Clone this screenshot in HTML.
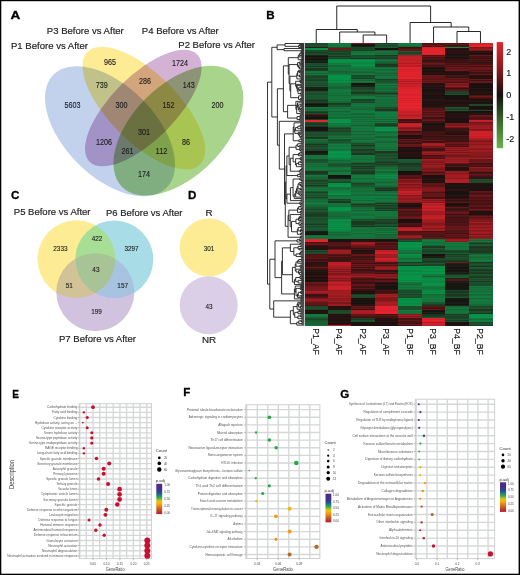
<!DOCTYPE html><html><head><meta charset="utf-8"><style>html,body{margin:0;padding:0;background:#fff;}svg{display:block;} text{font-family:"Liberation Sans",sans-serif;}</style></head><body>
<svg width="520" height="575" viewBox="0 0 520 575">
<rect width="520" height="575" fill="#fff"/>
<text x="10.4" y="18.8" font-size="11.6" fill="#000" font-weight="bold" stroke="#000" stroke-width="0.3" textLength="9.8" lengthAdjust="spacingAndGlyphs">A</text>
<g>
<ellipse cx="0" cy="0" rx="80" ry="45.4" transform="translate(110 131.3) rotate(45)" fill="#c2d2ec" style="mix-blend-mode:multiply"/>
<ellipse cx="0" cy="0" rx="79.6" ry="34.4" transform="translate(143.85 108.1) rotate(45)" fill="#feec95" style="mix-blend-mode:multiply"/>
<ellipse cx="0" cy="0" rx="76" ry="32" transform="translate(143.3 108) rotate(-45)" fill="#d4b2d6" style="mix-blend-mode:multiply"/>
<ellipse cx="0" cy="0" rx="79.6" ry="45.8" transform="translate(178.4 130.6) rotate(-45)" fill="#a9d48b" style="mix-blend-mode:multiply"/>
</g>
<text x="46.8" y="34.4" font-size="9.8" fill="#1e1e1e" stroke="#1e1e1e" stroke-width="0.18" textLength="77" lengthAdjust="spacingAndGlyphs">P3 Before vs After</text>
<text x="141.8" y="34.4" font-size="9.8" fill="#1e1e1e" stroke="#1e1e1e" stroke-width="0.18" textLength="77" lengthAdjust="spacingAndGlyphs">P4 Before vs After</text>
<text x="11" y="49.1" font-size="9.8" fill="#1e1e1e" stroke="#1e1e1e" stroke-width="0.18" textLength="77" lengthAdjust="spacingAndGlyphs">P1 Before vs After</text>
<text x="178.3" y="47.6" font-size="9.8" fill="#1e1e1e" stroke="#1e1e1e" stroke-width="0.18" textLength="76.7" lengthAdjust="spacingAndGlyphs">P2 Before vs After</text>
<text x="104" y="65.4" font-size="8.3" fill="#1a1a1a" stroke="#1a1a1a" stroke-width="0.12" textLength="12" lengthAdjust="spacingAndGlyphs">965</text>
<text x="172" y="65.9" font-size="8.3" fill="#1a1a1a" stroke="#1a1a1a" stroke-width="0.12" textLength="16" lengthAdjust="spacingAndGlyphs">1724</text>
<text x="95.75" y="88.4" font-size="8.3" fill="#1a1a1a" stroke="#1a1a1a" stroke-width="0.12" textLength="12" lengthAdjust="spacingAndGlyphs">739</text>
<text x="139" y="84.15" font-size="8.3" fill="#1a1a1a" stroke="#1a1a1a" stroke-width="0.12" textLength="12" lengthAdjust="spacingAndGlyphs">286</text>
<text x="182.75" y="88.4" font-size="8.3" fill="#1a1a1a" stroke="#1a1a1a" stroke-width="0.12" textLength="12" lengthAdjust="spacingAndGlyphs">143</text>
<text x="64.5" y="108.4" font-size="8.3" fill="#1a1a1a" stroke="#1a1a1a" stroke-width="0.12" textLength="16" lengthAdjust="spacingAndGlyphs">5603</text>
<text x="115.5" y="108.4" font-size="8.3" fill="#1a1a1a" stroke="#1a1a1a" stroke-width="0.12" textLength="12" lengthAdjust="spacingAndGlyphs">300</text>
<text x="162.5" y="108.4" font-size="8.3" fill="#1a1a1a" stroke="#1a1a1a" stroke-width="0.12" textLength="12" lengthAdjust="spacingAndGlyphs">152</text>
<text x="211.5" y="108.4" font-size="8.3" fill="#1a1a1a" stroke="#1a1a1a" stroke-width="0.12" textLength="12" lengthAdjust="spacingAndGlyphs">200</text>
<text x="138" y="134.9" font-size="8.3" fill="#1a1a1a" stroke="#1a1a1a" stroke-width="0.12" textLength="12" lengthAdjust="spacingAndGlyphs">301</text>
<text x="96" y="144.9" font-size="8.3" fill="#1a1a1a" stroke="#1a1a1a" stroke-width="0.12" textLength="16" lengthAdjust="spacingAndGlyphs">1206</text>
<text x="182" y="144.9" font-size="8.3" fill="#1a1a1a" stroke="#1a1a1a" stroke-width="0.12" textLength="8" lengthAdjust="spacingAndGlyphs">86</text>
<text x="121.5" y="154.4" font-size="8.3" fill="#1a1a1a" stroke="#1a1a1a" stroke-width="0.12" textLength="12" lengthAdjust="spacingAndGlyphs">261</text>
<text x="155.5" y="154.4" font-size="8.3" fill="#1a1a1a" stroke="#1a1a1a" stroke-width="0.12" textLength="12" lengthAdjust="spacingAndGlyphs">112</text>
<text x="138" y="177.4" font-size="8.3" fill="#1a1a1a" stroke="#1a1a1a" stroke-width="0.12" textLength="12" lengthAdjust="spacingAndGlyphs">174</text>
<text x="11" y="199" font-size="11.6" fill="#000" font-weight="bold" stroke="#000" stroke-width="0.3">C</text>
<g>
<circle cx="76.5" cy="259.2" r="39" fill="#feec95" style="mix-blend-mode:darken"/>
<circle cx="114.3" cy="259.5" r="39" fill="#a8dde8" style="mix-blend-mode:darken"/>
<circle cx="95.3" cy="292.2" r="39" fill="#d1c3e0" style="mix-blend-mode:darken"/>
</g>
<text x="13.8" y="214.6" font-size="9.8" fill="#1e1e1e" stroke="#1e1e1e" stroke-width="0.18" textLength="76.7" lengthAdjust="spacingAndGlyphs">P5 Before vs After</text>
<text x="106" y="215.6" font-size="9.8" fill="#1e1e1e" stroke="#1e1e1e" stroke-width="0.18" textLength="76.5" lengthAdjust="spacingAndGlyphs">P6 Before vs After</text>
<text x="59" y="342.2" font-size="9.8" fill="#1e1e1e" stroke="#1e1e1e" stroke-width="0.18" textLength="77" lengthAdjust="spacingAndGlyphs">P7 Before vs After</text>
<text x="60.4" y="251.3" font-size="6.4" fill="#1a1a1a" stroke="#1a1a1a" stroke-width="0.1" text-anchor="middle">2333</text>
<text x="97" y="241" font-size="6.4" fill="#1a1a1a" stroke="#1a1a1a" stroke-width="0.1" text-anchor="middle">422</text>
<text x="131.5" y="251" font-size="6.4" fill="#1a1a1a" stroke="#1a1a1a" stroke-width="0.1" text-anchor="middle">3297</text>
<text x="95.9" y="272" font-size="6.4" fill="#1a1a1a" stroke="#1a1a1a" stroke-width="0.1" text-anchor="middle">43</text>
<text x="69.2" y="287.7" font-size="6.4" fill="#1a1a1a" stroke="#1a1a1a" stroke-width="0.1" text-anchor="middle">51</text>
<text x="122.7" y="287.7" font-size="6.4" fill="#1a1a1a" stroke="#1a1a1a" stroke-width="0.1" text-anchor="middle">157</text>
<text x="96.6" y="313.8" font-size="6.4" fill="#1a1a1a" stroke="#1a1a1a" stroke-width="0.1" text-anchor="middle">199</text>
<text x="187.95" y="198.6" font-size="11.6" fill="#000" font-weight="bold" stroke="#000" stroke-width="0.3">D</text>
<circle cx="208.7" cy="247.4" r="29" fill="#feec95"/>
<circle cx="208.7" cy="305.2" r="29" fill="#dbcee7"/>
<text x="209" y="215.7" font-size="9.8" fill="#1e1e1e" stroke="#1e1e1e" stroke-width="0.18" text-anchor="middle">R</text>
<text x="209" y="343.2" font-size="9.8" fill="#1e1e1e" stroke="#1e1e1e" stroke-width="0.18" text-anchor="middle">NR</text>
<text x="209" y="250.8" font-size="6.4" fill="#1a1a1a" stroke="#1a1a1a" stroke-width="0.1" text-anchor="middle">301</text>
<text x="209" y="309.3" font-size="6.4" fill="#1a1a1a" stroke="#1a1a1a" stroke-width="0.1" text-anchor="middle">43</text>
<text x="266.3" y="18.8" font-size="11.6" fill="#000" font-weight="bold" stroke="#000" stroke-width="0.3">B</text>
<g shape-rendering="crispEdges">
<rect x="304.5" y="43" width="23.76" height="1.3" fill="rgb(28,79,44)"/>
<rect x="327.96" y="43" width="23.76" height="1.3" fill="rgb(17,123,62)"/>
<rect x="351.43" y="43" width="23.76" height="1.3" fill="rgb(120,24,27)"/>
<rect x="374.89" y="43" width="23.76" height="1.3" fill="rgb(29,65,38)"/>
<rect x="398.35" y="43" width="23.76" height="1.3" fill="rgb(16,125,63)"/>
<rect x="421.81" y="43" width="23.76" height="1.3" fill="rgb(84,20,22)"/>
<rect x="445.27" y="43" width="23.76" height="1.3" fill="rgb(73,19,20)"/>
<rect x="468.74" y="43" width="23.76" height="1.3" fill="rgb(214,34,42)"/>
<rect x="304.5" y="44" width="23.76" height="1.3" fill="rgb(30,72,41)"/>
<rect x="327.96" y="44" width="23.76" height="1.3" fill="rgb(15,126,64)"/>
<rect x="351.43" y="44" width="23.76" height="1.3" fill="rgb(23,27,20)"/>
<rect x="374.89" y="44" width="23.76" height="1.3" fill="rgb(27,88,48)"/>
<rect x="398.35" y="44" width="23.76" height="1.3" fill="rgb(16,125,63)"/>
<rect x="421.81" y="44" width="23.76" height="1.3" fill="rgb(76,19,21)"/>
<rect x="445.27" y="44" width="23.76" height="1.3" fill="rgb(103,22,24)"/>
<rect x="468.74" y="44" width="23.76" height="1.3" fill="rgb(216,34,43)"/>
<rect x="304.5" y="44.99" width="23.76" height="1.3" fill="rgb(28,83,45)"/>
<rect x="327.96" y="44.99" width="23.76" height="1.3" fill="rgb(23,109,57)"/>
<rect x="351.43" y="44.99" width="23.76" height="1.3" fill="rgb(27,17,16)"/>
<rect x="374.89" y="44.99" width="23.76" height="1.3" fill="rgb(30,69,40)"/>
<rect x="398.35" y="44.99" width="23.76" height="1.3" fill="rgb(20,116,60)"/>
<rect x="421.81" y="44.99" width="23.76" height="1.3" fill="rgb(112,23,26)"/>
<rect x="445.27" y="44.99" width="23.76" height="1.3" fill="rgb(55,18,18)"/>
<rect x="468.74" y="44.99" width="23.76" height="1.3" fill="rgb(230,36,45)"/>
<rect x="304.5" y="45.99" width="23.76" height="1.3" fill="rgb(28,80,44)"/>
<rect x="327.96" y="45.99" width="23.76" height="1.3" fill="rgb(17,123,62)"/>
<rect x="351.43" y="45.99" width="23.76" height="1.3" fill="rgb(25,35,24)"/>
<rect x="374.89" y="45.99" width="23.76" height="1.3" fill="rgb(28,79,44)"/>
<rect x="398.35" y="45.99" width="23.76" height="1.3" fill="rgb(24,102,54)"/>
<rect x="421.81" y="45.99" width="23.76" height="1.3" fill="rgb(60,19,19)"/>
<rect x="445.27" y="45.99" width="23.76" height="1.3" fill="rgb(87,20,22)"/>
<rect x="468.74" y="45.99" width="23.76" height="1.3" fill="rgb(230,36,45)"/>
<rect x="304.5" y="46.99" width="23.76" height="1.3" fill="rgb(62,19,19)"/>
<rect x="327.96" y="46.99" width="23.76" height="1.3" fill="rgb(29,77,43)"/>
<rect x="351.43" y="46.99" width="23.76" height="1.3" fill="rgb(30,70,40)"/>
<rect x="374.89" y="46.99" width="23.76" height="1.3" fill="rgb(26,91,49)"/>
<rect x="398.35" y="46.99" width="23.76" height="1.3" fill="rgb(55,18,18)"/>
<rect x="421.81" y="46.99" width="23.76" height="1.3" fill="rgb(214,34,42)"/>
<rect x="445.27" y="46.99" width="23.76" height="1.3" fill="rgb(11,136,68)"/>
<rect x="468.74" y="46.99" width="23.76" height="1.3" fill="rgb(127,24,28)"/>
<rect x="304.5" y="47.99" width="23.76" height="1.3" fill="rgb(8,142,70)"/>
<rect x="327.96" y="47.99" width="23.76" height="1.3" fill="rgb(107,22,25)"/>
<rect x="351.43" y="47.99" width="23.76" height="1.3" fill="rgb(29,64,37)"/>
<rect x="374.89" y="47.99" width="23.76" height="1.3" fill="rgb(22,17,15)"/>
<rect x="398.35" y="47.99" width="23.76" height="1.3" fill="rgb(77,19,21)"/>
<rect x="421.81" y="47.99" width="23.76" height="1.3" fill="rgb(221,35,44)"/>
<rect x="445.27" y="47.99" width="23.76" height="1.3" fill="rgb(35,18,16)"/>
<rect x="468.74" y="47.99" width="23.76" height="1.3" fill="rgb(143,26,31)"/>
<rect x="304.5" y="48.98" width="23.76" height="1.3" fill="rgb(8,142,70)"/>
<rect x="327.96" y="48.98" width="23.76" height="1.3" fill="rgb(107,22,25)"/>
<rect x="351.43" y="48.98" width="23.76" height="1.3" fill="rgb(28,80,44)"/>
<rect x="374.89" y="48.98" width="23.76" height="1.3" fill="rgb(22,17,15)"/>
<rect x="398.35" y="48.98" width="23.76" height="1.3" fill="rgb(100,21,24)"/>
<rect x="421.81" y="48.98" width="23.76" height="1.3" fill="rgb(230,36,45)"/>
<rect x="445.27" y="48.98" width="23.76" height="1.3" fill="rgb(23,17,15)"/>
<rect x="468.74" y="48.98" width="23.76" height="1.3" fill="rgb(150,27,32)"/>
<rect x="304.5" y="49.98" width="23.76" height="1.3" fill="rgb(30,70,40)"/>
<rect x="327.96" y="49.98" width="23.76" height="1.3" fill="rgb(30,71,40)"/>
<rect x="351.43" y="49.98" width="23.76" height="1.3" fill="rgb(28,55,33)"/>
<rect x="374.89" y="49.98" width="23.76" height="1.3" fill="rgb(27,87,47)"/>
<rect x="398.35" y="49.98" width="23.76" height="1.3" fill="rgb(96,21,23)"/>
<rect x="421.81" y="49.98" width="23.76" height="1.3" fill="rgb(221,35,43)"/>
<rect x="445.27" y="49.98" width="23.76" height="1.3" fill="rgb(48,18,18)"/>
<rect x="468.74" y="49.98" width="23.76" height="1.3" fill="rgb(121,24,27)"/>
<rect x="304.5" y="50.98" width="23.76" height="1.3" fill="rgb(29,75,42)"/>
<rect x="327.96" y="50.98" width="23.76" height="1.3" fill="rgb(29,60,35)"/>
<rect x="351.43" y="50.98" width="23.76" height="1.3" fill="rgb(17,123,62)"/>
<rect x="374.89" y="50.98" width="23.76" height="1.3" fill="rgb(21,114,59)"/>
<rect x="398.35" y="50.98" width="23.76" height="1.3" fill="rgb(26,90,48)"/>
<rect x="421.81" y="50.98" width="23.76" height="1.3" fill="rgb(230,36,45)"/>
<rect x="445.27" y="50.98" width="23.76" height="1.3" fill="rgb(41,18,17)"/>
<rect x="468.74" y="50.98" width="23.76" height="1.3" fill="rgb(34,18,16)"/>
<rect x="304.5" y="51.98" width="23.76" height="1.3" fill="rgb(28,55,33)"/>
<rect x="327.96" y="51.98" width="23.76" height="1.3" fill="rgb(28,79,44)"/>
<rect x="351.43" y="51.98" width="23.76" height="1.3" fill="rgb(23,107,56)"/>
<rect x="374.89" y="51.98" width="23.76" height="1.3" fill="rgb(22,111,57)"/>
<rect x="398.35" y="51.98" width="23.76" height="1.3" fill="rgb(30,69,39)"/>
<rect x="421.81" y="51.98" width="23.76" height="1.3" fill="rgb(226,35,44)"/>
<rect x="445.27" y="51.98" width="23.76" height="1.3" fill="rgb(43,18,17)"/>
<rect x="468.74" y="51.98" width="23.76" height="1.3" fill="rgb(47,18,18)"/>
<rect x="304.5" y="52.97" width="23.76" height="1.3" fill="rgb(29,73,41)"/>
<rect x="327.96" y="52.97" width="23.76" height="1.3" fill="rgb(29,65,38)"/>
<rect x="351.43" y="52.97" width="23.76" height="1.3" fill="rgb(16,125,63)"/>
<rect x="374.89" y="52.97" width="23.76" height="1.3" fill="rgb(23,106,56)"/>
<rect x="398.35" y="52.97" width="23.76" height="1.3" fill="rgb(29,66,38)"/>
<rect x="421.81" y="52.97" width="23.76" height="1.3" fill="rgb(230,36,45)"/>
<rect x="445.27" y="52.97" width="23.76" height="1.3" fill="rgb(43,18,17)"/>
<rect x="468.74" y="52.97" width="23.76" height="1.3" fill="rgb(25,17,15)"/>
<rect x="304.5" y="53.97" width="23.76" height="1.3" fill="rgb(29,76,43)"/>
<rect x="327.96" y="53.97" width="23.76" height="1.3" fill="rgb(29,65,37)"/>
<rect x="351.43" y="53.97" width="23.76" height="1.3" fill="rgb(15,126,64)"/>
<rect x="374.89" y="53.97" width="23.76" height="1.3" fill="rgb(21,115,59)"/>
<rect x="398.35" y="53.97" width="23.76" height="1.3" fill="rgb(27,85,46)"/>
<rect x="421.81" y="53.97" width="23.76" height="1.3" fill="rgb(216,34,43)"/>
<rect x="445.27" y="53.97" width="23.76" height="1.3" fill="rgb(23,21,17)"/>
<rect x="468.74" y="53.97" width="23.76" height="1.3" fill="rgb(41,18,17)"/>
<rect x="304.5" y="54.97" width="23.76" height="1.3" fill="rgb(25,35,23)"/>
<rect x="327.96" y="54.97" width="23.76" height="1.3" fill="rgb(28,82,45)"/>
<rect x="351.43" y="54.97" width="23.76" height="1.3" fill="rgb(29,76,43)"/>
<rect x="374.89" y="54.97" width="23.76" height="1.3" fill="rgb(28,55,33)"/>
<rect x="398.35" y="54.97" width="23.76" height="1.3" fill="rgb(175,29,36)"/>
<rect x="421.81" y="54.97" width="23.76" height="1.3" fill="rgb(78,20,21)"/>
<rect x="445.27" y="54.97" width="23.76" height="1.3" fill="rgb(34,18,16)"/>
<rect x="468.74" y="54.97" width="23.76" height="1.3" fill="rgb(106,22,25)"/>
<rect x="304.5" y="55.97" width="23.76" height="1.3" fill="rgb(23,17,15)"/>
<rect x="327.96" y="55.97" width="23.76" height="1.3" fill="rgb(28,55,33)"/>
<rect x="351.43" y="55.97" width="23.76" height="1.3" fill="rgb(28,80,44)"/>
<rect x="374.89" y="55.97" width="23.76" height="1.3" fill="rgb(29,75,42)"/>
<rect x="398.35" y="55.97" width="23.76" height="1.3" fill="rgb(188,31,38)"/>
<rect x="421.81" y="55.97" width="23.76" height="1.3" fill="rgb(106,22,25)"/>
<rect x="445.27" y="55.97" width="23.76" height="1.3" fill="rgb(47,18,18)"/>
<rect x="468.74" y="55.97" width="23.76" height="1.3" fill="rgb(58,19,19)"/>
<rect x="304.5" y="56.96" width="23.76" height="1.3" fill="rgb(24,34,23)"/>
<rect x="327.96" y="56.96" width="23.76" height="1.3" fill="rgb(28,82,45)"/>
<rect x="351.43" y="56.96" width="23.76" height="1.3" fill="rgb(28,82,45)"/>
<rect x="374.89" y="56.96" width="23.76" height="1.3" fill="rgb(29,73,41)"/>
<rect x="398.35" y="56.96" width="23.76" height="1.3" fill="rgb(199,32,40)"/>
<rect x="421.81" y="56.96" width="23.76" height="1.3" fill="rgb(66,19,20)"/>
<rect x="445.27" y="56.96" width="23.76" height="1.3" fill="rgb(23,22,17)"/>
<rect x="468.74" y="56.96" width="23.76" height="1.3" fill="rgb(76,19,21)"/>
<rect x="304.5" y="57.96" width="23.76" height="1.3" fill="rgb(24,28,20)"/>
<rect x="327.96" y="57.96" width="23.76" height="1.3" fill="rgb(30,69,40)"/>
<rect x="351.43" y="57.96" width="23.76" height="1.3" fill="rgb(28,54,33)"/>
<rect x="374.89" y="57.96" width="23.76" height="1.3" fill="rgb(29,64,37)"/>
<rect x="398.35" y="57.96" width="23.76" height="1.3" fill="rgb(196,32,39)"/>
<rect x="421.81" y="57.96" width="23.76" height="1.3" fill="rgb(89,20,22)"/>
<rect x="445.27" y="57.96" width="23.76" height="1.3" fill="rgb(38,18,17)"/>
<rect x="468.74" y="57.96" width="23.76" height="1.3" fill="rgb(55,18,18)"/>
<rect x="304.5" y="58.96" width="23.76" height="1.3" fill="rgb(25,17,15)"/>
<rect x="327.96" y="58.96" width="23.76" height="1.3" fill="rgb(11,136,68)"/>
<rect x="351.43" y="58.96" width="23.76" height="1.3" fill="rgb(12,133,67)"/>
<rect x="374.89" y="58.96" width="23.76" height="1.3" fill="rgb(24,103,54)"/>
<rect x="398.35" y="58.96" width="23.76" height="1.3" fill="rgb(190,31,38)"/>
<rect x="421.81" y="58.96" width="23.76" height="1.3" fill="rgb(75,19,21)"/>
<rect x="445.27" y="58.96" width="23.76" height="1.3" fill="rgb(55,19,19)"/>
<rect x="468.74" y="58.96" width="23.76" height="1.3" fill="rgb(90,20,22)"/>
<rect x="304.5" y="59.96" width="23.76" height="1.3" fill="rgb(25,37,24)"/>
<rect x="327.96" y="59.96" width="23.76" height="1.3" fill="rgb(7,149,73)"/>
<rect x="351.43" y="59.96" width="23.76" height="1.3" fill="rgb(7,147,72)"/>
<rect x="374.89" y="59.96" width="23.76" height="1.3" fill="rgb(17,123,62)"/>
<rect x="398.35" y="59.96" width="23.76" height="1.3" fill="rgb(188,31,38)"/>
<rect x="421.81" y="59.96" width="23.76" height="1.3" fill="rgb(55,18,18)"/>
<rect x="445.27" y="59.96" width="23.76" height="1.3" fill="rgb(55,18,18)"/>
<rect x="468.74" y="59.96" width="23.76" height="1.3" fill="rgb(58,19,19)"/>
<rect x="304.5" y="60.95" width="23.76" height="1.3" fill="rgb(25,36,24)"/>
<rect x="327.96" y="60.95" width="23.76" height="1.3" fill="rgb(7,145,71)"/>
<rect x="351.43" y="60.95" width="23.76" height="1.3" fill="rgb(7,150,73)"/>
<rect x="374.89" y="60.95" width="23.76" height="1.3" fill="rgb(24,100,53)"/>
<rect x="398.35" y="60.95" width="23.76" height="1.3" fill="rgb(200,32,40)"/>
<rect x="421.81" y="60.95" width="23.76" height="1.3" fill="rgb(58,19,19)"/>
<rect x="445.27" y="60.95" width="23.76" height="1.3" fill="rgb(65,19,20)"/>
<rect x="468.74" y="60.95" width="23.76" height="1.3" fill="rgb(71,19,20)"/>
<rect x="304.5" y="61.95" width="23.76" height="1.3" fill="rgb(24,29,20)"/>
<rect x="327.96" y="61.95" width="23.76" height="1.3" fill="rgb(7,148,72)"/>
<rect x="351.43" y="61.95" width="23.76" height="1.3" fill="rgb(12,134,67)"/>
<rect x="374.89" y="61.95" width="23.76" height="1.3" fill="rgb(25,95,51)"/>
<rect x="398.35" y="61.95" width="23.76" height="1.3" fill="rgb(194,31,39)"/>
<rect x="421.81" y="61.95" width="23.76" height="1.3" fill="rgb(80,20,21)"/>
<rect x="445.27" y="61.95" width="23.76" height="1.3" fill="rgb(55,18,18)"/>
<rect x="468.74" y="61.95" width="23.76" height="1.3" fill="rgb(55,19,19)"/>
<rect x="304.5" y="62.95" width="23.76" height="1.3" fill="rgb(28,78,43)"/>
<rect x="327.96" y="62.95" width="23.76" height="1.3" fill="rgb(18,120,61)"/>
<rect x="351.43" y="62.95" width="23.76" height="1.3" fill="rgb(11,135,67)"/>
<rect x="374.89" y="62.95" width="23.76" height="1.3" fill="rgb(27,85,46)"/>
<rect x="398.35" y="62.95" width="23.76" height="1.3" fill="rgb(172,29,35)"/>
<rect x="421.81" y="62.95" width="23.76" height="1.3" fill="rgb(110,22,26)"/>
<rect x="445.27" y="62.95" width="23.76" height="1.3" fill="rgb(83,20,21)"/>
<rect x="468.74" y="62.95" width="23.76" height="1.3" fill="rgb(58,19,19)"/>
<rect x="304.5" y="63.95" width="23.76" height="1.3" fill="rgb(30,70,40)"/>
<rect x="327.96" y="63.95" width="23.76" height="1.3" fill="rgb(15,126,64)"/>
<rect x="351.43" y="63.95" width="23.76" height="1.3" fill="rgb(8,142,70)"/>
<rect x="374.89" y="63.95" width="23.76" height="1.3" fill="rgb(28,54,33)"/>
<rect x="398.35" y="63.95" width="23.76" height="1.3" fill="rgb(208,33,41)"/>
<rect x="421.81" y="63.95" width="23.76" height="1.3" fill="rgb(94,21,23)"/>
<rect x="445.27" y="63.95" width="23.76" height="1.3" fill="rgb(66,19,20)"/>
<rect x="468.74" y="63.95" width="23.76" height="1.3" fill="rgb(73,19,20)"/>
<rect x="304.5" y="64.94" width="23.76" height="1.3" fill="rgb(27,85,46)"/>
<rect x="327.96" y="64.94" width="23.76" height="1.3" fill="rgb(24,104,54)"/>
<rect x="351.43" y="64.94" width="23.76" height="1.3" fill="rgb(8,142,70)"/>
<rect x="374.89" y="64.94" width="23.76" height="1.3" fill="rgb(28,59,35)"/>
<rect x="398.35" y="64.94" width="23.76" height="1.3" fill="rgb(187,31,38)"/>
<rect x="421.81" y="64.94" width="23.76" height="1.3" fill="rgb(63,19,19)"/>
<rect x="445.27" y="64.94" width="23.76" height="1.3" fill="rgb(102,21,24)"/>
<rect x="468.74" y="64.94" width="23.76" height="1.3" fill="rgb(113,23,26)"/>
<rect x="304.5" y="65.94" width="23.76" height="1.3" fill="rgb(28,56,33)"/>
<rect x="327.96" y="65.94" width="23.76" height="1.3" fill="rgb(24,103,54)"/>
<rect x="351.43" y="65.94" width="23.76" height="1.3" fill="rgb(11,135,67)"/>
<rect x="374.89" y="65.94" width="23.76" height="1.3" fill="rgb(29,61,36)"/>
<rect x="398.35" y="65.94" width="23.76" height="1.3" fill="rgb(182,30,37)"/>
<rect x="421.81" y="65.94" width="23.76" height="1.3" fill="rgb(83,20,21)"/>
<rect x="445.27" y="65.94" width="23.76" height="1.3" fill="rgb(72,19,20)"/>
<rect x="468.74" y="65.94" width="23.76" height="1.3" fill="rgb(55,18,18)"/>
<rect x="304.5" y="66.94" width="23.76" height="1.3" fill="rgb(26,90,49)"/>
<rect x="327.96" y="66.94" width="23.76" height="1.3" fill="rgb(19,119,61)"/>
<rect x="351.43" y="66.94" width="23.76" height="1.3" fill="rgb(18,120,61)"/>
<rect x="374.89" y="66.94" width="23.76" height="1.3" fill="rgb(23,107,56)"/>
<rect x="398.35" y="66.94" width="23.76" height="1.3" fill="rgb(230,36,45)"/>
<rect x="421.81" y="66.94" width="23.76" height="1.3" fill="rgb(30,17,16)"/>
<rect x="445.27" y="66.94" width="23.76" height="1.3" fill="rgb(110,22,25)"/>
<rect x="468.74" y="66.94" width="23.76" height="1.3" fill="rgb(113,23,26)"/>
<rect x="304.5" y="67.94" width="23.76" height="1.3" fill="rgb(28,54,33)"/>
<rect x="327.96" y="67.94" width="23.76" height="1.3" fill="rgb(20,117,60)"/>
<rect x="351.43" y="67.94" width="23.76" height="1.3" fill="rgb(18,121,62)"/>
<rect x="374.89" y="67.94" width="23.76" height="1.3" fill="rgb(18,121,62)"/>
<rect x="398.35" y="67.94" width="23.76" height="1.3" fill="rgb(218,34,43)"/>
<rect x="421.81" y="67.94" width="23.76" height="1.3" fill="rgb(22,17,15)"/>
<rect x="445.27" y="67.94" width="23.76" height="1.3" fill="rgb(90,20,22)"/>
<rect x="468.74" y="67.94" width="23.76" height="1.3" fill="rgb(107,22,25)"/>
<rect x="304.5" y="68.93" width="23.76" height="1.3" fill="rgb(28,56,34)"/>
<rect x="327.96" y="68.93" width="23.76" height="1.3" fill="rgb(21,114,59)"/>
<rect x="351.43" y="68.93" width="23.76" height="1.3" fill="rgb(23,108,56)"/>
<rect x="374.89" y="68.93" width="23.76" height="1.3" fill="rgb(24,103,54)"/>
<rect x="398.35" y="68.93" width="23.76" height="1.3" fill="rgb(215,34,42)"/>
<rect x="421.81" y="68.93" width="23.76" height="1.3" fill="rgb(37,18,17)"/>
<rect x="445.27" y="68.93" width="23.76" height="1.3" fill="rgb(108,22,25)"/>
<rect x="468.74" y="68.93" width="23.76" height="1.3" fill="rgb(100,21,24)"/>
<rect x="304.5" y="69.93" width="23.76" height="1.3" fill="rgb(29,61,36)"/>
<rect x="327.96" y="69.93" width="23.76" height="1.3" fill="rgb(21,114,59)"/>
<rect x="351.43" y="69.93" width="23.76" height="1.3" fill="rgb(17,122,62)"/>
<rect x="374.89" y="69.93" width="23.76" height="1.3" fill="rgb(24,103,54)"/>
<rect x="398.35" y="69.93" width="23.76" height="1.3" fill="rgb(222,35,44)"/>
<rect x="421.81" y="69.93" width="23.76" height="1.3" fill="rgb(42,18,17)"/>
<rect x="445.27" y="69.93" width="23.76" height="1.3" fill="rgb(112,23,26)"/>
<rect x="468.74" y="69.93" width="23.76" height="1.3" fill="rgb(75,19,21)"/>
<rect x="304.5" y="70.93" width="23.76" height="1.3" fill="rgb(20,116,60)"/>
<rect x="327.96" y="70.93" width="23.76" height="1.3" fill="rgb(25,97,52)"/>
<rect x="351.43" y="70.93" width="23.76" height="1.3" fill="rgb(23,106,55)"/>
<rect x="374.89" y="70.93" width="23.76" height="1.3" fill="rgb(17,122,62)"/>
<rect x="398.35" y="70.93" width="23.76" height="1.3" fill="rgb(216,34,43)"/>
<rect x="421.81" y="70.93" width="23.76" height="1.3" fill="rgb(22,18,16)"/>
<rect x="445.27" y="70.93" width="23.76" height="1.3" fill="rgb(45,18,17)"/>
<rect x="468.74" y="70.93" width="23.76" height="1.3" fill="rgb(101,21,24)"/>
<rect x="304.5" y="71.93" width="23.76" height="1.3" fill="rgb(17,123,62)"/>
<rect x="327.96" y="71.93" width="23.76" height="1.3" fill="rgb(24,102,54)"/>
<rect x="351.43" y="71.93" width="23.76" height="1.3" fill="rgb(25,96,51)"/>
<rect x="374.89" y="71.93" width="23.76" height="1.3" fill="rgb(23,108,56)"/>
<rect x="398.35" y="71.93" width="23.76" height="1.3" fill="rgb(223,35,44)"/>
<rect x="421.81" y="71.93" width="23.76" height="1.3" fill="rgb(34,18,16)"/>
<rect x="445.27" y="71.93" width="23.76" height="1.3" fill="rgb(22,19,16)"/>
<rect x="468.74" y="71.93" width="23.76" height="1.3" fill="rgb(55,18,18)"/>
<rect x="304.5" y="72.92" width="23.76" height="1.3" fill="rgb(25,96,51)"/>
<rect x="327.96" y="72.92" width="23.76" height="1.3" fill="rgb(23,108,56)"/>
<rect x="351.43" y="72.92" width="23.76" height="1.3" fill="rgb(22,113,58)"/>
<rect x="374.89" y="72.92" width="23.76" height="1.3" fill="rgb(25,98,52)"/>
<rect x="398.35" y="72.92" width="23.76" height="1.3" fill="rgb(225,35,44)"/>
<rect x="421.81" y="72.92" width="23.76" height="1.3" fill="rgb(44,18,17)"/>
<rect x="445.27" y="72.92" width="23.76" height="1.3" fill="rgb(43,18,17)"/>
<rect x="468.74" y="72.92" width="23.76" height="1.3" fill="rgb(62,19,19)"/>
<rect x="304.5" y="73.92" width="23.76" height="1.3" fill="rgb(18,120,61)"/>
<rect x="327.96" y="73.92" width="23.76" height="1.3" fill="rgb(19,119,61)"/>
<rect x="351.43" y="73.92" width="23.76" height="1.3" fill="rgb(18,121,61)"/>
<rect x="374.89" y="73.92" width="23.76" height="1.3" fill="rgb(22,111,57)"/>
<rect x="398.35" y="73.92" width="23.76" height="1.3" fill="rgb(220,35,43)"/>
<rect x="421.81" y="73.92" width="23.76" height="1.3" fill="rgb(29,17,16)"/>
<rect x="445.27" y="73.92" width="23.76" height="1.3" fill="rgb(22,19,16)"/>
<rect x="468.74" y="73.92" width="23.76" height="1.3" fill="rgb(108,22,25)"/>
<rect x="304.5" y="74.92" width="23.76" height="1.3" fill="rgb(29,78,43)"/>
<rect x="327.96" y="74.92" width="23.76" height="1.3" fill="rgb(8,143,71)"/>
<rect x="351.43" y="74.92" width="23.76" height="1.3" fill="rgb(30,69,39)"/>
<rect x="374.89" y="74.92" width="23.76" height="1.3" fill="rgb(25,99,52)"/>
<rect x="398.35" y="74.92" width="23.76" height="1.3" fill="rgb(225,35,44)"/>
<rect x="421.81" y="74.92" width="23.76" height="1.3" fill="rgb(108,22,25)"/>
<rect x="445.27" y="74.92" width="23.76" height="1.3" fill="rgb(82,20,21)"/>
<rect x="468.74" y="74.92" width="23.76" height="1.3" fill="rgb(33,17,16)"/>
<rect x="304.5" y="75.92" width="23.76" height="1.3" fill="rgb(30,71,41)"/>
<rect x="327.96" y="75.92" width="23.76" height="1.3" fill="rgb(7,150,73)"/>
<rect x="351.43" y="75.92" width="23.76" height="1.3" fill="rgb(29,74,42)"/>
<rect x="374.89" y="75.92" width="23.76" height="1.3" fill="rgb(17,122,62)"/>
<rect x="398.35" y="75.92" width="23.76" height="1.3" fill="rgb(212,34,42)"/>
<rect x="421.81" y="75.92" width="23.76" height="1.3" fill="rgb(101,21,24)"/>
<rect x="445.27" y="75.92" width="23.76" height="1.3" fill="rgb(60,19,19)"/>
<rect x="468.74" y="75.92" width="23.76" height="1.3" fill="rgb(31,17,16)"/>
<rect x="304.5" y="76.91" width="23.76" height="1.3" fill="rgb(29,62,36)"/>
<rect x="327.96" y="76.91" width="23.76" height="1.3" fill="rgb(8,142,70)"/>
<rect x="351.43" y="76.91" width="23.76" height="1.3" fill="rgb(28,79,44)"/>
<rect x="374.89" y="76.91" width="23.76" height="1.3" fill="rgb(22,113,58)"/>
<rect x="398.35" y="76.91" width="23.76" height="1.3" fill="rgb(229,36,45)"/>
<rect x="421.81" y="76.91" width="23.76" height="1.3" fill="rgb(100,21,24)"/>
<rect x="445.27" y="76.91" width="23.76" height="1.3" fill="rgb(55,19,19)"/>
<rect x="468.74" y="76.91" width="23.76" height="1.3" fill="rgb(34,18,16)"/>
<rect x="304.5" y="77.91" width="23.76" height="1.3" fill="rgb(28,82,45)"/>
<rect x="327.96" y="77.91" width="23.76" height="1.3" fill="rgb(7,146,72)"/>
<rect x="351.43" y="77.91" width="23.76" height="1.3" fill="rgb(28,60,35)"/>
<rect x="374.89" y="77.91" width="23.76" height="1.3" fill="rgb(21,113,59)"/>
<rect x="398.35" y="77.91" width="23.76" height="1.3" fill="rgb(229,36,45)"/>
<rect x="421.81" y="77.91" width="23.76" height="1.3" fill="rgb(98,21,24)"/>
<rect x="445.27" y="77.91" width="23.76" height="1.3" fill="rgb(108,22,25)"/>
<rect x="468.74" y="77.91" width="23.76" height="1.3" fill="rgb(30,17,16)"/>
<rect x="304.5" y="78.91" width="23.76" height="1.3" fill="rgb(30,67,39)"/>
<rect x="327.96" y="78.91" width="23.76" height="1.3" fill="rgb(8,143,70)"/>
<rect x="351.43" y="78.91" width="23.76" height="1.3" fill="rgb(21,113,58)"/>
<rect x="374.89" y="78.91" width="23.76" height="1.3" fill="rgb(29,63,37)"/>
<rect x="398.35" y="78.91" width="23.76" height="1.3" fill="rgb(193,31,39)"/>
<rect x="421.81" y="78.91" width="23.76" height="1.3" fill="rgb(84,20,22)"/>
<rect x="445.27" y="78.91" width="23.76" height="1.3" fill="rgb(80,20,21)"/>
<rect x="468.74" y="78.91" width="23.76" height="1.3" fill="rgb(110,22,25)"/>
<rect x="304.5" y="79.91" width="23.76" height="1.3" fill="rgb(29,63,37)"/>
<rect x="327.96" y="79.91" width="23.76" height="1.3" fill="rgb(12,133,67)"/>
<rect x="351.43" y="79.91" width="23.76" height="1.3" fill="rgb(25,97,52)"/>
<rect x="374.89" y="79.91" width="23.76" height="1.3" fill="rgb(28,81,45)"/>
<rect x="398.35" y="79.91" width="23.76" height="1.3" fill="rgb(198,32,40)"/>
<rect x="421.81" y="79.91" width="23.76" height="1.3" fill="rgb(110,22,25)"/>
<rect x="445.27" y="79.91" width="23.76" height="1.3" fill="rgb(103,22,24)"/>
<rect x="468.74" y="79.91" width="23.76" height="1.3" fill="rgb(57,19,19)"/>
<rect x="304.5" y="80.9" width="23.76" height="1.3" fill="rgb(27,86,47)"/>
<rect x="327.96" y="80.9" width="23.76" height="1.3" fill="rgb(8,144,71)"/>
<rect x="351.43" y="80.9" width="23.76" height="1.3" fill="rgb(16,125,63)"/>
<rect x="374.89" y="80.9" width="23.76" height="1.3" fill="rgb(28,82,45)"/>
<rect x="398.35" y="80.9" width="23.76" height="1.3" fill="rgb(175,29,36)"/>
<rect x="421.81" y="80.9" width="23.76" height="1.3" fill="rgb(92,20,23)"/>
<rect x="445.27" y="80.9" width="23.76" height="1.3" fill="rgb(100,21,24)"/>
<rect x="468.74" y="80.9" width="23.76" height="1.3" fill="rgb(107,22,25)"/>
<rect x="304.5" y="81.9" width="23.76" height="1.3" fill="rgb(27,85,46)"/>
<rect x="327.96" y="81.9" width="23.76" height="1.3" fill="rgb(10,138,68)"/>
<rect x="351.43" y="81.9" width="23.76" height="1.3" fill="rgb(23,108,56)"/>
<rect x="374.89" y="81.9" width="23.76" height="1.3" fill="rgb(27,86,47)"/>
<rect x="398.35" y="81.9" width="23.76" height="1.3" fill="rgb(208,33,41)"/>
<rect x="421.81" y="81.9" width="23.76" height="1.3" fill="rgb(112,23,26)"/>
<rect x="445.27" y="81.9" width="23.76" height="1.3" fill="rgb(63,19,19)"/>
<rect x="468.74" y="81.9" width="23.76" height="1.3" fill="rgb(111,22,26)"/>
<rect x="304.5" y="82.9" width="23.76" height="1.3" fill="rgb(29,76,43)"/>
<rect x="327.96" y="82.9" width="23.76" height="1.3" fill="rgb(21,114,59)"/>
<rect x="351.43" y="82.9" width="23.76" height="1.3" fill="rgb(28,17,16)"/>
<rect x="374.89" y="82.9" width="23.76" height="1.3" fill="rgb(24,102,54)"/>
<rect x="398.35" y="82.9" width="23.76" height="1.3" fill="rgb(179,30,36)"/>
<rect x="421.81" y="82.9" width="23.76" height="1.3" fill="rgb(30,17,16)"/>
<rect x="445.27" y="82.9" width="23.76" height="1.3" fill="rgb(147,26,31)"/>
<rect x="468.74" y="82.9" width="23.76" height="1.3" fill="rgb(27,17,15)"/>
<rect x="304.5" y="83.9" width="23.76" height="1.3" fill="rgb(27,84,46)"/>
<rect x="327.96" y="83.9" width="23.76" height="1.3" fill="rgb(19,118,61)"/>
<rect x="351.43" y="83.9" width="23.76" height="1.3" fill="rgb(22,19,16)"/>
<rect x="374.89" y="83.9" width="23.76" height="1.3" fill="rgb(15,126,64)"/>
<rect x="398.35" y="83.9" width="23.76" height="1.3" fill="rgb(198,32,40)"/>
<rect x="421.81" y="83.9" width="23.76" height="1.3" fill="rgb(30,17,16)"/>
<rect x="445.27" y="83.9" width="23.76" height="1.3" fill="rgb(115,23,26)"/>
<rect x="468.74" y="83.9" width="23.76" height="1.3" fill="rgb(26,17,15)"/>
<rect x="304.5" y="84.89" width="23.76" height="1.3" fill="rgb(30,67,38)"/>
<rect x="327.96" y="84.89" width="23.76" height="1.3" fill="rgb(21,113,58)"/>
<rect x="351.43" y="84.89" width="23.76" height="1.3" fill="rgb(25,36,24)"/>
<rect x="374.89" y="84.89" width="23.76" height="1.3" fill="rgb(25,96,51)"/>
<rect x="398.35" y="84.89" width="23.76" height="1.3" fill="rgb(206,33,41)"/>
<rect x="421.81" y="84.89" width="23.76" height="1.3" fill="rgb(47,18,18)"/>
<rect x="445.27" y="84.89" width="23.76" height="1.3" fill="rgb(120,24,27)"/>
<rect x="468.74" y="84.89" width="23.76" height="1.3" fill="rgb(24,17,15)"/>
<rect x="304.5" y="85.89" width="23.76" height="1.3" fill="rgb(26,90,48)"/>
<rect x="327.96" y="85.89" width="23.76" height="1.3" fill="rgb(24,104,54)"/>
<rect x="351.43" y="85.89" width="23.76" height="1.3" fill="rgb(24,31,22)"/>
<rect x="374.89" y="85.89" width="23.76" height="1.3" fill="rgb(17,124,63)"/>
<rect x="398.35" y="85.89" width="23.76" height="1.3" fill="rgb(191,31,39)"/>
<rect x="421.81" y="85.89" width="23.76" height="1.3" fill="rgb(45,18,17)"/>
<rect x="445.27" y="85.89" width="23.76" height="1.3" fill="rgb(163,28,34)"/>
<rect x="468.74" y="85.89" width="23.76" height="1.3" fill="rgb(24,17,15)"/>
<rect x="304.5" y="86.89" width="23.76" height="1.3" fill="rgb(25,34,23)"/>
<rect x="327.96" y="86.89" width="23.76" height="1.3" fill="rgb(25,98,52)"/>
<rect x="351.43" y="86.89" width="23.76" height="1.3" fill="rgb(30,69,40)"/>
<rect x="374.89" y="86.89" width="23.76" height="1.3" fill="rgb(23,107,56)"/>
<rect x="398.35" y="86.89" width="23.76" height="1.3" fill="rgb(215,34,42)"/>
<rect x="421.81" y="86.89" width="23.76" height="1.3" fill="rgb(23,21,17)"/>
<rect x="445.27" y="86.89" width="23.76" height="1.3" fill="rgb(94,21,23)"/>
<rect x="468.74" y="86.89" width="23.76" height="1.3" fill="rgb(29,17,16)"/>
<rect x="304.5" y="87.89" width="23.76" height="1.3" fill="rgb(25,36,24)"/>
<rect x="327.96" y="87.89" width="23.76" height="1.3" fill="rgb(25,98,52)"/>
<rect x="351.43" y="87.89" width="23.76" height="1.3" fill="rgb(29,66,38)"/>
<rect x="374.89" y="87.89" width="23.76" height="1.3" fill="rgb(24,103,54)"/>
<rect x="398.35" y="87.89" width="23.76" height="1.3" fill="rgb(215,34,42)"/>
<rect x="421.81" y="87.89" width="23.76" height="1.3" fill="rgb(44,18,17)"/>
<rect x="445.27" y="87.89" width="23.76" height="1.3" fill="rgb(55,18,18)"/>
<rect x="468.74" y="87.89" width="23.76" height="1.3" fill="rgb(44,18,17)"/>
<rect x="304.5" y="88.88" width="23.76" height="1.3" fill="rgb(23,26,19)"/>
<rect x="327.96" y="88.88" width="23.76" height="1.3" fill="rgb(19,118,60)"/>
<rect x="351.43" y="88.88" width="23.76" height="1.3" fill="rgb(30,70,40)"/>
<rect x="374.89" y="88.88" width="23.76" height="1.3" fill="rgb(25,98,52)"/>
<rect x="398.35" y="88.88" width="23.76" height="1.3" fill="rgb(220,35,43)"/>
<rect x="421.81" y="88.88" width="23.76" height="1.3" fill="rgb(22,19,16)"/>
<rect x="445.27" y="88.88" width="23.76" height="1.3" fill="rgb(83,20,21)"/>
<rect x="468.74" y="88.88" width="23.76" height="1.3" fill="rgb(23,17,15)"/>
<rect x="304.5" y="89.88" width="23.76" height="1.3" fill="rgb(25,35,24)"/>
<rect x="327.96" y="89.88" width="23.76" height="1.3" fill="rgb(17,123,62)"/>
<rect x="351.43" y="89.88" width="23.76" height="1.3" fill="rgb(26,89,48)"/>
<rect x="374.89" y="89.88" width="23.76" height="1.3" fill="rgb(18,122,62)"/>
<rect x="398.35" y="89.88" width="23.76" height="1.3" fill="rgb(221,35,44)"/>
<rect x="421.81" y="89.88" width="23.76" height="1.3" fill="rgb(25,17,15)"/>
<rect x="445.27" y="89.88" width="23.76" height="1.3" fill="rgb(98,21,24)"/>
<rect x="468.74" y="89.88" width="23.76" height="1.3" fill="rgb(25,17,15)"/>
<rect x="304.5" y="90.88" width="23.76" height="1.3" fill="rgb(30,72,41)"/>
<rect x="327.96" y="90.88" width="23.76" height="1.3" fill="rgb(17,122,62)"/>
<rect x="351.43" y="90.88" width="23.76" height="1.3" fill="rgb(28,78,43)"/>
<rect x="374.89" y="90.88" width="23.76" height="1.3" fill="rgb(26,90,49)"/>
<rect x="398.35" y="90.88" width="23.76" height="1.3" fill="rgb(220,35,43)"/>
<rect x="421.81" y="90.88" width="23.76" height="1.3" fill="rgb(23,22,17)"/>
<rect x="445.27" y="90.88" width="23.76" height="1.3" fill="rgb(29,62,36)"/>
<rect x="468.74" y="90.88" width="23.76" height="1.3" fill="rgb(34,18,16)"/>
<rect x="304.5" y="91.88" width="23.76" height="1.3" fill="rgb(27,84,46)"/>
<rect x="327.96" y="91.88" width="23.76" height="1.3" fill="rgb(21,114,59)"/>
<rect x="351.43" y="91.88" width="23.76" height="1.3" fill="rgb(28,54,33)"/>
<rect x="374.89" y="91.88" width="23.76" height="1.3" fill="rgb(27,87,47)"/>
<rect x="398.35" y="91.88" width="23.76" height="1.3" fill="rgb(230,36,45)"/>
<rect x="421.81" y="91.88" width="23.76" height="1.3" fill="rgb(30,17,16)"/>
<rect x="445.27" y="91.88" width="23.76" height="1.3" fill="rgb(30,72,41)"/>
<rect x="468.74" y="91.88" width="23.76" height="1.3" fill="rgb(43,18,17)"/>
<rect x="304.5" y="92.87" width="23.76" height="1.3" fill="rgb(29,76,43)"/>
<rect x="327.96" y="92.87" width="23.76" height="1.3" fill="rgb(21,113,59)"/>
<rect x="351.43" y="92.87" width="23.76" height="1.3" fill="rgb(29,64,37)"/>
<rect x="374.89" y="92.87" width="23.76" height="1.3" fill="rgb(28,54,33)"/>
<rect x="398.35" y="92.87" width="23.76" height="1.3" fill="rgb(222,35,44)"/>
<rect x="421.81" y="92.87" width="23.76" height="1.3" fill="rgb(43,18,17)"/>
<rect x="445.27" y="92.87" width="23.76" height="1.3" fill="rgb(29,63,37)"/>
<rect x="468.74" y="92.87" width="23.76" height="1.3" fill="rgb(36,18,17)"/>
<rect x="304.5" y="93.87" width="23.76" height="1.3" fill="rgb(29,76,42)"/>
<rect x="327.96" y="93.87" width="23.76" height="1.3" fill="rgb(19,118,60)"/>
<rect x="351.43" y="93.87" width="23.76" height="1.3" fill="rgb(26,89,48)"/>
<rect x="374.89" y="93.87" width="23.76" height="1.3" fill="rgb(27,86,47)"/>
<rect x="398.35" y="93.87" width="23.76" height="1.3" fill="rgb(214,34,42)"/>
<rect x="421.81" y="93.87" width="23.76" height="1.3" fill="rgb(40,18,17)"/>
<rect x="445.27" y="93.87" width="23.76" height="1.3" fill="rgb(28,81,45)"/>
<rect x="468.74" y="93.87" width="23.76" height="1.3" fill="rgb(22,18,15)"/>
<rect x="304.5" y="94.87" width="23.76" height="1.3" fill="rgb(27,88,48)"/>
<rect x="327.96" y="94.87" width="23.76" height="1.3" fill="rgb(24,101,53)"/>
<rect x="351.43" y="94.87" width="23.76" height="1.3" fill="rgb(24,100,53)"/>
<rect x="374.89" y="94.87" width="23.76" height="1.3" fill="rgb(23,108,56)"/>
<rect x="398.35" y="94.87" width="23.76" height="1.3" fill="rgb(220,35,43)"/>
<rect x="421.81" y="94.87" width="23.76" height="1.3" fill="rgb(23,17,15)"/>
<rect x="445.27" y="94.87" width="23.76" height="1.3" fill="rgb(25,17,15)"/>
<rect x="468.74" y="94.87" width="23.76" height="1.3" fill="rgb(79,20,21)"/>
<rect x="304.5" y="95.86" width="23.76" height="1.3" fill="rgb(27,85,46)"/>
<rect x="327.96" y="95.86" width="23.76" height="1.3" fill="rgb(21,115,59)"/>
<rect x="351.43" y="95.86" width="23.76" height="1.3" fill="rgb(18,120,61)"/>
<rect x="374.89" y="95.86" width="23.76" height="1.3" fill="rgb(25,97,51)"/>
<rect x="398.35" y="95.86" width="23.76" height="1.3" fill="rgb(230,36,45)"/>
<rect x="421.81" y="95.86" width="23.76" height="1.3" fill="rgb(33,18,16)"/>
<rect x="445.27" y="95.86" width="23.76" height="1.3" fill="rgb(23,17,15)"/>
<rect x="468.74" y="95.86" width="23.76" height="1.3" fill="rgb(111,23,26)"/>
<rect x="304.5" y="96.86" width="23.76" height="1.3" fill="rgb(28,79,44)"/>
<rect x="327.96" y="96.86" width="23.76" height="1.3" fill="rgb(19,117,60)"/>
<rect x="351.43" y="96.86" width="23.76" height="1.3" fill="rgb(15,127,64)"/>
<rect x="374.89" y="96.86" width="23.76" height="1.3" fill="rgb(20,117,60)"/>
<rect x="398.35" y="96.86" width="23.76" height="1.3" fill="rgb(226,35,44)"/>
<rect x="421.81" y="96.86" width="23.76" height="1.3" fill="rgb(32,17,16)"/>
<rect x="445.27" y="96.86" width="23.76" height="1.3" fill="rgb(22,17,15)"/>
<rect x="468.74" y="96.86" width="23.76" height="1.3" fill="rgb(82,20,21)"/>
<rect x="304.5" y="97.86" width="23.76" height="1.3" fill="rgb(26,91,49)"/>
<rect x="327.96" y="97.86" width="23.76" height="1.3" fill="rgb(18,120,61)"/>
<rect x="351.43" y="97.86" width="23.76" height="1.3" fill="rgb(16,125,63)"/>
<rect x="374.89" y="97.86" width="23.76" height="1.3" fill="rgb(20,116,60)"/>
<rect x="398.35" y="97.86" width="23.76" height="1.3" fill="rgb(213,34,42)"/>
<rect x="421.81" y="97.86" width="23.76" height="1.3" fill="rgb(23,22,17)"/>
<rect x="445.27" y="97.86" width="23.76" height="1.3" fill="rgb(25,17,15)"/>
<rect x="468.74" y="97.86" width="23.76" height="1.3" fill="rgb(64,19,19)"/>
<rect x="304.5" y="98.86" width="23.76" height="1.3" fill="rgb(30,69,39)"/>
<rect x="327.96" y="98.86" width="23.76" height="1.3" fill="rgb(22,113,58)"/>
<rect x="351.43" y="98.86" width="23.76" height="1.3" fill="rgb(29,61,36)"/>
<rect x="374.89" y="98.86" width="23.76" height="1.3" fill="rgb(23,108,56)"/>
<rect x="398.35" y="98.86" width="23.76" height="1.3" fill="rgb(230,36,45)"/>
<rect x="421.81" y="98.86" width="23.76" height="1.3" fill="rgb(44,18,17)"/>
<rect x="445.27" y="98.86" width="23.76" height="1.3" fill="rgb(28,17,16)"/>
<rect x="468.74" y="98.86" width="23.76" height="1.3" fill="rgb(26,17,15)"/>
<rect x="304.5" y="99.85" width="23.76" height="1.3" fill="rgb(28,54,33)"/>
<rect x="327.96" y="99.85" width="23.76" height="1.3" fill="rgb(17,123,62)"/>
<rect x="351.43" y="99.85" width="23.76" height="1.3" fill="rgb(29,62,36)"/>
<rect x="374.89" y="99.85" width="23.76" height="1.3" fill="rgb(23,109,57)"/>
<rect x="398.35" y="99.85" width="23.76" height="1.3" fill="rgb(213,34,42)"/>
<rect x="421.81" y="99.85" width="23.76" height="1.3" fill="rgb(43,18,17)"/>
<rect x="445.27" y="99.85" width="23.76" height="1.3" fill="rgb(45,18,17)"/>
<rect x="468.74" y="99.85" width="23.76" height="1.3" fill="rgb(36,18,16)"/>
<rect x="304.5" y="100.85" width="23.76" height="1.3" fill="rgb(29,61,36)"/>
<rect x="327.96" y="100.85" width="23.76" height="1.3" fill="rgb(24,102,54)"/>
<rect x="351.43" y="100.85" width="23.76" height="1.3" fill="rgb(27,86,47)"/>
<rect x="374.89" y="100.85" width="23.76" height="1.3" fill="rgb(22,113,58)"/>
<rect x="398.35" y="100.85" width="23.76" height="1.3" fill="rgb(227,36,45)"/>
<rect x="421.81" y="100.85" width="23.76" height="1.3" fill="rgb(43,18,17)"/>
<rect x="445.27" y="100.85" width="23.76" height="1.3" fill="rgb(42,18,17)"/>
<rect x="468.74" y="100.85" width="23.76" height="1.3" fill="rgb(43,18,17)"/>
<rect x="304.5" y="101.85" width="23.76" height="1.3" fill="rgb(30,69,39)"/>
<rect x="327.96" y="101.85" width="23.76" height="1.3" fill="rgb(24,99,53)"/>
<rect x="351.43" y="101.85" width="23.76" height="1.3" fill="rgb(29,64,37)"/>
<rect x="374.89" y="101.85" width="23.76" height="1.3" fill="rgb(23,107,56)"/>
<rect x="398.35" y="101.85" width="23.76" height="1.3" fill="rgb(219,35,43)"/>
<rect x="421.81" y="101.85" width="23.76" height="1.3" fill="rgb(23,21,17)"/>
<rect x="445.27" y="101.85" width="23.76" height="1.3" fill="rgb(22,19,16)"/>
<rect x="468.74" y="101.85" width="23.76" height="1.3" fill="rgb(27,17,16)"/>
<rect x="304.5" y="102.85" width="23.76" height="1.3" fill="rgb(25,35,24)"/>
<rect x="327.96" y="102.85" width="23.76" height="1.3" fill="rgb(28,57,34)"/>
<rect x="351.43" y="102.85" width="23.76" height="1.3" fill="rgb(22,112,58)"/>
<rect x="374.89" y="102.85" width="23.76" height="1.3" fill="rgb(23,109,57)"/>
<rect x="398.35" y="102.85" width="23.76" height="1.3" fill="rgb(230,36,45)"/>
<rect x="421.81" y="102.85" width="23.76" height="1.3" fill="rgb(38,18,17)"/>
<rect x="445.27" y="102.85" width="23.76" height="1.3" fill="rgb(32,17,16)"/>
<rect x="468.74" y="102.85" width="23.76" height="1.3" fill="rgb(23,22,17)"/>
<rect x="304.5" y="103.84" width="23.76" height="1.3" fill="rgb(22,17,15)"/>
<rect x="327.96" y="103.84" width="23.76" height="1.3" fill="rgb(29,61,36)"/>
<rect x="351.43" y="103.84" width="23.76" height="1.3" fill="rgb(21,113,59)"/>
<rect x="374.89" y="103.84" width="23.76" height="1.3" fill="rgb(22,113,58)"/>
<rect x="398.35" y="103.84" width="23.76" height="1.3" fill="rgb(230,36,45)"/>
<rect x="421.81" y="103.84" width="23.76" height="1.3" fill="rgb(23,21,17)"/>
<rect x="445.27" y="103.84" width="23.76" height="1.3" fill="rgb(40,18,17)"/>
<rect x="468.74" y="103.84" width="23.76" height="1.3" fill="rgb(30,70,40)"/>
<rect x="304.5" y="104.84" width="23.76" height="1.3" fill="rgb(24,32,22)"/>
<rect x="327.96" y="104.84" width="23.76" height="1.3" fill="rgb(27,88,48)"/>
<rect x="351.43" y="104.84" width="23.76" height="1.3" fill="rgb(18,120,61)"/>
<rect x="374.89" y="104.84" width="23.76" height="1.3" fill="rgb(23,105,55)"/>
<rect x="398.35" y="104.84" width="23.76" height="1.3" fill="rgb(218,34,43)"/>
<rect x="421.81" y="104.84" width="23.76" height="1.3" fill="rgb(40,18,17)"/>
<rect x="445.27" y="104.84" width="23.76" height="1.3" fill="rgb(48,18,18)"/>
<rect x="468.74" y="104.84" width="23.76" height="1.3" fill="rgb(30,70,40)"/>
<rect x="304.5" y="105.84" width="23.76" height="1.3" fill="rgb(23,25,19)"/>
<rect x="327.96" y="105.84" width="23.76" height="1.3" fill="rgb(29,77,43)"/>
<rect x="351.43" y="105.84" width="23.76" height="1.3" fill="rgb(21,114,59)"/>
<rect x="374.89" y="105.84" width="23.76" height="1.3" fill="rgb(23,107,56)"/>
<rect x="398.35" y="105.84" width="23.76" height="1.3" fill="rgb(230,36,45)"/>
<rect x="421.81" y="105.84" width="23.76" height="1.3" fill="rgb(36,18,16)"/>
<rect x="445.27" y="105.84" width="23.76" height="1.3" fill="rgb(37,18,17)"/>
<rect x="468.74" y="105.84" width="23.76" height="1.3" fill="rgb(22,20,17)"/>
<rect x="304.5" y="106.84" width="23.76" height="1.3" fill="rgb(17,123,62)"/>
<rect x="327.96" y="106.84" width="23.76" height="1.3" fill="rgb(18,120,61)"/>
<rect x="351.43" y="106.84" width="23.76" height="1.3" fill="rgb(23,105,55)"/>
<rect x="374.89" y="106.84" width="23.76" height="1.3" fill="rgb(28,79,44)"/>
<rect x="398.35" y="106.84" width="23.76" height="1.3" fill="rgb(229,36,45)"/>
<rect x="421.81" y="106.84" width="23.76" height="1.3" fill="rgb(55,18,18)"/>
<rect x="445.27" y="106.84" width="23.76" height="1.3" fill="rgb(26,89,48)"/>
<rect x="468.74" y="106.84" width="23.76" height="1.3" fill="rgb(24,17,15)"/>
<rect x="304.5" y="107.83" width="23.76" height="1.3" fill="rgb(23,108,56)"/>
<rect x="327.96" y="107.83" width="23.76" height="1.3" fill="rgb(23,107,56)"/>
<rect x="351.43" y="107.83" width="23.76" height="1.3" fill="rgb(23,107,56)"/>
<rect x="374.89" y="107.83" width="23.76" height="1.3" fill="rgb(28,80,44)"/>
<rect x="398.35" y="107.83" width="23.76" height="1.3" fill="rgb(227,36,45)"/>
<rect x="421.81" y="107.83" width="23.76" height="1.3" fill="rgb(79,20,21)"/>
<rect x="445.27" y="107.83" width="23.76" height="1.3" fill="rgb(29,73,41)"/>
<rect x="468.74" y="107.83" width="23.76" height="1.3" fill="rgb(22,19,16)"/>
<rect x="304.5" y="108.83" width="23.76" height="1.3" fill="rgb(24,99,53)"/>
<rect x="327.96" y="108.83" width="23.76" height="1.3" fill="rgb(18,122,62)"/>
<rect x="351.43" y="108.83" width="23.76" height="1.3" fill="rgb(25,96,51)"/>
<rect x="374.89" y="108.83" width="23.76" height="1.3" fill="rgb(28,54,33)"/>
<rect x="398.35" y="108.83" width="23.76" height="1.3" fill="rgb(213,34,42)"/>
<rect x="421.81" y="108.83" width="23.76" height="1.3" fill="rgb(79,20,21)"/>
<rect x="445.27" y="108.83" width="23.76" height="1.3" fill="rgb(28,57,34)"/>
<rect x="468.74" y="108.83" width="23.76" height="1.3" fill="rgb(47,18,18)"/>
<rect x="304.5" y="109.83" width="23.76" height="1.3" fill="rgb(21,115,59)"/>
<rect x="327.96" y="109.83" width="23.76" height="1.3" fill="rgb(18,120,61)"/>
<rect x="351.43" y="109.83" width="23.76" height="1.3" fill="rgb(18,121,62)"/>
<rect x="374.89" y="109.83" width="23.76" height="1.3" fill="rgb(28,54,33)"/>
<rect x="398.35" y="109.83" width="23.76" height="1.3" fill="rgb(218,34,43)"/>
<rect x="421.81" y="109.83" width="23.76" height="1.3" fill="rgb(87,20,22)"/>
<rect x="445.27" y="109.83" width="23.76" height="1.3" fill="rgb(27,86,47)"/>
<rect x="468.74" y="109.83" width="23.76" height="1.3" fill="rgb(30,70,40)"/>
<rect x="304.5" y="110.83" width="23.76" height="1.3" fill="rgb(30,71,41)"/>
<rect x="327.96" y="110.83" width="23.76" height="1.3" fill="rgb(25,97,52)"/>
<rect x="351.43" y="110.83" width="23.76" height="1.3" fill="rgb(17,123,63)"/>
<rect x="374.89" y="110.83" width="23.76" height="1.3" fill="rgb(24,102,54)"/>
<rect x="398.35" y="110.83" width="23.76" height="1.3" fill="rgb(196,32,39)"/>
<rect x="421.81" y="110.83" width="23.76" height="1.3" fill="rgb(106,22,25)"/>
<rect x="445.27" y="110.83" width="23.76" height="1.3" fill="rgb(39,18,17)"/>
<rect x="468.74" y="110.83" width="23.76" height="1.3" fill="rgb(23,17,15)"/>
<rect x="304.5" y="111.82" width="23.76" height="1.3" fill="rgb(28,54,33)"/>
<rect x="327.96" y="111.82" width="23.76" height="1.3" fill="rgb(21,114,59)"/>
<rect x="351.43" y="111.82" width="23.76" height="1.3" fill="rgb(15,126,64)"/>
<rect x="374.89" y="111.82" width="23.76" height="1.3" fill="rgb(15,127,64)"/>
<rect x="398.35" y="111.82" width="23.76" height="1.3" fill="rgb(195,31,39)"/>
<rect x="421.81" y="111.82" width="23.76" height="1.3" fill="rgb(78,20,21)"/>
<rect x="445.27" y="111.82" width="23.76" height="1.3" fill="rgb(25,17,15)"/>
<rect x="468.74" y="111.82" width="23.76" height="1.3" fill="rgb(22,19,16)"/>
<rect x="304.5" y="112.82" width="23.76" height="1.3" fill="rgb(28,78,43)"/>
<rect x="327.96" y="112.82" width="23.76" height="1.3" fill="rgb(19,118,61)"/>
<rect x="351.43" y="112.82" width="23.76" height="1.3" fill="rgb(24,101,53)"/>
<rect x="374.89" y="112.82" width="23.76" height="1.3" fill="rgb(15,127,64)"/>
<rect x="398.35" y="112.82" width="23.76" height="1.3" fill="rgb(205,33,41)"/>
<rect x="421.81" y="112.82" width="23.76" height="1.3" fill="rgb(103,22,24)"/>
<rect x="445.27" y="112.82" width="23.76" height="1.3" fill="rgb(22,19,16)"/>
<rect x="468.74" y="112.82" width="23.76" height="1.3" fill="rgb(46,18,18)"/>
<rect x="304.5" y="113.82" width="23.76" height="1.3" fill="rgb(88,20,22)"/>
<rect x="327.96" y="113.82" width="23.76" height="1.3" fill="rgb(23,106,55)"/>
<rect x="351.43" y="113.82" width="23.76" height="1.3" fill="rgb(24,99,52)"/>
<rect x="374.89" y="113.82" width="23.76" height="1.3" fill="rgb(19,119,61)"/>
<rect x="398.35" y="113.82" width="23.76" height="1.3" fill="rgb(189,31,38)"/>
<rect x="421.81" y="113.82" width="23.76" height="1.3" fill="rgb(74,19,21)"/>
<rect x="445.27" y="113.82" width="23.76" height="1.3" fill="rgb(48,18,18)"/>
<rect x="468.74" y="113.82" width="23.76" height="1.3" fill="rgb(35,18,16)"/>
<rect x="304.5" y="114.82" width="23.76" height="1.3" fill="rgb(24,29,20)"/>
<rect x="327.96" y="114.82" width="23.76" height="1.3" fill="rgb(20,115,59)"/>
<rect x="351.43" y="114.82" width="23.76" height="1.3" fill="rgb(18,120,61)"/>
<rect x="374.89" y="114.82" width="23.76" height="1.3" fill="rgb(16,126,63)"/>
<rect x="398.35" y="114.82" width="23.76" height="1.3" fill="rgb(176,30,36)"/>
<rect x="421.81" y="114.82" width="23.76" height="1.3" fill="rgb(103,22,24)"/>
<rect x="445.27" y="114.82" width="23.76" height="1.3" fill="rgb(25,17,15)"/>
<rect x="468.74" y="114.82" width="23.76" height="1.3" fill="rgb(109,22,25)"/>
<rect x="304.5" y="115.81" width="23.76" height="1.3" fill="rgb(24,32,22)"/>
<rect x="327.96" y="115.81" width="23.76" height="1.3" fill="rgb(18,120,61)"/>
<rect x="351.43" y="115.81" width="23.76" height="1.3" fill="rgb(21,113,58)"/>
<rect x="374.89" y="115.81" width="23.76" height="1.3" fill="rgb(17,122,62)"/>
<rect x="398.35" y="115.81" width="23.76" height="1.3" fill="rgb(189,31,38)"/>
<rect x="421.81" y="115.81" width="23.76" height="1.3" fill="rgb(111,22,26)"/>
<rect x="445.27" y="115.81" width="23.76" height="1.3" fill="rgb(45,18,17)"/>
<rect x="468.74" y="115.81" width="23.76" height="1.3" fill="rgb(102,21,24)"/>
<rect x="304.5" y="116.81" width="23.76" height="1.3" fill="rgb(23,21,17)"/>
<rect x="327.96" y="116.81" width="23.76" height="1.3" fill="rgb(25,98,52)"/>
<rect x="351.43" y="116.81" width="23.76" height="1.3" fill="rgb(25,97,52)"/>
<rect x="374.89" y="116.81" width="23.76" height="1.3" fill="rgb(22,112,58)"/>
<rect x="398.35" y="116.81" width="23.76" height="1.3" fill="rgb(204,32,41)"/>
<rect x="421.81" y="116.81" width="23.76" height="1.3" fill="rgb(55,18,18)"/>
<rect x="445.27" y="116.81" width="23.76" height="1.3" fill="rgb(40,18,17)"/>
<rect x="468.74" y="116.81" width="23.76" height="1.3" fill="rgb(78,20,21)"/>
<rect x="304.5" y="117.81" width="23.76" height="1.3" fill="rgb(22,18,16)"/>
<rect x="327.96" y="117.81" width="23.76" height="1.3" fill="rgb(23,109,57)"/>
<rect x="351.43" y="117.81" width="23.76" height="1.3" fill="rgb(19,119,61)"/>
<rect x="374.89" y="117.81" width="23.76" height="1.3" fill="rgb(16,126,63)"/>
<rect x="398.35" y="117.81" width="23.76" height="1.3" fill="rgb(210,33,42)"/>
<rect x="421.81" y="117.81" width="23.76" height="1.3" fill="rgb(57,19,19)"/>
<rect x="445.27" y="117.81" width="23.76" height="1.3" fill="rgb(31,17,16)"/>
<rect x="468.74" y="117.81" width="23.76" height="1.3" fill="rgb(71,19,20)"/>
<rect x="304.5" y="118.81" width="23.76" height="1.3" fill="rgb(28,59,35)"/>
<rect x="327.96" y="118.81" width="23.76" height="1.3" fill="rgb(7,146,71)"/>
<rect x="351.43" y="118.81" width="23.76" height="1.3" fill="rgb(23,105,55)"/>
<rect x="374.89" y="118.81" width="23.76" height="1.3" fill="rgb(25,96,51)"/>
<rect x="398.35" y="118.81" width="23.76" height="1.3" fill="rgb(66,19,20)"/>
<rect x="421.81" y="118.81" width="23.76" height="1.3" fill="rgb(92,20,23)"/>
<rect x="445.27" y="118.81" width="23.76" height="1.3" fill="rgb(25,17,15)"/>
<rect x="468.74" y="118.81" width="23.76" height="1.3" fill="rgb(85,20,22)"/>
<rect x="304.5" y="119.8" width="23.76" height="1.3" fill="rgb(230,36,45)"/>
<rect x="327.96" y="119.8" width="23.76" height="1.3" fill="rgb(8,144,71)"/>
<rect x="351.43" y="119.8" width="23.76" height="1.3" fill="rgb(17,122,62)"/>
<rect x="374.89" y="119.8" width="23.76" height="1.3" fill="rgb(17,123,62)"/>
<rect x="398.35" y="119.8" width="23.76" height="1.3" fill="rgb(62,19,19)"/>
<rect x="421.81" y="119.8" width="23.76" height="1.3" fill="rgb(108,22,25)"/>
<rect x="445.27" y="119.8" width="23.76" height="1.3" fill="rgb(32,17,16)"/>
<rect x="468.74" y="119.8" width="23.76" height="1.3" fill="rgb(200,32,40)"/>
<rect x="304.5" y="120.8" width="23.76" height="1.3" fill="rgb(230,36,45)"/>
<rect x="327.96" y="120.8" width="23.76" height="1.3" fill="rgb(7,147,72)"/>
<rect x="351.43" y="120.8" width="23.76" height="1.3" fill="rgb(25,99,52)"/>
<rect x="374.89" y="120.8" width="23.76" height="1.3" fill="rgb(25,95,51)"/>
<rect x="398.35" y="120.8" width="23.76" height="1.3" fill="rgb(78,20,21)"/>
<rect x="421.81" y="120.8" width="23.76" height="1.3" fill="rgb(58,19,19)"/>
<rect x="445.27" y="120.8" width="23.76" height="1.3" fill="rgb(22,17,15)"/>
<rect x="468.74" y="120.8" width="23.76" height="1.3" fill="rgb(200,32,40)"/>
<rect x="304.5" y="121.8" width="23.76" height="1.3" fill="rgb(30,70,40)"/>
<rect x="327.96" y="121.8" width="23.76" height="1.3" fill="rgb(7,149,73)"/>
<rect x="351.43" y="121.8" width="23.76" height="1.3" fill="rgb(19,118,60)"/>
<rect x="374.89" y="121.8" width="23.76" height="1.3" fill="rgb(16,125,63)"/>
<rect x="398.35" y="121.8" width="23.76" height="1.3" fill="rgb(64,19,19)"/>
<rect x="421.81" y="121.8" width="23.76" height="1.3" fill="rgb(65,19,20)"/>
<rect x="445.27" y="121.8" width="23.76" height="1.3" fill="rgb(34,18,16)"/>
<rect x="468.74" y="121.8" width="23.76" height="1.3" fill="rgb(106,22,25)"/>
<rect x="304.5" y="122.8" width="23.76" height="1.3" fill="rgb(29,61,36)"/>
<rect x="327.96" y="122.8" width="23.76" height="1.3" fill="rgb(20,116,60)"/>
<rect x="351.43" y="122.8" width="23.76" height="1.3" fill="rgb(20,116,60)"/>
<rect x="374.89" y="122.8" width="23.76" height="1.3" fill="rgb(30,71,41)"/>
<rect x="398.35" y="122.8" width="23.76" height="1.3" fill="rgb(189,31,38)"/>
<rect x="421.81" y="122.8" width="23.76" height="1.3" fill="rgb(27,17,15)"/>
<rect x="445.27" y="122.8" width="23.76" height="1.3" fill="rgb(118,23,27)"/>
<rect x="468.74" y="122.8" width="23.76" height="1.3" fill="rgb(131,25,29)"/>
<rect x="304.5" y="123.79" width="23.76" height="1.3" fill="rgb(28,54,33)"/>
<rect x="327.96" y="123.79" width="23.76" height="1.3" fill="rgb(17,124,63)"/>
<rect x="351.43" y="123.79" width="23.76" height="1.3" fill="rgb(21,113,59)"/>
<rect x="374.89" y="123.79" width="23.76" height="1.3" fill="rgb(29,66,38)"/>
<rect x="398.35" y="123.79" width="23.76" height="1.3" fill="rgb(208,33,41)"/>
<rect x="421.81" y="123.79" width="23.76" height="1.3" fill="rgb(23,17,15)"/>
<rect x="445.27" y="123.79" width="23.76" height="1.3" fill="rgb(131,25,29)"/>
<rect x="468.74" y="123.79" width="23.76" height="1.3" fill="rgb(130,25,28)"/>
<rect x="304.5" y="124.79" width="23.76" height="1.3" fill="rgb(29,76,43)"/>
<rect x="327.96" y="124.79" width="23.76" height="1.3" fill="rgb(21,115,59)"/>
<rect x="351.43" y="124.79" width="23.76" height="1.3" fill="rgb(25,97,52)"/>
<rect x="374.89" y="124.79" width="23.76" height="1.3" fill="rgb(28,56,33)"/>
<rect x="398.35" y="124.79" width="23.76" height="1.3" fill="rgb(208,33,41)"/>
<rect x="421.81" y="124.79" width="23.76" height="1.3" fill="rgb(23,22,17)"/>
<rect x="445.27" y="124.79" width="23.76" height="1.3" fill="rgb(116,23,26)"/>
<rect x="468.74" y="124.79" width="23.76" height="1.3" fill="rgb(157,28,33)"/>
<rect x="304.5" y="125.79" width="23.76" height="1.3" fill="rgb(28,54,33)"/>
<rect x="327.96" y="125.79" width="23.76" height="1.3" fill="rgb(21,114,59)"/>
<rect x="351.43" y="125.79" width="23.76" height="1.3" fill="rgb(22,111,57)"/>
<rect x="374.89" y="125.79" width="23.76" height="1.3" fill="rgb(26,91,49)"/>
<rect x="398.35" y="125.79" width="23.76" height="1.3" fill="rgb(190,31,38)"/>
<rect x="421.81" y="125.79" width="23.76" height="1.3" fill="rgb(46,18,18)"/>
<rect x="445.27" y="125.79" width="23.76" height="1.3" fill="rgb(163,28,34)"/>
<rect x="468.74" y="125.79" width="23.76" height="1.3" fill="rgb(164,28,34)"/>
<rect x="304.5" y="126.79" width="23.76" height="1.3" fill="rgb(28,17,16)"/>
<rect x="327.96" y="126.79" width="23.76" height="1.3" fill="rgb(28,82,45)"/>
<rect x="351.43" y="126.79" width="23.76" height="1.3" fill="rgb(16,124,63)"/>
<rect x="374.89" y="126.79" width="23.76" height="1.3" fill="rgb(7,148,72)"/>
<rect x="398.35" y="126.79" width="23.76" height="1.3" fill="rgb(147,26,31)"/>
<rect x="421.81" y="126.79" width="23.76" height="1.3" fill="rgb(38,18,17)"/>
<rect x="445.27" y="126.79" width="23.76" height="1.3" fill="rgb(110,22,25)"/>
<rect x="468.74" y="126.79" width="23.76" height="1.3" fill="rgb(158,28,33)"/>
<rect x="304.5" y="127.78" width="23.76" height="1.3" fill="rgb(23,21,17)"/>
<rect x="327.96" y="127.78" width="23.76" height="1.3" fill="rgb(28,60,35)"/>
<rect x="351.43" y="127.78" width="23.76" height="1.3" fill="rgb(21,115,59)"/>
<rect x="374.89" y="127.78" width="23.76" height="1.3" fill="rgb(8,142,70)"/>
<rect x="398.35" y="127.78" width="23.76" height="1.3" fill="rgb(116,23,26)"/>
<rect x="421.81" y="127.78" width="23.76" height="1.3" fill="rgb(41,18,17)"/>
<rect x="445.27" y="127.78" width="23.76" height="1.3" fill="rgb(64,19,19)"/>
<rect x="468.74" y="127.78" width="23.76" height="1.3" fill="rgb(167,29,35)"/>
<rect x="304.5" y="128.78" width="23.76" height="1.3" fill="rgb(23,21,17)"/>
<rect x="327.96" y="128.78" width="23.76" height="1.3" fill="rgb(28,80,44)"/>
<rect x="351.43" y="128.78" width="23.76" height="1.3" fill="rgb(17,124,63)"/>
<rect x="374.89" y="128.78" width="23.76" height="1.3" fill="rgb(7,146,72)"/>
<rect x="398.35" y="128.78" width="23.76" height="1.3" fill="rgb(154,27,32)"/>
<rect x="421.81" y="128.78" width="23.76" height="1.3" fill="rgb(38,18,17)"/>
<rect x="445.27" y="128.78" width="23.76" height="1.3" fill="rgb(56,19,19)"/>
<rect x="468.74" y="128.78" width="23.76" height="1.3" fill="rgb(118,23,27)"/>
<rect x="304.5" y="129.78" width="23.76" height="1.3" fill="rgb(23,24,18)"/>
<rect x="327.96" y="129.78" width="23.76" height="1.3" fill="rgb(30,69,39)"/>
<rect x="351.43" y="129.78" width="23.76" height="1.3" fill="rgb(20,117,60)"/>
<rect x="374.89" y="129.78" width="23.76" height="1.3" fill="rgb(7,147,72)"/>
<rect x="398.35" y="129.78" width="23.76" height="1.3" fill="rgb(152,27,32)"/>
<rect x="421.81" y="129.78" width="23.76" height="1.3" fill="rgb(23,22,17)"/>
<rect x="445.27" y="129.78" width="23.76" height="1.3" fill="rgb(68,19,20)"/>
<rect x="468.74" y="129.78" width="23.76" height="1.3" fill="rgb(143,26,31)"/>
<rect x="304.5" y="130.78" width="23.76" height="1.3" fill="rgb(28,54,33)"/>
<rect x="327.96" y="130.78" width="23.76" height="1.3" fill="rgb(29,66,38)"/>
<rect x="351.43" y="130.78" width="23.76" height="1.3" fill="rgb(24,100,53)"/>
<rect x="374.89" y="130.78" width="23.76" height="1.3" fill="rgb(21,114,59)"/>
<rect x="398.35" y="130.78" width="23.76" height="1.3" fill="rgb(64,19,19)"/>
<rect x="421.81" y="130.78" width="23.76" height="1.3" fill="rgb(65,19,20)"/>
<rect x="445.27" y="130.78" width="23.76" height="1.3" fill="rgb(47,18,18)"/>
<rect x="468.74" y="130.78" width="23.76" height="1.3" fill="rgb(203,32,41)"/>
<rect x="304.5" y="131.77" width="23.76" height="1.3" fill="rgb(28,79,44)"/>
<rect x="327.96" y="131.77" width="23.76" height="1.3" fill="rgb(26,90,49)"/>
<rect x="351.43" y="131.77" width="23.76" height="1.3" fill="rgb(21,114,59)"/>
<rect x="374.89" y="131.77" width="23.76" height="1.3" fill="rgb(23,108,56)"/>
<rect x="398.35" y="131.77" width="23.76" height="1.3" fill="rgb(76,19,21)"/>
<rect x="421.81" y="131.77" width="23.76" height="1.3" fill="rgb(65,19,20)"/>
<rect x="445.27" y="131.77" width="23.76" height="1.3" fill="rgb(37,18,17)"/>
<rect x="468.74" y="131.77" width="23.76" height="1.3" fill="rgb(210,33,42)"/>
<rect x="304.5" y="132.77" width="23.76" height="1.3" fill="rgb(28,82,45)"/>
<rect x="327.96" y="132.77" width="23.76" height="1.3" fill="rgb(26,90,48)"/>
<rect x="351.43" y="132.77" width="23.76" height="1.3" fill="rgb(19,118,60)"/>
<rect x="374.89" y="132.77" width="23.76" height="1.3" fill="rgb(20,116,59)"/>
<rect x="398.35" y="132.77" width="23.76" height="1.3" fill="rgb(93,21,23)"/>
<rect x="421.81" y="132.77" width="23.76" height="1.3" fill="rgb(61,19,19)"/>
<rect x="445.27" y="132.77" width="23.76" height="1.3" fill="rgb(42,18,17)"/>
<rect x="468.74" y="132.77" width="23.76" height="1.3" fill="rgb(204,33,41)"/>
<rect x="304.5" y="133.77" width="23.76" height="1.3" fill="rgb(30,72,41)"/>
<rect x="327.96" y="133.77" width="23.76" height="1.3" fill="rgb(27,83,46)"/>
<rect x="351.43" y="133.77" width="23.76" height="1.3" fill="rgb(25,96,51)"/>
<rect x="374.89" y="133.77" width="23.76" height="1.3" fill="rgb(19,119,61)"/>
<rect x="398.35" y="133.77" width="23.76" height="1.3" fill="rgb(102,22,24)"/>
<rect x="421.81" y="133.77" width="23.76" height="1.3" fill="rgb(64,19,19)"/>
<rect x="445.27" y="133.77" width="23.76" height="1.3" fill="rgb(23,17,15)"/>
<rect x="468.74" y="133.77" width="23.76" height="1.3" fill="rgb(205,33,41)"/>
<rect x="304.5" y="134.77" width="23.76" height="1.3" fill="rgb(28,80,44)"/>
<rect x="327.96" y="134.77" width="23.76" height="1.3" fill="rgb(25,97,52)"/>
<rect x="351.43" y="134.77" width="23.76" height="1.3" fill="rgb(21,114,59)"/>
<rect x="374.89" y="134.77" width="23.76" height="1.3" fill="rgb(17,122,62)"/>
<rect x="398.35" y="134.77" width="23.76" height="1.3" fill="rgb(23,17,15)"/>
<rect x="421.81" y="134.77" width="23.76" height="1.3" fill="rgb(76,19,21)"/>
<rect x="445.27" y="134.77" width="23.76" height="1.3" fill="rgb(92,20,23)"/>
<rect x="468.74" y="134.77" width="23.76" height="1.3" fill="rgb(210,33,42)"/>
<rect x="304.5" y="135.76" width="23.76" height="1.3" fill="rgb(27,85,47)"/>
<rect x="327.96" y="135.76" width="23.76" height="1.3" fill="rgb(20,116,60)"/>
<rect x="351.43" y="135.76" width="23.76" height="1.3" fill="rgb(18,121,62)"/>
<rect x="374.89" y="135.76" width="23.76" height="1.3" fill="rgb(25,96,51)"/>
<rect x="398.35" y="135.76" width="23.76" height="1.3" fill="rgb(22,19,16)"/>
<rect x="421.81" y="135.76" width="23.76" height="1.3" fill="rgb(55,18,18)"/>
<rect x="445.27" y="135.76" width="23.76" height="1.3" fill="rgb(55,18,18)"/>
<rect x="468.74" y="135.76" width="23.76" height="1.3" fill="rgb(190,31,38)"/>
<rect x="304.5" y="136.76" width="23.76" height="1.3" fill="rgb(28,54,33)"/>
<rect x="327.96" y="136.76" width="23.76" height="1.3" fill="rgb(24,100,53)"/>
<rect x="351.43" y="136.76" width="23.76" height="1.3" fill="rgb(23,105,55)"/>
<rect x="374.89" y="136.76" width="23.76" height="1.3" fill="rgb(25,95,51)"/>
<rect x="398.35" y="136.76" width="23.76" height="1.3" fill="rgb(46,18,18)"/>
<rect x="421.81" y="136.76" width="23.76" height="1.3" fill="rgb(70,19,20)"/>
<rect x="445.27" y="136.76" width="23.76" height="1.3" fill="rgb(61,19,19)"/>
<rect x="468.74" y="136.76" width="23.76" height="1.3" fill="rgb(210,33,42)"/>
<rect x="304.5" y="137.76" width="23.76" height="1.3" fill="rgb(29,61,36)"/>
<rect x="327.96" y="137.76" width="23.76" height="1.3" fill="rgb(15,126,64)"/>
<rect x="351.43" y="137.76" width="23.76" height="1.3" fill="rgb(23,108,56)"/>
<rect x="374.89" y="137.76" width="23.76" height="1.3" fill="rgb(20,117,60)"/>
<rect x="398.35" y="137.76" width="23.76" height="1.3" fill="rgb(28,17,16)"/>
<rect x="421.81" y="137.76" width="23.76" height="1.3" fill="rgb(70,19,20)"/>
<rect x="445.27" y="137.76" width="23.76" height="1.3" fill="rgb(60,19,19)"/>
<rect x="468.74" y="137.76" width="23.76" height="1.3" fill="rgb(171,29,35)"/>
<rect x="304.5" y="138.76" width="23.76" height="1.3" fill="rgb(19,119,61)"/>
<rect x="327.96" y="138.76" width="23.76" height="1.3" fill="rgb(29,78,43)"/>
<rect x="351.43" y="138.76" width="23.76" height="1.3" fill="rgb(25,97,52)"/>
<rect x="374.89" y="138.76" width="23.76" height="1.3" fill="rgb(17,124,63)"/>
<rect x="398.35" y="138.76" width="23.76" height="1.3" fill="rgb(111,23,26)"/>
<rect x="421.81" y="138.76" width="23.76" height="1.3" fill="rgb(62,19,19)"/>
<rect x="445.27" y="138.76" width="23.76" height="1.3" fill="rgb(72,19,20)"/>
<rect x="468.74" y="138.76" width="23.76" height="1.3" fill="rgb(163,28,34)"/>
<rect x="304.5" y="139.75" width="23.76" height="1.3" fill="rgb(24,102,54)"/>
<rect x="327.96" y="139.75" width="23.76" height="1.3" fill="rgb(29,75,42)"/>
<rect x="351.43" y="139.75" width="23.76" height="1.3" fill="rgb(16,126,63)"/>
<rect x="374.89" y="139.75" width="23.76" height="1.3" fill="rgb(21,114,59)"/>
<rect x="398.35" y="139.75" width="23.76" height="1.3" fill="rgb(73,19,20)"/>
<rect x="421.81" y="139.75" width="23.76" height="1.3" fill="rgb(108,22,25)"/>
<rect x="445.27" y="139.75" width="23.76" height="1.3" fill="rgb(61,19,19)"/>
<rect x="468.74" y="139.75" width="23.76" height="1.3" fill="rgb(137,25,30)"/>
<rect x="304.5" y="140.75" width="23.76" height="1.3" fill="rgb(24,99,52)"/>
<rect x="327.96" y="140.75" width="23.76" height="1.3" fill="rgb(26,90,49)"/>
<rect x="351.43" y="140.75" width="23.76" height="1.3" fill="rgb(20,116,60)"/>
<rect x="374.89" y="140.75" width="23.76" height="1.3" fill="rgb(24,102,54)"/>
<rect x="398.35" y="140.75" width="23.76" height="1.3" fill="rgb(99,21,24)"/>
<rect x="421.81" y="140.75" width="23.76" height="1.3" fill="rgb(55,18,18)"/>
<rect x="445.27" y="140.75" width="23.76" height="1.3" fill="rgb(55,18,18)"/>
<rect x="468.74" y="140.75" width="23.76" height="1.3" fill="rgb(118,23,27)"/>
<rect x="304.5" y="141.75" width="23.76" height="1.3" fill="rgb(25,98,52)"/>
<rect x="327.96" y="141.75" width="23.76" height="1.3" fill="rgb(28,81,45)"/>
<rect x="351.43" y="141.75" width="23.76" height="1.3" fill="rgb(23,105,55)"/>
<rect x="374.89" y="141.75" width="23.76" height="1.3" fill="rgb(24,99,52)"/>
<rect x="398.35" y="141.75" width="23.76" height="1.3" fill="rgb(71,19,20)"/>
<rect x="421.81" y="141.75" width="23.76" height="1.3" fill="rgb(66,19,20)"/>
<rect x="445.27" y="141.75" width="23.76" height="1.3" fill="rgb(111,23,26)"/>
<rect x="468.74" y="141.75" width="23.76" height="1.3" fill="rgb(153,27,32)"/>
<rect x="304.5" y="142.74" width="23.76" height="1.3" fill="rgb(28,81,45)"/>
<rect x="327.96" y="142.74" width="23.76" height="1.3" fill="rgb(23,106,55)"/>
<rect x="351.43" y="142.74" width="23.76" height="1.3" fill="rgb(28,79,44)"/>
<rect x="374.89" y="142.74" width="23.76" height="1.3" fill="rgb(18,120,61)"/>
<rect x="398.35" y="142.74" width="23.76" height="1.3" fill="rgb(55,18,18)"/>
<rect x="421.81" y="142.74" width="23.76" height="1.3" fill="rgb(159,28,33)"/>
<rect x="445.27" y="142.74" width="23.76" height="1.3" fill="rgb(108,22,25)"/>
<rect x="468.74" y="142.74" width="23.76" height="1.3" fill="rgb(154,27,32)"/>
<rect x="304.5" y="143.74" width="23.76" height="1.3" fill="rgb(28,54,33)"/>
<rect x="327.96" y="143.74" width="23.76" height="1.3" fill="rgb(15,126,64)"/>
<rect x="351.43" y="143.74" width="23.76" height="1.3" fill="rgb(28,82,45)"/>
<rect x="374.89" y="143.74" width="23.76" height="1.3" fill="rgb(21,114,59)"/>
<rect x="398.35" y="143.74" width="23.76" height="1.3" fill="rgb(111,22,26)"/>
<rect x="421.81" y="143.74" width="23.76" height="1.3" fill="rgb(169,29,35)"/>
<rect x="445.27" y="143.74" width="23.76" height="1.3" fill="rgb(74,19,21)"/>
<rect x="468.74" y="143.74" width="23.76" height="1.3" fill="rgb(130,25,29)"/>
<rect x="304.5" y="144.74" width="23.76" height="1.3" fill="rgb(29,75,42)"/>
<rect x="327.96" y="144.74" width="23.76" height="1.3" fill="rgb(21,114,59)"/>
<rect x="351.43" y="144.74" width="23.76" height="1.3" fill="rgb(28,54,33)"/>
<rect x="374.89" y="144.74" width="23.76" height="1.3" fill="rgb(17,122,62)"/>
<rect x="398.35" y="144.74" width="23.76" height="1.3" fill="rgb(101,21,24)"/>
<rect x="421.81" y="144.74" width="23.76" height="1.3" fill="rgb(159,28,33)"/>
<rect x="445.27" y="144.74" width="23.76" height="1.3" fill="rgb(102,22,24)"/>
<rect x="468.74" y="144.74" width="23.76" height="1.3" fill="rgb(160,28,33)"/>
<rect x="304.5" y="145.74" width="23.76" height="1.3" fill="rgb(30,68,39)"/>
<rect x="327.96" y="145.74" width="23.76" height="1.3" fill="rgb(19,118,60)"/>
<rect x="351.43" y="145.74" width="23.76" height="1.3" fill="rgb(28,79,44)"/>
<rect x="374.89" y="145.74" width="23.76" height="1.3" fill="rgb(20,117,60)"/>
<rect x="398.35" y="145.74" width="23.76" height="1.3" fill="rgb(100,21,24)"/>
<rect x="421.81" y="145.74" width="23.76" height="1.3" fill="rgb(119,23,27)"/>
<rect x="445.27" y="145.74" width="23.76" height="1.3" fill="rgb(61,19,19)"/>
<rect x="468.74" y="145.74" width="23.76" height="1.3" fill="rgb(159,28,33)"/>
<rect x="304.5" y="146.73" width="23.76" height="1.3" fill="rgb(28,82,45)"/>
<rect x="327.96" y="146.73" width="23.76" height="1.3" fill="rgb(16,125,63)"/>
<rect x="351.43" y="146.73" width="23.76" height="1.3" fill="rgb(26,90,48)"/>
<rect x="374.89" y="146.73" width="23.76" height="1.3" fill="rgb(22,112,58)"/>
<rect x="398.35" y="146.73" width="23.76" height="1.3" fill="rgb(26,17,15)"/>
<rect x="421.81" y="146.73" width="23.76" height="1.3" fill="rgb(112,23,26)"/>
<rect x="445.27" y="146.73" width="23.76" height="1.3" fill="rgb(166,28,34)"/>
<rect x="468.74" y="146.73" width="23.76" height="1.3" fill="rgb(171,29,35)"/>
<rect x="304.5" y="147.73" width="23.76" height="1.3" fill="rgb(28,81,45)"/>
<rect x="327.96" y="147.73" width="23.76" height="1.3" fill="rgb(16,125,63)"/>
<rect x="351.43" y="147.73" width="23.76" height="1.3" fill="rgb(27,87,47)"/>
<rect x="374.89" y="147.73" width="23.76" height="1.3" fill="rgb(21,114,59)"/>
<rect x="398.35" y="147.73" width="23.76" height="1.3" fill="rgb(39,18,17)"/>
<rect x="421.81" y="147.73" width="23.76" height="1.3" fill="rgb(78,20,21)"/>
<rect x="445.27" y="147.73" width="23.76" height="1.3" fill="rgb(129,24,28)"/>
<rect x="468.74" y="147.73" width="23.76" height="1.3" fill="rgb(140,26,30)"/>
<rect x="304.5" y="148.73" width="23.76" height="1.3" fill="rgb(30,67,39)"/>
<rect x="327.96" y="148.73" width="23.76" height="1.3" fill="rgb(23,108,56)"/>
<rect x="351.43" y="148.73" width="23.76" height="1.3" fill="rgb(29,61,36)"/>
<rect x="374.89" y="148.73" width="23.76" height="1.3" fill="rgb(24,101,53)"/>
<rect x="398.35" y="148.73" width="23.76" height="1.3" fill="rgb(37,18,17)"/>
<rect x="421.81" y="148.73" width="23.76" height="1.3" fill="rgb(56,19,19)"/>
<rect x="445.27" y="148.73" width="23.76" height="1.3" fill="rgb(164,28,34)"/>
<rect x="468.74" y="148.73" width="23.76" height="1.3" fill="rgb(132,25,29)"/>
<rect x="304.5" y="149.73" width="23.76" height="1.3" fill="rgb(30,69,40)"/>
<rect x="327.96" y="149.73" width="23.76" height="1.3" fill="rgb(20,117,60)"/>
<rect x="351.43" y="149.73" width="23.76" height="1.3" fill="rgb(29,61,36)"/>
<rect x="374.89" y="149.73" width="23.76" height="1.3" fill="rgb(18,122,62)"/>
<rect x="398.35" y="149.73" width="23.76" height="1.3" fill="rgb(24,17,15)"/>
<rect x="421.81" y="149.73" width="23.76" height="1.3" fill="rgb(65,19,20)"/>
<rect x="445.27" y="149.73" width="23.76" height="1.3" fill="rgb(123,24,28)"/>
<rect x="468.74" y="149.73" width="23.76" height="1.3" fill="rgb(166,28,34)"/>
<rect x="304.5" y="150.72" width="23.76" height="1.3" fill="rgb(23,23,18)"/>
<rect x="327.96" y="150.72" width="23.76" height="1.3" fill="rgb(7,145,71)"/>
<rect x="351.43" y="150.72" width="23.76" height="1.3" fill="rgb(29,76,43)"/>
<rect x="374.89" y="150.72" width="23.76" height="1.3" fill="rgb(28,54,33)"/>
<rect x="398.35" y="150.72" width="23.76" height="1.3" fill="rgb(32,17,16)"/>
<rect x="421.81" y="150.72" width="23.76" height="1.3" fill="rgb(128,24,28)"/>
<rect x="445.27" y="150.72" width="23.76" height="1.3" fill="rgb(162,28,34)"/>
<rect x="468.74" y="150.72" width="23.76" height="1.3" fill="rgb(155,27,32)"/>
<rect x="304.5" y="151.72" width="23.76" height="1.3" fill="rgb(28,17,16)"/>
<rect x="327.96" y="151.72" width="23.76" height="1.3" fill="rgb(7,149,72)"/>
<rect x="351.43" y="151.72" width="23.76" height="1.3" fill="rgb(29,73,41)"/>
<rect x="374.89" y="151.72" width="23.76" height="1.3" fill="rgb(28,57,34)"/>
<rect x="398.35" y="151.72" width="23.76" height="1.3" fill="rgb(43,18,17)"/>
<rect x="421.81" y="151.72" width="23.76" height="1.3" fill="rgb(167,29,35)"/>
<rect x="445.27" y="151.72" width="23.76" height="1.3" fill="rgb(116,23,26)"/>
<rect x="468.74" y="151.72" width="23.76" height="1.3" fill="rgb(132,25,29)"/>
<rect x="304.5" y="152.72" width="23.76" height="1.3" fill="rgb(25,35,24)"/>
<rect x="327.96" y="152.72" width="23.76" height="1.3" fill="rgb(7,147,72)"/>
<rect x="351.43" y="152.72" width="23.76" height="1.3" fill="rgb(28,54,33)"/>
<rect x="374.89" y="152.72" width="23.76" height="1.3" fill="rgb(30,69,39)"/>
<rect x="398.35" y="152.72" width="23.76" height="1.3" fill="rgb(46,18,18)"/>
<rect x="421.81" y="152.72" width="23.76" height="1.3" fill="rgb(137,25,30)"/>
<rect x="445.27" y="152.72" width="23.76" height="1.3" fill="rgb(165,28,34)"/>
<rect x="468.74" y="152.72" width="23.76" height="1.3" fill="rgb(142,26,30)"/>
<rect x="304.5" y="153.72" width="23.76" height="1.3" fill="rgb(24,31,22)"/>
<rect x="327.96" y="153.72" width="23.76" height="1.3" fill="rgb(11,136,68)"/>
<rect x="351.43" y="153.72" width="23.76" height="1.3" fill="rgb(28,54,33)"/>
<rect x="374.89" y="153.72" width="23.76" height="1.3" fill="rgb(27,87,47)"/>
<rect x="398.35" y="153.72" width="23.76" height="1.3" fill="rgb(35,18,16)"/>
<rect x="421.81" y="153.72" width="23.76" height="1.3" fill="rgb(153,27,32)"/>
<rect x="445.27" y="153.72" width="23.76" height="1.3" fill="rgb(128,24,28)"/>
<rect x="468.74" y="153.72" width="23.76" height="1.3" fill="rgb(137,25,30)"/>
<rect x="304.5" y="154.71" width="23.76" height="1.3" fill="rgb(17,123,62)"/>
<rect x="327.96" y="154.71" width="23.76" height="1.3" fill="rgb(7,147,72)"/>
<rect x="351.43" y="154.71" width="23.76" height="1.3" fill="rgb(18,120,61)"/>
<rect x="374.89" y="154.71" width="23.76" height="1.3" fill="rgb(30,68,39)"/>
<rect x="398.35" y="154.71" width="23.76" height="1.3" fill="rgb(37,18,17)"/>
<rect x="421.81" y="154.71" width="23.76" height="1.3" fill="rgb(62,19,19)"/>
<rect x="445.27" y="154.71" width="23.76" height="1.3" fill="rgb(114,23,26)"/>
<rect x="468.74" y="154.71" width="23.76" height="1.3" fill="rgb(135,25,29)"/>
<rect x="304.5" y="155.71" width="23.76" height="1.3" fill="rgb(23,107,56)"/>
<rect x="327.96" y="155.71" width="23.76" height="1.3" fill="rgb(7,147,72)"/>
<rect x="351.43" y="155.71" width="23.76" height="1.3" fill="rgb(19,119,61)"/>
<rect x="374.89" y="155.71" width="23.76" height="1.3" fill="rgb(27,83,46)"/>
<rect x="398.35" y="155.71" width="23.76" height="1.3" fill="rgb(42,18,17)"/>
<rect x="421.81" y="155.71" width="23.76" height="1.3" fill="rgb(85,20,22)"/>
<rect x="445.27" y="155.71" width="23.76" height="1.3" fill="rgb(118,23,27)"/>
<rect x="468.74" y="155.71" width="23.76" height="1.3" fill="rgb(120,24,27)"/>
<rect x="304.5" y="156.71" width="23.76" height="1.3" fill="rgb(20,116,60)"/>
<rect x="327.96" y="156.71" width="23.76" height="1.3" fill="rgb(8,142,70)"/>
<rect x="351.43" y="156.71" width="23.76" height="1.3" fill="rgb(23,109,57)"/>
<rect x="374.89" y="156.71" width="23.76" height="1.3" fill="rgb(27,88,48)"/>
<rect x="398.35" y="156.71" width="23.76" height="1.3" fill="rgb(22,18,15)"/>
<rect x="421.81" y="156.71" width="23.76" height="1.3" fill="rgb(94,21,23)"/>
<rect x="445.27" y="156.71" width="23.76" height="1.3" fill="rgb(140,26,30)"/>
<rect x="468.74" y="156.71" width="23.76" height="1.3" fill="rgb(132,25,29)"/>
<rect x="304.5" y="157.71" width="23.76" height="1.3" fill="rgb(19,119,61)"/>
<rect x="327.96" y="157.71" width="23.76" height="1.3" fill="rgb(13,131,66)"/>
<rect x="351.43" y="157.71" width="23.76" height="1.3" fill="rgb(19,119,61)"/>
<rect x="374.89" y="157.71" width="23.76" height="1.3" fill="rgb(30,69,40)"/>
<rect x="398.35" y="157.71" width="23.76" height="1.3" fill="rgb(27,17,16)"/>
<rect x="421.81" y="157.71" width="23.76" height="1.3" fill="rgb(76,19,21)"/>
<rect x="445.27" y="157.71" width="23.76" height="1.3" fill="rgb(165,28,34)"/>
<rect x="468.74" y="157.71" width="23.76" height="1.3" fill="rgb(171,29,35)"/>
<rect x="304.5" y="158.7" width="23.76" height="1.3" fill="rgb(29,77,43)"/>
<rect x="327.96" y="158.7" width="23.76" height="1.3" fill="rgb(17,122,62)"/>
<rect x="351.43" y="158.7" width="23.76" height="1.3" fill="rgb(23,105,55)"/>
<rect x="374.89" y="158.7" width="23.76" height="1.3" fill="rgb(27,83,46)"/>
<rect x="398.35" y="158.7" width="23.76" height="1.3" fill="rgb(26,91,49)"/>
<rect x="421.81" y="158.7" width="23.76" height="1.3" fill="rgb(166,29,34)"/>
<rect x="445.27" y="158.7" width="23.76" height="1.3" fill="rgb(141,26,30)"/>
<rect x="468.74" y="158.7" width="23.76" height="1.3" fill="rgb(102,22,24)"/>
<rect x="304.5" y="159.7" width="23.76" height="1.3" fill="rgb(29,76,42)"/>
<rect x="327.96" y="159.7" width="23.76" height="1.3" fill="rgb(24,100,53)"/>
<rect x="351.43" y="159.7" width="23.76" height="1.3" fill="rgb(21,115,59)"/>
<rect x="374.89" y="159.7" width="23.76" height="1.3" fill="rgb(27,85,46)"/>
<rect x="398.35" y="159.7" width="23.76" height="1.3" fill="rgb(26,90,49)"/>
<rect x="421.81" y="159.7" width="23.76" height="1.3" fill="rgb(149,27,32)"/>
<rect x="445.27" y="159.7" width="23.76" height="1.3" fill="rgb(154,27,32)"/>
<rect x="468.74" y="159.7" width="23.76" height="1.3" fill="rgb(108,22,25)"/>
<rect x="304.5" y="160.7" width="23.76" height="1.3" fill="rgb(27,88,48)"/>
<rect x="327.96" y="160.7" width="23.76" height="1.3" fill="rgb(22,109,57)"/>
<rect x="351.43" y="160.7" width="23.76" height="1.3" fill="rgb(20,117,60)"/>
<rect x="374.89" y="160.7" width="23.76" height="1.3" fill="rgb(30,72,41)"/>
<rect x="398.35" y="160.7" width="23.76" height="1.3" fill="rgb(27,85,47)"/>
<rect x="421.81" y="160.7" width="23.76" height="1.3" fill="rgb(132,25,29)"/>
<rect x="445.27" y="160.7" width="23.76" height="1.3" fill="rgb(147,26,31)"/>
<rect x="468.74" y="160.7" width="23.76" height="1.3" fill="rgb(109,22,25)"/>
<rect x="304.5" y="161.7" width="23.76" height="1.3" fill="rgb(27,87,47)"/>
<rect x="327.96" y="161.7" width="23.76" height="1.3" fill="rgb(21,114,59)"/>
<rect x="351.43" y="161.7" width="23.76" height="1.3" fill="rgb(24,103,54)"/>
<rect x="374.89" y="161.7" width="23.76" height="1.3" fill="rgb(28,54,33)"/>
<rect x="398.35" y="161.7" width="23.76" height="1.3" fill="rgb(27,84,46)"/>
<rect x="421.81" y="161.7" width="23.76" height="1.3" fill="rgb(122,24,27)"/>
<rect x="445.27" y="161.7" width="23.76" height="1.3" fill="rgb(168,29,35)"/>
<rect x="468.74" y="161.7" width="23.76" height="1.3" fill="rgb(112,23,26)"/>
<rect x="304.5" y="162.69" width="23.76" height="1.3" fill="rgb(21,114,59)"/>
<rect x="327.96" y="162.69" width="23.76" height="1.3" fill="rgb(26,89,48)"/>
<rect x="351.43" y="162.69" width="23.76" height="1.3" fill="rgb(28,54,33)"/>
<rect x="374.89" y="162.69" width="23.76" height="1.3" fill="rgb(29,76,43)"/>
<rect x="398.35" y="162.69" width="23.76" height="1.3" fill="rgb(28,54,33)"/>
<rect x="421.81" y="162.69" width="23.76" height="1.3" fill="rgb(153,27,32)"/>
<rect x="445.27" y="162.69" width="23.76" height="1.3" fill="rgb(102,22,24)"/>
<rect x="468.74" y="162.69" width="23.76" height="1.3" fill="rgb(59,19,19)"/>
<rect x="304.5" y="163.69" width="23.76" height="1.3" fill="rgb(24,103,54)"/>
<rect x="327.96" y="163.69" width="23.76" height="1.3" fill="rgb(28,83,45)"/>
<rect x="351.43" y="163.69" width="23.76" height="1.3" fill="rgb(29,76,42)"/>
<rect x="374.89" y="163.69" width="23.76" height="1.3" fill="rgb(28,56,33)"/>
<rect x="398.35" y="163.69" width="23.76" height="1.3" fill="rgb(28,57,34)"/>
<rect x="421.81" y="163.69" width="23.76" height="1.3" fill="rgb(125,24,28)"/>
<rect x="445.27" y="163.69" width="23.76" height="1.3" fill="rgb(63,19,19)"/>
<rect x="468.74" y="163.69" width="23.76" height="1.3" fill="rgb(75,19,21)"/>
<rect x="304.5" y="164.69" width="23.76" height="1.3" fill="rgb(22,113,58)"/>
<rect x="327.96" y="164.69" width="23.76" height="1.3" fill="rgb(29,77,43)"/>
<rect x="351.43" y="164.69" width="23.76" height="1.3" fill="rgb(27,86,47)"/>
<rect x="374.89" y="164.69" width="23.76" height="1.3" fill="rgb(28,82,45)"/>
<rect x="398.35" y="164.69" width="23.76" height="1.3" fill="rgb(29,62,36)"/>
<rect x="421.81" y="164.69" width="23.76" height="1.3" fill="rgb(166,28,34)"/>
<rect x="445.27" y="164.69" width="23.76" height="1.3" fill="rgb(55,18,18)"/>
<rect x="468.74" y="164.69" width="23.76" height="1.3" fill="rgb(86,20,22)"/>
<rect x="304.5" y="165.69" width="23.76" height="1.3" fill="rgb(23,104,55)"/>
<rect x="327.96" y="165.69" width="23.76" height="1.3" fill="rgb(26,90,48)"/>
<rect x="351.43" y="165.69" width="23.76" height="1.3" fill="rgb(28,57,34)"/>
<rect x="374.89" y="165.69" width="23.76" height="1.3" fill="rgb(27,87,47)"/>
<rect x="398.35" y="165.69" width="23.76" height="1.3" fill="rgb(30,68,39)"/>
<rect x="421.81" y="165.69" width="23.76" height="1.3" fill="rgb(149,27,32)"/>
<rect x="445.27" y="165.69" width="23.76" height="1.3" fill="rgb(90,20,22)"/>
<rect x="468.74" y="165.69" width="23.76" height="1.3" fill="rgb(69,19,20)"/>
<rect x="304.5" y="166.68" width="23.76" height="1.3" fill="rgb(20,116,59)"/>
<rect x="327.96" y="166.68" width="23.76" height="1.3" fill="rgb(22,111,58)"/>
<rect x="351.43" y="166.68" width="23.76" height="1.3" fill="rgb(29,75,42)"/>
<rect x="374.89" y="166.68" width="23.76" height="1.3" fill="rgb(23,108,56)"/>
<rect x="398.35" y="166.68" width="23.76" height="1.3" fill="rgb(29,74,42)"/>
<rect x="421.81" y="166.68" width="23.76" height="1.3" fill="rgb(142,26,30)"/>
<rect x="445.27" y="166.68" width="23.76" height="1.3" fill="rgb(23,22,17)"/>
<rect x="468.74" y="166.68" width="23.76" height="1.3" fill="rgb(153,27,32)"/>
<rect x="304.5" y="167.68" width="23.76" height="1.3" fill="rgb(21,114,59)"/>
<rect x="327.96" y="167.68" width="23.76" height="1.3" fill="rgb(18,121,61)"/>
<rect x="351.43" y="167.68" width="23.76" height="1.3" fill="rgb(29,60,35)"/>
<rect x="374.89" y="167.68" width="23.76" height="1.3" fill="rgb(24,104,54)"/>
<rect x="398.35" y="167.68" width="23.76" height="1.3" fill="rgb(29,74,42)"/>
<rect x="421.81" y="167.68" width="23.76" height="1.3" fill="rgb(125,24,28)"/>
<rect x="445.27" y="167.68" width="23.76" height="1.3" fill="rgb(31,17,16)"/>
<rect x="468.74" y="167.68" width="23.76" height="1.3" fill="rgb(120,24,27)"/>
<rect x="304.5" y="168.68" width="23.76" height="1.3" fill="rgb(17,124,63)"/>
<rect x="327.96" y="168.68" width="23.76" height="1.3" fill="rgb(20,115,59)"/>
<rect x="351.43" y="168.68" width="23.76" height="1.3" fill="rgb(27,88,48)"/>
<rect x="374.89" y="168.68" width="23.76" height="1.3" fill="rgb(21,115,59)"/>
<rect x="398.35" y="168.68" width="23.76" height="1.3" fill="rgb(30,72,41)"/>
<rect x="421.81" y="168.68" width="23.76" height="1.3" fill="rgb(116,23,26)"/>
<rect x="445.27" y="168.68" width="23.76" height="1.3" fill="rgb(36,18,17)"/>
<rect x="468.74" y="168.68" width="23.76" height="1.3" fill="rgb(119,23,27)"/>
<rect x="304.5" y="169.68" width="23.76" height="1.3" fill="rgb(23,105,55)"/>
<rect x="327.96" y="169.68" width="23.76" height="1.3" fill="rgb(24,104,54)"/>
<rect x="351.43" y="169.68" width="23.76" height="1.3" fill="rgb(30,72,41)"/>
<rect x="374.89" y="169.68" width="23.76" height="1.3" fill="rgb(16,126,63)"/>
<rect x="398.35" y="169.68" width="23.76" height="1.3" fill="rgb(30,72,41)"/>
<rect x="421.81" y="169.68" width="23.76" height="1.3" fill="rgb(138,25,30)"/>
<rect x="445.27" y="169.68" width="23.76" height="1.3" fill="rgb(47,18,18)"/>
<rect x="468.74" y="169.68" width="23.76" height="1.3" fill="rgb(122,24,27)"/>
<rect x="304.5" y="170.67" width="23.76" height="1.3" fill="rgb(28,56,33)"/>
<rect x="327.96" y="170.67" width="23.76" height="1.3" fill="rgb(25,95,51)"/>
<rect x="351.43" y="170.67" width="23.76" height="1.3" fill="rgb(29,62,36)"/>
<rect x="374.89" y="170.67" width="23.76" height="1.3" fill="rgb(24,102,54)"/>
<rect x="398.35" y="170.67" width="23.76" height="1.3" fill="rgb(22,17,15)"/>
<rect x="421.81" y="170.67" width="23.76" height="1.3" fill="rgb(112,23,26)"/>
<rect x="445.27" y="170.67" width="23.76" height="1.3" fill="rgb(145,26,31)"/>
<rect x="468.74" y="170.67" width="23.76" height="1.3" fill="rgb(111,22,26)"/>
<rect x="304.5" y="171.67" width="23.76" height="1.3" fill="rgb(28,54,33)"/>
<rect x="327.96" y="171.67" width="23.76" height="1.3" fill="rgb(17,123,62)"/>
<rect x="351.43" y="171.67" width="23.76" height="1.3" fill="rgb(28,59,35)"/>
<rect x="374.89" y="171.67" width="23.76" height="1.3" fill="rgb(25,98,52)"/>
<rect x="398.35" y="171.67" width="23.76" height="1.3" fill="rgb(23,21,17)"/>
<rect x="421.81" y="171.67" width="23.76" height="1.3" fill="rgb(72,19,20)"/>
<rect x="445.27" y="171.67" width="23.76" height="1.3" fill="rgb(159,28,33)"/>
<rect x="468.74" y="171.67" width="23.76" height="1.3" fill="rgb(59,19,19)"/>
<rect x="304.5" y="172.67" width="23.76" height="1.3" fill="rgb(28,54,33)"/>
<rect x="327.96" y="172.67" width="23.76" height="1.3" fill="rgb(18,120,61)"/>
<rect x="351.43" y="172.67" width="23.76" height="1.3" fill="rgb(28,58,34)"/>
<rect x="374.89" y="172.67" width="23.76" height="1.3" fill="rgb(17,123,62)"/>
<rect x="398.35" y="172.67" width="23.76" height="1.3" fill="rgb(32,17,16)"/>
<rect x="421.81" y="172.67" width="23.76" height="1.3" fill="rgb(108,22,25)"/>
<rect x="445.27" y="172.67" width="23.76" height="1.3" fill="rgb(127,24,28)"/>
<rect x="468.74" y="172.67" width="23.76" height="1.3" fill="rgb(66,19,20)"/>
<rect x="304.5" y="173.67" width="23.76" height="1.3" fill="rgb(30,72,41)"/>
<rect x="327.96" y="173.67" width="23.76" height="1.3" fill="rgb(19,118,61)"/>
<rect x="351.43" y="173.67" width="23.76" height="1.3" fill="rgb(26,90,48)"/>
<rect x="374.89" y="173.67" width="23.76" height="1.3" fill="rgb(17,122,62)"/>
<rect x="398.35" y="173.67" width="23.76" height="1.3" fill="rgb(22,18,15)"/>
<rect x="421.81" y="173.67" width="23.76" height="1.3" fill="rgb(110,22,25)"/>
<rect x="445.27" y="173.67" width="23.76" height="1.3" fill="rgb(156,27,33)"/>
<rect x="468.74" y="173.67" width="23.76" height="1.3" fill="rgb(107,22,25)"/>
<rect x="304.5" y="174.66" width="23.76" height="1.3" fill="rgb(17,122,62)"/>
<rect x="327.96" y="174.66" width="23.76" height="1.3" fill="rgb(22,17,15)"/>
<rect x="351.43" y="174.66" width="23.76" height="1.3" fill="rgb(16,124,63)"/>
<rect x="374.89" y="174.66" width="23.76" height="1.3" fill="rgb(8,142,70)"/>
<rect x="398.35" y="174.66" width="23.76" height="1.3" fill="rgb(90,20,22)"/>
<rect x="421.81" y="174.66" width="23.76" height="1.3" fill="rgb(27,17,16)"/>
<rect x="445.27" y="174.66" width="23.76" height="1.3" fill="rgb(165,28,34)"/>
<rect x="468.74" y="174.66" width="23.76" height="1.3" fill="rgb(85,20,22)"/>
<rect x="304.5" y="175.66" width="23.76" height="1.3" fill="rgb(22,111,58)"/>
<rect x="327.96" y="175.66" width="23.76" height="1.3" fill="rgb(25,17,15)"/>
<rect x="351.43" y="175.66" width="23.76" height="1.3" fill="rgb(16,124,63)"/>
<rect x="374.89" y="175.66" width="23.76" height="1.3" fill="rgb(14,130,65)"/>
<rect x="398.35" y="175.66" width="23.76" height="1.3" fill="rgb(90,20,22)"/>
<rect x="421.81" y="175.66" width="23.76" height="1.3" fill="rgb(28,17,16)"/>
<rect x="445.27" y="175.66" width="23.76" height="1.3" fill="rgb(161,28,34)"/>
<rect x="468.74" y="175.66" width="23.76" height="1.3" fill="rgb(66,19,20)"/>
<rect x="304.5" y="176.66" width="23.76" height="1.3" fill="rgb(25,96,51)"/>
<rect x="327.96" y="176.66" width="23.76" height="1.3" fill="rgb(23,23,18)"/>
<rect x="351.43" y="176.66" width="23.76" height="1.3" fill="rgb(20,117,60)"/>
<rect x="374.89" y="176.66" width="23.76" height="1.3" fill="rgb(11,136,68)"/>
<rect x="398.35" y="176.66" width="23.76" height="1.3" fill="rgb(78,20,21)"/>
<rect x="421.81" y="176.66" width="23.76" height="1.3" fill="rgb(22,18,15)"/>
<rect x="445.27" y="176.66" width="23.76" height="1.3" fill="rgb(159,28,33)"/>
<rect x="468.74" y="176.66" width="23.76" height="1.3" fill="rgb(55,18,18)"/>
<rect x="304.5" y="177.66" width="23.76" height="1.3" fill="rgb(24,102,54)"/>
<rect x="327.96" y="177.66" width="23.76" height="1.3" fill="rgb(24,31,22)"/>
<rect x="351.43" y="177.66" width="23.76" height="1.3" fill="rgb(23,109,57)"/>
<rect x="374.89" y="177.66" width="23.76" height="1.3" fill="rgb(13,130,65)"/>
<rect x="398.35" y="177.66" width="23.76" height="1.3" fill="rgb(87,20,22)"/>
<rect x="421.81" y="177.66" width="23.76" height="1.3" fill="rgb(37,18,17)"/>
<rect x="445.27" y="177.66" width="23.76" height="1.3" fill="rgb(134,25,29)"/>
<rect x="468.74" y="177.66" width="23.76" height="1.3" fill="rgb(55,18,18)"/>
<rect x="304.5" y="178.65" width="23.76" height="1.3" fill="rgb(26,90,48)"/>
<rect x="327.96" y="178.65" width="23.76" height="1.3" fill="rgb(27,85,47)"/>
<rect x="351.43" y="178.65" width="23.76" height="1.3" fill="rgb(22,110,57)"/>
<rect x="374.89" y="178.65" width="23.76" height="1.3" fill="rgb(20,115,59)"/>
<rect x="398.35" y="178.65" width="23.76" height="1.3" fill="rgb(146,26,31)"/>
<rect x="421.81" y="178.65" width="23.76" height="1.3" fill="rgb(45,18,17)"/>
<rect x="445.27" y="178.65" width="23.76" height="1.3" fill="rgb(178,30,36)"/>
<rect x="468.74" y="178.65" width="23.76" height="1.3" fill="rgb(28,82,45)"/>
<rect x="304.5" y="179.65" width="23.76" height="1.3" fill="rgb(29,65,38)"/>
<rect x="327.96" y="179.65" width="23.76" height="1.3" fill="rgb(26,90,49)"/>
<rect x="351.43" y="179.65" width="23.76" height="1.3" fill="rgb(15,127,64)"/>
<rect x="374.89" y="179.65" width="23.76" height="1.3" fill="rgb(19,117,60)"/>
<rect x="398.35" y="179.65" width="23.76" height="1.3" fill="rgb(120,24,27)"/>
<rect x="421.81" y="179.65" width="23.76" height="1.3" fill="rgb(27,17,16)"/>
<rect x="445.27" y="179.65" width="23.76" height="1.3" fill="rgb(182,30,37)"/>
<rect x="468.74" y="179.65" width="23.76" height="1.3" fill="rgb(30,69,39)"/>
<rect x="304.5" y="180.65" width="23.76" height="1.3" fill="rgb(30,68,39)"/>
<rect x="327.96" y="180.65" width="23.76" height="1.3" fill="rgb(27,83,46)"/>
<rect x="351.43" y="180.65" width="23.76" height="1.3" fill="rgb(22,109,57)"/>
<rect x="374.89" y="180.65" width="23.76" height="1.3" fill="rgb(21,114,59)"/>
<rect x="398.35" y="180.65" width="23.76" height="1.3" fill="rgb(122,24,27)"/>
<rect x="421.81" y="180.65" width="23.76" height="1.3" fill="rgb(46,18,18)"/>
<rect x="445.27" y="180.65" width="23.76" height="1.3" fill="rgb(183,30,37)"/>
<rect x="468.74" y="180.65" width="23.76" height="1.3" fill="rgb(27,85,47)"/>
<rect x="304.5" y="181.65" width="23.76" height="1.3" fill="rgb(27,87,47)"/>
<rect x="327.96" y="181.65" width="23.76" height="1.3" fill="rgb(29,66,38)"/>
<rect x="351.43" y="181.65" width="23.76" height="1.3" fill="rgb(24,100,53)"/>
<rect x="374.89" y="181.65" width="23.76" height="1.3" fill="rgb(24,103,54)"/>
<rect x="398.35" y="181.65" width="23.76" height="1.3" fill="rgb(139,26,30)"/>
<rect x="421.81" y="181.65" width="23.76" height="1.3" fill="rgb(24,17,15)"/>
<rect x="445.27" y="181.65" width="23.76" height="1.3" fill="rgb(172,29,35)"/>
<rect x="468.74" y="181.65" width="23.76" height="1.3" fill="rgb(29,66,38)"/>
<rect x="304.5" y="182.64" width="23.76" height="1.3" fill="rgb(30,70,40)"/>
<rect x="327.96" y="182.64" width="23.76" height="1.3" fill="rgb(7,145,71)"/>
<rect x="351.43" y="182.64" width="23.76" height="1.3" fill="rgb(29,66,38)"/>
<rect x="374.89" y="182.64" width="23.76" height="1.3" fill="rgb(21,115,59)"/>
<rect x="398.35" y="182.64" width="23.76" height="1.3" fill="rgb(168,29,35)"/>
<rect x="421.81" y="182.64" width="23.76" height="1.3" fill="rgb(97,21,23)"/>
<rect x="445.27" y="182.64" width="23.76" height="1.3" fill="rgb(24,17,15)"/>
<rect x="468.74" y="182.64" width="23.76" height="1.3" fill="rgb(45,18,17)"/>
<rect x="304.5" y="183.64" width="23.76" height="1.3" fill="rgb(26,89,48)"/>
<rect x="327.96" y="183.64" width="23.76" height="1.3" fill="rgb(8,142,70)"/>
<rect x="351.43" y="183.64" width="23.76" height="1.3" fill="rgb(29,76,42)"/>
<rect x="374.89" y="183.64" width="23.76" height="1.3" fill="rgb(18,121,61)"/>
<rect x="398.35" y="183.64" width="23.76" height="1.3" fill="rgb(117,23,27)"/>
<rect x="421.81" y="183.64" width="23.76" height="1.3" fill="rgb(99,21,24)"/>
<rect x="445.27" y="183.64" width="23.76" height="1.3" fill="rgb(23,22,17)"/>
<rect x="468.74" y="183.64" width="23.76" height="1.3" fill="rgb(34,18,16)"/>
<rect x="304.5" y="184.64" width="23.76" height="1.3" fill="rgb(28,54,33)"/>
<rect x="327.96" y="184.64" width="23.76" height="1.3" fill="rgb(7,148,72)"/>
<rect x="351.43" y="184.64" width="23.76" height="1.3" fill="rgb(27,83,46)"/>
<rect x="374.89" y="184.64" width="23.76" height="1.3" fill="rgb(22,110,57)"/>
<rect x="398.35" y="184.64" width="23.76" height="1.3" fill="rgb(146,26,31)"/>
<rect x="421.81" y="184.64" width="23.76" height="1.3" fill="rgb(91,20,22)"/>
<rect x="445.27" y="184.64" width="23.76" height="1.3" fill="rgb(42,18,17)"/>
<rect x="468.74" y="184.64" width="23.76" height="1.3" fill="rgb(22,18,15)"/>
<rect x="304.5" y="185.64" width="23.76" height="1.3" fill="rgb(28,79,44)"/>
<rect x="327.96" y="185.64" width="23.76" height="1.3" fill="rgb(7,146,71)"/>
<rect x="351.43" y="185.64" width="23.76" height="1.3" fill="rgb(26,89,48)"/>
<rect x="374.89" y="185.64" width="23.76" height="1.3" fill="rgb(24,99,53)"/>
<rect x="398.35" y="185.64" width="23.76" height="1.3" fill="rgb(161,28,33)"/>
<rect x="421.81" y="185.64" width="23.76" height="1.3" fill="rgb(95,21,23)"/>
<rect x="445.27" y="185.64" width="23.76" height="1.3" fill="rgb(23,22,17)"/>
<rect x="468.74" y="185.64" width="23.76" height="1.3" fill="rgb(43,18,17)"/>
<rect x="304.5" y="186.63" width="23.76" height="1.3" fill="rgb(23,105,55)"/>
<rect x="327.96" y="186.63" width="23.76" height="1.3" fill="rgb(21,114,59)"/>
<rect x="351.43" y="186.63" width="23.76" height="1.3" fill="rgb(23,105,55)"/>
<rect x="374.89" y="186.63" width="23.76" height="1.3" fill="rgb(29,74,42)"/>
<rect x="398.35" y="186.63" width="23.76" height="1.3" fill="rgb(128,24,28)"/>
<rect x="421.81" y="186.63" width="23.76" height="1.3" fill="rgb(120,24,27)"/>
<rect x="445.27" y="186.63" width="23.76" height="1.3" fill="rgb(23,17,15)"/>
<rect x="468.74" y="186.63" width="23.76" height="1.3" fill="rgb(23,21,17)"/>
<rect x="304.5" y="187.63" width="23.76" height="1.3" fill="rgb(19,118,60)"/>
<rect x="327.96" y="187.63" width="23.76" height="1.3" fill="rgb(23,105,55)"/>
<rect x="351.43" y="187.63" width="23.76" height="1.3" fill="rgb(23,107,56)"/>
<rect x="374.89" y="187.63" width="23.76" height="1.3" fill="rgb(28,56,33)"/>
<rect x="398.35" y="187.63" width="23.76" height="1.3" fill="rgb(157,28,33)"/>
<rect x="421.81" y="187.63" width="23.76" height="1.3" fill="rgb(131,25,29)"/>
<rect x="445.27" y="187.63" width="23.76" height="1.3" fill="rgb(34,18,16)"/>
<rect x="468.74" y="187.63" width="23.76" height="1.3" fill="rgb(30,17,16)"/>
<rect x="304.5" y="188.63" width="23.76" height="1.3" fill="rgb(24,103,54)"/>
<rect x="327.96" y="188.63" width="23.76" height="1.3" fill="rgb(22,113,58)"/>
<rect x="351.43" y="188.63" width="23.76" height="1.3" fill="rgb(18,120,61)"/>
<rect x="374.89" y="188.63" width="23.76" height="1.3" fill="rgb(29,66,38)"/>
<rect x="398.35" y="188.63" width="23.76" height="1.3" fill="rgb(170,29,35)"/>
<rect x="421.81" y="188.63" width="23.76" height="1.3" fill="rgb(127,24,28)"/>
<rect x="445.27" y="188.63" width="23.76" height="1.3" fill="rgb(44,18,17)"/>
<rect x="468.74" y="188.63" width="23.76" height="1.3" fill="rgb(23,22,17)"/>
<rect x="304.5" y="189.62" width="23.76" height="1.3" fill="rgb(18,120,61)"/>
<rect x="327.96" y="189.62" width="23.76" height="1.3" fill="rgb(18,121,61)"/>
<rect x="351.43" y="189.62" width="23.76" height="1.3" fill="rgb(23,105,55)"/>
<rect x="374.89" y="189.62" width="23.76" height="1.3" fill="rgb(28,54,33)"/>
<rect x="398.35" y="189.62" width="23.76" height="1.3" fill="rgb(159,28,33)"/>
<rect x="421.81" y="189.62" width="23.76" height="1.3" fill="rgb(135,25,29)"/>
<rect x="445.27" y="189.62" width="23.76" height="1.3" fill="rgb(44,18,17)"/>
<rect x="468.74" y="189.62" width="23.76" height="1.3" fill="rgb(26,17,15)"/>
<rect x="304.5" y="190.62" width="23.76" height="1.3" fill="rgb(28,82,45)"/>
<rect x="327.96" y="190.62" width="23.76" height="1.3" fill="rgb(12,132,66)"/>
<rect x="351.43" y="190.62" width="23.76" height="1.3" fill="rgb(23,109,57)"/>
<rect x="374.89" y="190.62" width="23.76" height="1.3" fill="rgb(23,107,56)"/>
<rect x="398.35" y="190.62" width="23.76" height="1.3" fill="rgb(202,32,40)"/>
<rect x="421.81" y="190.62" width="23.76" height="1.3" fill="rgb(112,23,26)"/>
<rect x="445.27" y="190.62" width="23.76" height="1.3" fill="rgb(31,17,16)"/>
<rect x="468.74" y="190.62" width="23.76" height="1.3" fill="rgb(103,22,24)"/>
<rect x="304.5" y="191.62" width="23.76" height="1.3" fill="rgb(29,63,37)"/>
<rect x="327.96" y="191.62" width="23.76" height="1.3" fill="rgb(12,134,67)"/>
<rect x="351.43" y="191.62" width="23.76" height="1.3" fill="rgb(21,115,59)"/>
<rect x="374.89" y="191.62" width="23.76" height="1.3" fill="rgb(23,106,55)"/>
<rect x="398.35" y="191.62" width="23.76" height="1.3" fill="rgb(199,32,40)"/>
<rect x="421.81" y="191.62" width="23.76" height="1.3" fill="rgb(69,19,20)"/>
<rect x="445.27" y="191.62" width="23.76" height="1.3" fill="rgb(22,17,15)"/>
<rect x="468.74" y="191.62" width="23.76" height="1.3" fill="rgb(89,20,22)"/>
<rect x="304.5" y="192.62" width="23.76" height="1.3" fill="rgb(27,88,48)"/>
<rect x="327.96" y="192.62" width="23.76" height="1.3" fill="rgb(12,132,66)"/>
<rect x="351.43" y="192.62" width="23.76" height="1.3" fill="rgb(17,123,62)"/>
<rect x="374.89" y="192.62" width="23.76" height="1.3" fill="rgb(15,126,64)"/>
<rect x="398.35" y="192.62" width="23.76" height="1.3" fill="rgb(176,30,36)"/>
<rect x="421.81" y="192.62" width="23.76" height="1.3" fill="rgb(109,22,25)"/>
<rect x="445.27" y="192.62" width="23.76" height="1.3" fill="rgb(27,17,16)"/>
<rect x="468.74" y="192.62" width="23.76" height="1.3" fill="rgb(58,19,19)"/>
<rect x="304.5" y="193.61" width="23.76" height="1.3" fill="rgb(26,90,49)"/>
<rect x="327.96" y="193.61" width="23.76" height="1.3" fill="rgb(7,149,73)"/>
<rect x="351.43" y="193.61" width="23.76" height="1.3" fill="rgb(23,107,56)"/>
<rect x="374.89" y="193.61" width="23.76" height="1.3" fill="rgb(23,109,57)"/>
<rect x="398.35" y="193.61" width="23.76" height="1.3" fill="rgb(203,32,40)"/>
<rect x="421.81" y="193.61" width="23.76" height="1.3" fill="rgb(97,21,23)"/>
<rect x="445.27" y="193.61" width="23.76" height="1.3" fill="rgb(23,21,17)"/>
<rect x="468.74" y="193.61" width="23.76" height="1.3" fill="rgb(87,20,22)"/>
<rect x="304.5" y="194.61" width="23.76" height="1.3" fill="rgb(29,77,43)"/>
<rect x="327.96" y="194.61" width="23.76" height="1.3" fill="rgb(24,102,54)"/>
<rect x="351.43" y="194.61" width="23.76" height="1.3" fill="rgb(24,102,54)"/>
<rect x="374.89" y="194.61" width="23.76" height="1.3" fill="rgb(24,99,53)"/>
<rect x="398.35" y="194.61" width="23.76" height="1.3" fill="rgb(118,23,27)"/>
<rect x="421.81" y="194.61" width="23.76" height="1.3" fill="rgb(105,22,25)"/>
<rect x="445.27" y="194.61" width="23.76" height="1.3" fill="rgb(46,18,18)"/>
<rect x="468.74" y="194.61" width="23.76" height="1.3" fill="rgb(110,22,25)"/>
<rect x="304.5" y="195.61" width="23.76" height="1.3" fill="rgb(27,87,47)"/>
<rect x="327.96" y="195.61" width="23.76" height="1.3" fill="rgb(18,121,62)"/>
<rect x="351.43" y="195.61" width="23.76" height="1.3" fill="rgb(16,124,63)"/>
<rect x="374.89" y="195.61" width="23.76" height="1.3" fill="rgb(15,126,64)"/>
<rect x="398.35" y="195.61" width="23.76" height="1.3" fill="rgb(164,28,34)"/>
<rect x="421.81" y="195.61" width="23.76" height="1.3" fill="rgb(102,21,24)"/>
<rect x="445.27" y="195.61" width="23.76" height="1.3" fill="rgb(36,18,17)"/>
<rect x="468.74" y="195.61" width="23.76" height="1.3" fill="rgb(102,22,24)"/>
<rect x="304.5" y="196.61" width="23.76" height="1.3" fill="rgb(29,66,38)"/>
<rect x="327.96" y="196.61" width="23.76" height="1.3" fill="rgb(19,119,61)"/>
<rect x="351.43" y="196.61" width="23.76" height="1.3" fill="rgb(16,124,63)"/>
<rect x="374.89" y="196.61" width="23.76" height="1.3" fill="rgb(16,124,63)"/>
<rect x="398.35" y="196.61" width="23.76" height="1.3" fill="rgb(160,28,33)"/>
<rect x="421.81" y="196.61" width="23.76" height="1.3" fill="rgb(62,19,19)"/>
<rect x="445.27" y="196.61" width="23.76" height="1.3" fill="rgb(26,17,15)"/>
<rect x="468.74" y="196.61" width="23.76" height="1.3" fill="rgb(76,19,21)"/>
<rect x="304.5" y="197.6" width="23.76" height="1.3" fill="rgb(26,90,49)"/>
<rect x="327.96" y="197.6" width="23.76" height="1.3" fill="rgb(18,120,61)"/>
<rect x="351.43" y="197.6" width="23.76" height="1.3" fill="rgb(19,119,61)"/>
<rect x="374.89" y="197.6" width="23.76" height="1.3" fill="rgb(23,106,55)"/>
<rect x="398.35" y="197.6" width="23.76" height="1.3" fill="rgb(137,25,30)"/>
<rect x="421.81" y="197.6" width="23.76" height="1.3" fill="rgb(70,19,20)"/>
<rect x="445.27" y="197.6" width="23.76" height="1.3" fill="rgb(47,18,18)"/>
<rect x="468.74" y="197.6" width="23.76" height="1.3" fill="rgb(82,20,21)"/>
<rect x="304.5" y="198.6" width="23.76" height="1.3" fill="rgb(24,101,53)"/>
<rect x="327.96" y="198.6" width="23.76" height="1.3" fill="rgb(30,67,39)"/>
<rect x="351.43" y="198.6" width="23.76" height="1.3" fill="rgb(15,126,64)"/>
<rect x="374.89" y="198.6" width="23.76" height="1.3" fill="rgb(20,116,60)"/>
<rect x="398.35" y="198.6" width="23.76" height="1.3" fill="rgb(142,26,30)"/>
<rect x="421.81" y="198.6" width="23.76" height="1.3" fill="rgb(160,28,33)"/>
<rect x="445.27" y="198.6" width="23.76" height="1.3" fill="rgb(71,19,20)"/>
<rect x="468.74" y="198.6" width="23.76" height="1.3" fill="rgb(95,21,23)"/>
<rect x="304.5" y="199.6" width="23.76" height="1.3" fill="rgb(22,112,58)"/>
<rect x="327.96" y="199.6" width="23.76" height="1.3" fill="rgb(28,83,45)"/>
<rect x="351.43" y="199.6" width="23.76" height="1.3" fill="rgb(24,100,53)"/>
<rect x="374.89" y="199.6" width="23.76" height="1.3" fill="rgb(16,125,63)"/>
<rect x="398.35" y="199.6" width="23.76" height="1.3" fill="rgb(163,28,34)"/>
<rect x="421.81" y="199.6" width="23.76" height="1.3" fill="rgb(125,24,28)"/>
<rect x="445.27" y="199.6" width="23.76" height="1.3" fill="rgb(55,18,18)"/>
<rect x="468.74" y="199.6" width="23.76" height="1.3" fill="rgb(62,19,19)"/>
<rect x="304.5" y="200.6" width="23.76" height="1.3" fill="rgb(23,104,55)"/>
<rect x="327.96" y="200.6" width="23.76" height="1.3" fill="rgb(28,54,33)"/>
<rect x="351.43" y="200.6" width="23.76" height="1.3" fill="rgb(15,127,64)"/>
<rect x="374.89" y="200.6" width="23.76" height="1.3" fill="rgb(21,114,59)"/>
<rect x="398.35" y="200.6" width="23.76" height="1.3" fill="rgb(145,26,31)"/>
<rect x="421.81" y="200.6" width="23.76" height="1.3" fill="rgb(161,28,34)"/>
<rect x="445.27" y="200.6" width="23.76" height="1.3" fill="rgb(61,19,19)"/>
<rect x="468.74" y="200.6" width="23.76" height="1.3" fill="rgb(81,20,21)"/>
<rect x="304.5" y="201.59" width="23.76" height="1.3" fill="rgb(19,118,60)"/>
<rect x="327.96" y="201.59" width="23.76" height="1.3" fill="rgb(28,57,34)"/>
<rect x="351.43" y="201.59" width="23.76" height="1.3" fill="rgb(18,120,61)"/>
<rect x="374.89" y="201.59" width="23.76" height="1.3" fill="rgb(25,97,52)"/>
<rect x="398.35" y="201.59" width="23.76" height="1.3" fill="rgb(132,25,29)"/>
<rect x="421.81" y="201.59" width="23.76" height="1.3" fill="rgb(127,24,28)"/>
<rect x="445.27" y="201.59" width="23.76" height="1.3" fill="rgb(94,21,23)"/>
<rect x="468.74" y="201.59" width="23.76" height="1.3" fill="rgb(81,20,21)"/>
<rect x="304.5" y="202.59" width="23.76" height="1.3" fill="rgb(16,124,63)"/>
<rect x="327.96" y="202.59" width="23.76" height="1.3" fill="rgb(23,109,57)"/>
<rect x="351.43" y="202.59" width="23.76" height="1.3" fill="rgb(27,88,48)"/>
<rect x="374.89" y="202.59" width="23.76" height="1.3" fill="rgb(28,59,35)"/>
<rect x="398.35" y="202.59" width="23.76" height="1.3" fill="rgb(38,18,17)"/>
<rect x="421.81" y="202.59" width="23.76" height="1.3" fill="rgb(206,33,41)"/>
<rect x="445.27" y="202.59" width="23.76" height="1.3" fill="rgb(36,18,16)"/>
<rect x="468.74" y="202.59" width="23.76" height="1.3" fill="rgb(72,19,20)"/>
<rect x="304.5" y="203.59" width="23.76" height="1.3" fill="rgb(20,116,60)"/>
<rect x="327.96" y="203.59" width="23.76" height="1.3" fill="rgb(20,116,60)"/>
<rect x="351.43" y="203.59" width="23.76" height="1.3" fill="rgb(28,54,33)"/>
<rect x="374.89" y="203.59" width="23.76" height="1.3" fill="rgb(27,88,48)"/>
<rect x="398.35" y="203.59" width="23.76" height="1.3" fill="rgb(45,18,17)"/>
<rect x="421.81" y="203.59" width="23.76" height="1.3" fill="rgb(172,29,35)"/>
<rect x="445.27" y="203.59" width="23.76" height="1.3" fill="rgb(22,17,15)"/>
<rect x="468.74" y="203.59" width="23.76" height="1.3" fill="rgb(66,19,20)"/>
<rect x="304.5" y="204.59" width="23.76" height="1.3" fill="rgb(24,99,52)"/>
<rect x="327.96" y="204.59" width="23.76" height="1.3" fill="rgb(21,113,59)"/>
<rect x="351.43" y="204.59" width="23.76" height="1.3" fill="rgb(29,77,43)"/>
<rect x="374.89" y="204.59" width="23.76" height="1.3" fill="rgb(28,54,33)"/>
<rect x="398.35" y="204.59" width="23.76" height="1.3" fill="rgb(23,17,15)"/>
<rect x="421.81" y="204.59" width="23.76" height="1.3" fill="rgb(193,31,39)"/>
<rect x="445.27" y="204.59" width="23.76" height="1.3" fill="rgb(33,17,16)"/>
<rect x="468.74" y="204.59" width="23.76" height="1.3" fill="rgb(98,21,24)"/>
<rect x="304.5" y="205.58" width="23.76" height="1.3" fill="rgb(23,105,55)"/>
<rect x="327.96" y="205.58" width="23.76" height="1.3" fill="rgb(23,109,57)"/>
<rect x="351.43" y="205.58" width="23.76" height="1.3" fill="rgb(29,78,43)"/>
<rect x="374.89" y="205.58" width="23.76" height="1.3" fill="rgb(28,79,44)"/>
<rect x="398.35" y="205.58" width="23.76" height="1.3" fill="rgb(22,18,16)"/>
<rect x="421.81" y="205.58" width="23.76" height="1.3" fill="rgb(207,33,41)"/>
<rect x="445.27" y="205.58" width="23.76" height="1.3" fill="rgb(37,18,17)"/>
<rect x="468.74" y="205.58" width="23.76" height="1.3" fill="rgb(97,21,23)"/>
<rect x="304.5" y="206.58" width="23.76" height="1.3" fill="rgb(27,85,46)"/>
<rect x="327.96" y="206.58" width="23.76" height="1.3" fill="rgb(8,144,71)"/>
<rect x="351.43" y="206.58" width="23.76" height="1.3" fill="rgb(24,104,54)"/>
<rect x="374.89" y="206.58" width="23.76" height="1.3" fill="rgb(30,69,39)"/>
<rect x="398.35" y="206.58" width="23.76" height="1.3" fill="rgb(57,19,19)"/>
<rect x="421.81" y="206.58" width="23.76" height="1.3" fill="rgb(193,31,39)"/>
<rect x="445.27" y="206.58" width="23.76" height="1.3" fill="rgb(106,22,25)"/>
<rect x="468.74" y="206.58" width="23.76" height="1.3" fill="rgb(64,19,19)"/>
<rect x="304.5" y="207.58" width="23.76" height="1.3" fill="rgb(27,84,46)"/>
<rect x="327.96" y="207.58" width="23.76" height="1.3" fill="rgb(7,146,71)"/>
<rect x="351.43" y="207.58" width="23.76" height="1.3" fill="rgb(23,106,56)"/>
<rect x="374.89" y="207.58" width="23.76" height="1.3" fill="rgb(28,56,34)"/>
<rect x="398.35" y="207.58" width="23.76" height="1.3" fill="rgb(59,19,19)"/>
<rect x="421.81" y="207.58" width="23.76" height="1.3" fill="rgb(179,30,36)"/>
<rect x="445.27" y="207.58" width="23.76" height="1.3" fill="rgb(65,19,20)"/>
<rect x="468.74" y="207.58" width="23.76" height="1.3" fill="rgb(70,19,20)"/>
<rect x="304.5" y="208.58" width="23.76" height="1.3" fill="rgb(30,71,41)"/>
<rect x="327.96" y="208.58" width="23.76" height="1.3" fill="rgb(7,148,72)"/>
<rect x="351.43" y="208.58" width="23.76" height="1.3" fill="rgb(19,118,60)"/>
<rect x="374.89" y="208.58" width="23.76" height="1.3" fill="rgb(27,84,46)"/>
<rect x="398.35" y="208.58" width="23.76" height="1.3" fill="rgb(112,23,26)"/>
<rect x="421.81" y="208.58" width="23.76" height="1.3" fill="rgb(204,33,41)"/>
<rect x="445.27" y="208.58" width="23.76" height="1.3" fill="rgb(55,19,19)"/>
<rect x="468.74" y="208.58" width="23.76" height="1.3" fill="rgb(111,23,26)"/>
<rect x="304.5" y="209.57" width="23.76" height="1.3" fill="rgb(27,87,47)"/>
<rect x="327.96" y="209.57" width="23.76" height="1.3" fill="rgb(8,144,71)"/>
<rect x="351.43" y="209.57" width="23.76" height="1.3" fill="rgb(25,96,51)"/>
<rect x="374.89" y="209.57" width="23.76" height="1.3" fill="rgb(28,59,35)"/>
<rect x="398.35" y="209.57" width="23.76" height="1.3" fill="rgb(97,21,23)"/>
<rect x="421.81" y="209.57" width="23.76" height="1.3" fill="rgb(192,31,39)"/>
<rect x="445.27" y="209.57" width="23.76" height="1.3" fill="rgb(61,19,19)"/>
<rect x="468.74" y="209.57" width="23.76" height="1.3" fill="rgb(90,20,22)"/>
<rect x="304.5" y="210.57" width="23.76" height="1.3" fill="rgb(27,87,47)"/>
<rect x="327.96" y="210.57" width="23.76" height="1.3" fill="rgb(18,121,62)"/>
<rect x="351.43" y="210.57" width="23.76" height="1.3" fill="rgb(20,117,60)"/>
<rect x="374.89" y="210.57" width="23.76" height="1.3" fill="rgb(15,126,64)"/>
<rect x="398.35" y="210.57" width="23.76" height="1.3" fill="rgb(75,19,21)"/>
<rect x="421.81" y="210.57" width="23.76" height="1.3" fill="rgb(161,28,34)"/>
<rect x="445.27" y="210.57" width="23.76" height="1.3" fill="rgb(94,21,23)"/>
<rect x="468.74" y="210.57" width="23.76" height="1.3" fill="rgb(32,17,16)"/>
<rect x="304.5" y="211.57" width="23.76" height="1.3" fill="rgb(29,66,38)"/>
<rect x="327.96" y="211.57" width="23.76" height="1.3" fill="rgb(21,114,59)"/>
<rect x="351.43" y="211.57" width="23.76" height="1.3" fill="rgb(17,123,62)"/>
<rect x="374.89" y="211.57" width="23.76" height="1.3" fill="rgb(22,110,57)"/>
<rect x="398.35" y="211.57" width="23.76" height="1.3" fill="rgb(75,19,21)"/>
<rect x="421.81" y="211.57" width="23.76" height="1.3" fill="rgb(159,28,33)"/>
<rect x="445.27" y="211.57" width="23.76" height="1.3" fill="rgb(108,22,25)"/>
<rect x="468.74" y="211.57" width="23.76" height="1.3" fill="rgb(30,17,16)"/>
<rect x="304.5" y="212.57" width="23.76" height="1.3" fill="rgb(30,69,40)"/>
<rect x="327.96" y="212.57" width="23.76" height="1.3" fill="rgb(23,105,55)"/>
<rect x="351.43" y="212.57" width="23.76" height="1.3" fill="rgb(20,116,59)"/>
<rect x="374.89" y="212.57" width="23.76" height="1.3" fill="rgb(18,121,62)"/>
<rect x="398.35" y="212.57" width="23.76" height="1.3" fill="rgb(96,21,23)"/>
<rect x="421.81" y="212.57" width="23.76" height="1.3" fill="rgb(165,28,34)"/>
<rect x="445.27" y="212.57" width="23.76" height="1.3" fill="rgb(99,21,24)"/>
<rect x="468.74" y="212.57" width="23.76" height="1.3" fill="rgb(39,18,17)"/>
<rect x="304.5" y="213.56" width="23.76" height="1.3" fill="rgb(28,56,33)"/>
<rect x="327.96" y="213.56" width="23.76" height="1.3" fill="rgb(23,107,56)"/>
<rect x="351.43" y="213.56" width="23.76" height="1.3" fill="rgb(23,109,57)"/>
<rect x="374.89" y="213.56" width="23.76" height="1.3" fill="rgb(21,115,59)"/>
<rect x="398.35" y="213.56" width="23.76" height="1.3" fill="rgb(69,19,20)"/>
<rect x="421.81" y="213.56" width="23.76" height="1.3" fill="rgb(153,27,32)"/>
<rect x="445.27" y="213.56" width="23.76" height="1.3" fill="rgb(55,18,18)"/>
<rect x="468.74" y="213.56" width="23.76" height="1.3" fill="rgb(29,17,16)"/>
<rect x="304.5" y="214.56" width="23.76" height="1.3" fill="rgb(28,59,35)"/>
<rect x="327.96" y="214.56" width="23.76" height="1.3" fill="rgb(23,106,55)"/>
<rect x="351.43" y="214.56" width="23.76" height="1.3" fill="rgb(23,109,57)"/>
<rect x="374.89" y="214.56" width="23.76" height="1.3" fill="rgb(18,120,61)"/>
<rect x="398.35" y="214.56" width="23.76" height="1.3" fill="rgb(76,19,21)"/>
<rect x="421.81" y="214.56" width="23.76" height="1.3" fill="rgb(193,31,39)"/>
<rect x="445.27" y="214.56" width="23.76" height="1.3" fill="rgb(89,20,22)"/>
<rect x="468.74" y="214.56" width="23.76" height="1.3" fill="rgb(75,19,21)"/>
<rect x="304.5" y="215.56" width="23.76" height="1.3" fill="rgb(29,64,37)"/>
<rect x="327.96" y="215.56" width="23.76" height="1.3" fill="rgb(25,98,52)"/>
<rect x="351.43" y="215.56" width="23.76" height="1.3" fill="rgb(17,122,62)"/>
<rect x="374.89" y="215.56" width="23.76" height="1.3" fill="rgb(23,108,56)"/>
<rect x="398.35" y="215.56" width="23.76" height="1.3" fill="rgb(99,21,24)"/>
<rect x="421.81" y="215.56" width="23.76" height="1.3" fill="rgb(190,31,38)"/>
<rect x="445.27" y="215.56" width="23.76" height="1.3" fill="rgb(81,20,21)"/>
<rect x="468.74" y="215.56" width="23.76" height="1.3" fill="rgb(112,23,26)"/>
<rect x="304.5" y="216.56" width="23.76" height="1.3" fill="rgb(26,90,48)"/>
<rect x="327.96" y="216.56" width="23.76" height="1.3" fill="rgb(22,112,58)"/>
<rect x="351.43" y="216.56" width="23.76" height="1.3" fill="rgb(17,123,62)"/>
<rect x="374.89" y="216.56" width="23.76" height="1.3" fill="rgb(24,103,54)"/>
<rect x="398.35" y="216.56" width="23.76" height="1.3" fill="rgb(110,22,25)"/>
<rect x="421.81" y="216.56" width="23.76" height="1.3" fill="rgb(196,32,39)"/>
<rect x="445.27" y="216.56" width="23.76" height="1.3" fill="rgb(55,19,19)"/>
<rect x="468.74" y="216.56" width="23.76" height="1.3" fill="rgb(86,20,22)"/>
<rect x="304.5" y="217.55" width="23.76" height="1.3" fill="rgb(30,71,40)"/>
<rect x="327.96" y="217.55" width="23.76" height="1.3" fill="rgb(23,106,55)"/>
<rect x="351.43" y="217.55" width="23.76" height="1.3" fill="rgb(21,113,58)"/>
<rect x="374.89" y="217.55" width="23.76" height="1.3" fill="rgb(23,109,57)"/>
<rect x="398.35" y="217.55" width="23.76" height="1.3" fill="rgb(103,22,24)"/>
<rect x="421.81" y="217.55" width="23.76" height="1.3" fill="rgb(196,32,39)"/>
<rect x="445.27" y="217.55" width="23.76" height="1.3" fill="rgb(75,19,21)"/>
<rect x="468.74" y="217.55" width="23.76" height="1.3" fill="rgb(110,22,25)"/>
<rect x="304.5" y="218.55" width="23.76" height="1.3" fill="rgb(28,83,46)"/>
<rect x="327.96" y="218.55" width="23.76" height="1.3" fill="rgb(10,139,69)"/>
<rect x="351.43" y="218.55" width="23.76" height="1.3" fill="rgb(29,76,43)"/>
<rect x="374.89" y="218.55" width="23.76" height="1.3" fill="rgb(29,60,35)"/>
<rect x="398.35" y="218.55" width="23.76" height="1.3" fill="rgb(22,19,16)"/>
<rect x="421.81" y="218.55" width="23.76" height="1.3" fill="rgb(170,29,35)"/>
<rect x="445.27" y="218.55" width="23.76" height="1.3" fill="rgb(72,19,20)"/>
<rect x="468.74" y="218.55" width="23.76" height="1.3" fill="rgb(117,23,27)"/>
<rect x="304.5" y="219.55" width="23.76" height="1.3" fill="rgb(28,81,45)"/>
<rect x="327.96" y="219.55" width="23.76" height="1.3" fill="rgb(8,144,71)"/>
<rect x="351.43" y="219.55" width="23.76" height="1.3" fill="rgb(26,90,49)"/>
<rect x="374.89" y="219.55" width="23.76" height="1.3" fill="rgb(29,75,42)"/>
<rect x="398.35" y="219.55" width="23.76" height="1.3" fill="rgb(29,17,16)"/>
<rect x="421.81" y="219.55" width="23.76" height="1.3" fill="rgb(157,27,33)"/>
<rect x="445.27" y="219.55" width="23.76" height="1.3" fill="rgb(72,19,20)"/>
<rect x="468.74" y="219.55" width="23.76" height="1.3" fill="rgb(131,25,29)"/>
<rect x="304.5" y="220.55" width="23.76" height="1.3" fill="rgb(28,83,45)"/>
<rect x="327.96" y="220.55" width="23.76" height="1.3" fill="rgb(10,137,68)"/>
<rect x="351.43" y="220.55" width="23.76" height="1.3" fill="rgb(28,54,33)"/>
<rect x="374.89" y="220.55" width="23.76" height="1.3" fill="rgb(30,71,40)"/>
<rect x="398.35" y="220.55" width="23.76" height="1.3" fill="rgb(23,17,15)"/>
<rect x="421.81" y="220.55" width="23.76" height="1.3" fill="rgb(162,28,34)"/>
<rect x="445.27" y="220.55" width="23.76" height="1.3" fill="rgb(74,19,21)"/>
<rect x="468.74" y="220.55" width="23.76" height="1.3" fill="rgb(127,24,28)"/>
<rect x="304.5" y="221.54" width="23.76" height="1.3" fill="rgb(27,86,47)"/>
<rect x="327.96" y="221.54" width="23.76" height="1.3" fill="rgb(11,136,68)"/>
<rect x="351.43" y="221.54" width="23.76" height="1.3" fill="rgb(28,58,34)"/>
<rect x="374.89" y="221.54" width="23.76" height="1.3" fill="rgb(29,66,38)"/>
<rect x="398.35" y="221.54" width="23.76" height="1.3" fill="rgb(31,17,16)"/>
<rect x="421.81" y="221.54" width="23.76" height="1.3" fill="rgb(150,27,32)"/>
<rect x="445.27" y="221.54" width="23.76" height="1.3" fill="rgb(63,19,19)"/>
<rect x="468.74" y="221.54" width="23.76" height="1.3" fill="rgb(169,29,35)"/>
<rect x="304.5" y="222.54" width="23.76" height="1.3" fill="rgb(29,78,43)"/>
<rect x="327.96" y="222.54" width="23.76" height="1.3" fill="rgb(9,140,69)"/>
<rect x="351.43" y="222.54" width="23.76" height="1.3" fill="rgb(28,57,34)"/>
<rect x="374.89" y="222.54" width="23.76" height="1.3" fill="rgb(28,58,34)"/>
<rect x="398.35" y="222.54" width="23.76" height="1.3" fill="rgb(79,20,21)"/>
<rect x="421.81" y="222.54" width="23.76" height="1.3" fill="rgb(132,25,29)"/>
<rect x="445.27" y="222.54" width="23.76" height="1.3" fill="rgb(85,20,22)"/>
<rect x="468.74" y="222.54" width="23.76" height="1.3" fill="rgb(122,24,27)"/>
<rect x="304.5" y="223.54" width="23.76" height="1.3" fill="rgb(28,57,34)"/>
<rect x="327.96" y="223.54" width="23.76" height="1.3" fill="rgb(7,145,71)"/>
<rect x="351.43" y="223.54" width="23.76" height="1.3" fill="rgb(28,56,33)"/>
<rect x="374.89" y="223.54" width="23.76" height="1.3" fill="rgb(28,81,45)"/>
<rect x="398.35" y="223.54" width="23.76" height="1.3" fill="rgb(73,19,20)"/>
<rect x="421.81" y="223.54" width="23.76" height="1.3" fill="rgb(130,25,29)"/>
<rect x="445.27" y="223.54" width="23.76" height="1.3" fill="rgb(77,19,21)"/>
<rect x="468.74" y="223.54" width="23.76" height="1.3" fill="rgb(125,24,28)"/>
<rect x="304.5" y="224.54" width="23.76" height="1.3" fill="rgb(26,91,49)"/>
<rect x="327.96" y="224.54" width="23.76" height="1.3" fill="rgb(10,138,68)"/>
<rect x="351.43" y="224.54" width="23.76" height="1.3" fill="rgb(28,80,44)"/>
<rect x="374.89" y="224.54" width="23.76" height="1.3" fill="rgb(28,82,45)"/>
<rect x="398.35" y="224.54" width="23.76" height="1.3" fill="rgb(68,19,20)"/>
<rect x="421.81" y="224.54" width="23.76" height="1.3" fill="rgb(144,26,31)"/>
<rect x="445.27" y="224.54" width="23.76" height="1.3" fill="rgb(77,19,21)"/>
<rect x="468.74" y="224.54" width="23.76" height="1.3" fill="rgb(154,27,32)"/>
<rect x="304.5" y="225.53" width="23.76" height="1.3" fill="rgb(29,65,38)"/>
<rect x="327.96" y="225.53" width="23.76" height="1.3" fill="rgb(7,145,71)"/>
<rect x="351.43" y="225.53" width="23.76" height="1.3" fill="rgb(28,54,33)"/>
<rect x="374.89" y="225.53" width="23.76" height="1.3" fill="rgb(28,56,33)"/>
<rect x="398.35" y="225.53" width="23.76" height="1.3" fill="rgb(55,18,18)"/>
<rect x="421.81" y="225.53" width="23.76" height="1.3" fill="rgb(163,28,34)"/>
<rect x="445.27" y="225.53" width="23.76" height="1.3" fill="rgb(108,22,25)"/>
<rect x="468.74" y="225.53" width="23.76" height="1.3" fill="rgb(161,28,33)"/>
<rect x="304.5" y="226.53" width="23.76" height="1.3" fill="rgb(27,86,47)"/>
<rect x="327.96" y="226.53" width="23.76" height="1.3" fill="rgb(11,135,67)"/>
<rect x="351.43" y="226.53" width="23.76" height="1.3" fill="rgb(23,109,57)"/>
<rect x="374.89" y="226.53" width="23.76" height="1.3" fill="rgb(15,127,64)"/>
<rect x="398.35" y="226.53" width="23.76" height="1.3" fill="rgb(172,29,35)"/>
<rect x="421.81" y="226.53" width="23.76" height="1.3" fill="rgb(169,29,35)"/>
<rect x="445.27" y="226.53" width="23.76" height="1.3" fill="rgb(92,20,23)"/>
<rect x="468.74" y="226.53" width="23.76" height="1.3" fill="rgb(130,25,29)"/>
<rect x="304.5" y="227.53" width="23.76" height="1.3" fill="rgb(27,87,47)"/>
<rect x="327.96" y="227.53" width="23.76" height="1.3" fill="rgb(7,148,72)"/>
<rect x="351.43" y="227.53" width="23.76" height="1.3" fill="rgb(18,121,61)"/>
<rect x="374.89" y="227.53" width="23.76" height="1.3" fill="rgb(24,104,54)"/>
<rect x="398.35" y="227.53" width="23.76" height="1.3" fill="rgb(188,31,38)"/>
<rect x="421.81" y="227.53" width="23.76" height="1.3" fill="rgb(123,24,28)"/>
<rect x="445.27" y="227.53" width="23.76" height="1.3" fill="rgb(107,22,25)"/>
<rect x="468.74" y="227.53" width="23.76" height="1.3" fill="rgb(161,28,34)"/>
<rect x="304.5" y="228.53" width="23.76" height="1.3" fill="rgb(27,85,46)"/>
<rect x="327.96" y="228.53" width="23.76" height="1.3" fill="rgb(12,133,66)"/>
<rect x="351.43" y="228.53" width="23.76" height="1.3" fill="rgb(22,110,57)"/>
<rect x="374.89" y="228.53" width="23.76" height="1.3" fill="rgb(24,103,54)"/>
<rect x="398.35" y="228.53" width="23.76" height="1.3" fill="rgb(202,32,40)"/>
<rect x="421.81" y="228.53" width="23.76" height="1.3" fill="rgb(166,28,34)"/>
<rect x="445.27" y="228.53" width="23.76" height="1.3" fill="rgb(100,21,24)"/>
<rect x="468.74" y="228.53" width="23.76" height="1.3" fill="rgb(163,28,34)"/>
<rect x="304.5" y="229.52" width="23.76" height="1.3" fill="rgb(27,84,46)"/>
<rect x="327.96" y="229.52" width="23.76" height="1.3" fill="rgb(10,138,69)"/>
<rect x="351.43" y="229.52" width="23.76" height="1.3" fill="rgb(22,113,58)"/>
<rect x="374.89" y="229.52" width="23.76" height="1.3" fill="rgb(23,105,55)"/>
<rect x="398.35" y="229.52" width="23.76" height="1.3" fill="rgb(192,31,39)"/>
<rect x="421.81" y="229.52" width="23.76" height="1.3" fill="rgb(166,28,34)"/>
<rect x="445.27" y="229.52" width="23.76" height="1.3" fill="rgb(85,20,22)"/>
<rect x="468.74" y="229.52" width="23.76" height="1.3" fill="rgb(131,25,29)"/>
<rect x="304.5" y="230.52" width="23.76" height="1.3" fill="rgb(24,32,22)"/>
<rect x="327.96" y="230.52" width="23.76" height="1.3" fill="rgb(17,123,62)"/>
<rect x="351.43" y="230.52" width="23.76" height="1.3" fill="rgb(21,114,59)"/>
<rect x="374.89" y="230.52" width="23.76" height="1.3" fill="rgb(16,125,63)"/>
<rect x="398.35" y="230.52" width="23.76" height="1.3" fill="rgb(79,20,21)"/>
<rect x="421.81" y="230.52" width="23.76" height="1.3" fill="rgb(58,19,19)"/>
<rect x="445.27" y="230.52" width="23.76" height="1.3" fill="rgb(81,20,21)"/>
<rect x="468.74" y="230.52" width="23.76" height="1.3" fill="rgb(145,26,31)"/>
<rect x="304.5" y="231.52" width="23.76" height="1.3" fill="rgb(23,24,18)"/>
<rect x="327.96" y="231.52" width="23.76" height="1.3" fill="rgb(24,100,53)"/>
<rect x="351.43" y="231.52" width="23.76" height="1.3" fill="rgb(15,127,64)"/>
<rect x="374.89" y="231.52" width="23.76" height="1.3" fill="rgb(24,101,53)"/>
<rect x="398.35" y="231.52" width="23.76" height="1.3" fill="rgb(79,20,21)"/>
<rect x="421.81" y="231.52" width="23.76" height="1.3" fill="rgb(86,20,22)"/>
<rect x="445.27" y="231.52" width="23.76" height="1.3" fill="rgb(92,20,23)"/>
<rect x="468.74" y="231.52" width="23.76" height="1.3" fill="rgb(164,28,34)"/>
<rect x="304.5" y="232.52" width="23.76" height="1.3" fill="rgb(24,28,20)"/>
<rect x="327.96" y="232.52" width="23.76" height="1.3" fill="rgb(20,116,59)"/>
<rect x="351.43" y="232.52" width="23.76" height="1.3" fill="rgb(25,97,51)"/>
<rect x="374.89" y="232.52" width="23.76" height="1.3" fill="rgb(16,125,63)"/>
<rect x="398.35" y="232.52" width="23.76" height="1.3" fill="rgb(90,20,22)"/>
<rect x="421.81" y="232.52" width="23.76" height="1.3" fill="rgb(90,20,22)"/>
<rect x="445.27" y="232.52" width="23.76" height="1.3" fill="rgb(55,18,18)"/>
<rect x="468.74" y="232.52" width="23.76" height="1.3" fill="rgb(152,27,32)"/>
<rect x="304.5" y="233.51" width="23.76" height="1.3" fill="rgb(22,20,16)"/>
<rect x="327.96" y="233.51" width="23.76" height="1.3" fill="rgb(25,98,52)"/>
<rect x="351.43" y="233.51" width="23.76" height="1.3" fill="rgb(19,118,60)"/>
<rect x="374.89" y="233.51" width="23.76" height="1.3" fill="rgb(25,96,51)"/>
<rect x="398.35" y="233.51" width="23.76" height="1.3" fill="rgb(82,20,21)"/>
<rect x="421.81" y="233.51" width="23.76" height="1.3" fill="rgb(80,20,21)"/>
<rect x="445.27" y="233.51" width="23.76" height="1.3" fill="rgb(107,22,25)"/>
<rect x="468.74" y="233.51" width="23.76" height="1.3" fill="rgb(116,23,26)"/>
<rect x="304.5" y="234.51" width="23.76" height="1.3" fill="rgb(23,106,55)"/>
<rect x="327.96" y="234.51" width="23.76" height="1.3" fill="rgb(23,109,57)"/>
<rect x="351.43" y="234.51" width="23.76" height="1.3" fill="rgb(19,118,60)"/>
<rect x="374.89" y="234.51" width="23.76" height="1.3" fill="rgb(24,100,53)"/>
<rect x="398.35" y="234.51" width="23.76" height="1.3" fill="rgb(137,25,30)"/>
<rect x="421.81" y="234.51" width="23.76" height="1.3" fill="rgb(80,20,21)"/>
<rect x="445.27" y="234.51" width="23.76" height="1.3" fill="rgb(83,20,21)"/>
<rect x="468.74" y="234.51" width="23.76" height="1.3" fill="rgb(160,28,33)"/>
<rect x="304.5" y="235.51" width="23.76" height="1.3" fill="rgb(18,121,62)"/>
<rect x="327.96" y="235.51" width="23.76" height="1.3" fill="rgb(20,115,59)"/>
<rect x="351.43" y="235.51" width="23.76" height="1.3" fill="rgb(20,116,59)"/>
<rect x="374.89" y="235.51" width="23.76" height="1.3" fill="rgb(22,112,58)"/>
<rect x="398.35" y="235.51" width="23.76" height="1.3" fill="rgb(163,28,34)"/>
<rect x="421.81" y="235.51" width="23.76" height="1.3" fill="rgb(68,19,20)"/>
<rect x="445.27" y="235.51" width="23.76" height="1.3" fill="rgb(103,22,24)"/>
<rect x="468.74" y="235.51" width="23.76" height="1.3" fill="rgb(139,26,30)"/>
<rect x="304.5" y="236.51" width="23.76" height="1.3" fill="rgb(21,113,59)"/>
<rect x="327.96" y="236.51" width="23.76" height="1.3" fill="rgb(18,120,61)"/>
<rect x="351.43" y="236.51" width="23.76" height="1.3" fill="rgb(21,113,59)"/>
<rect x="374.89" y="236.51" width="23.76" height="1.3" fill="rgb(25,96,51)"/>
<rect x="398.35" y="236.51" width="23.76" height="1.3" fill="rgb(155,27,32)"/>
<rect x="421.81" y="236.51" width="23.76" height="1.3" fill="rgb(100,21,24)"/>
<rect x="445.27" y="236.51" width="23.76" height="1.3" fill="rgb(70,19,20)"/>
<rect x="468.74" y="236.51" width="23.76" height="1.3" fill="rgb(134,25,29)"/>
<rect x="304.5" y="237.5" width="23.76" height="1.3" fill="rgb(19,119,61)"/>
<rect x="327.96" y="237.5" width="23.76" height="1.3" fill="rgb(22,111,57)"/>
<rect x="351.43" y="237.5" width="23.76" height="1.3" fill="rgb(23,109,57)"/>
<rect x="374.89" y="237.5" width="23.76" height="1.3" fill="rgb(24,103,54)"/>
<rect x="398.35" y="237.5" width="23.76" height="1.3" fill="rgb(116,23,26)"/>
<rect x="421.81" y="237.5" width="23.76" height="1.3" fill="rgb(96,21,23)"/>
<rect x="445.27" y="237.5" width="23.76" height="1.3" fill="rgb(106,22,25)"/>
<rect x="468.74" y="237.5" width="23.76" height="1.3" fill="rgb(149,27,31)"/>
<rect x="304.5" y="238.5" width="23.76" height="1.29" fill="rgb(213,34,42)"/>
<rect x="327.96" y="238.5" width="23.76" height="1.29" fill="rgb(25,17,15)"/>
<rect x="351.43" y="238.5" width="23.76" height="1.29" fill="rgb(23,22,17)"/>
<rect x="374.89" y="238.5" width="23.76" height="1.29" fill="rgb(22,17,15)"/>
<rect x="398.35" y="238.5" width="23.76" height="1.29" fill="rgb(28,54,33)"/>
<rect x="421.81" y="238.5" width="23.76" height="1.29" fill="rgb(22,110,57)"/>
<rect x="445.27" y="238.5" width="23.76" height="1.29" fill="rgb(155,27,32)"/>
<rect x="468.74" y="238.5" width="23.76" height="1.29" fill="rgb(24,103,54)"/>
<rect x="304.5" y="239.49" width="23.76" height="1.29" fill="rgb(230,36,45)"/>
<rect x="327.96" y="239.49" width="23.76" height="1.29" fill="rgb(36,18,16)"/>
<rect x="351.43" y="239.49" width="23.76" height="1.29" fill="rgb(36,18,16)"/>
<rect x="374.89" y="239.49" width="23.76" height="1.29" fill="rgb(36,18,16)"/>
<rect x="398.35" y="239.49" width="23.76" height="1.29" fill="rgb(29,63,37)"/>
<rect x="421.81" y="239.49" width="23.76" height="1.29" fill="rgb(22,110,57)"/>
<rect x="445.27" y="239.49" width="23.76" height="1.29" fill="rgb(156,27,33)"/>
<rect x="468.74" y="239.49" width="23.76" height="1.29" fill="rgb(18,121,62)"/>
<rect x="304.5" y="240.48" width="23.76" height="1.29" fill="rgb(230,36,45)"/>
<rect x="327.96" y="240.48" width="23.76" height="1.29" fill="rgb(31,17,16)"/>
<rect x="351.43" y="240.48" width="23.76" height="1.29" fill="rgb(41,18,17)"/>
<rect x="374.89" y="240.48" width="23.76" height="1.29" fill="rgb(22,20,16)"/>
<rect x="398.35" y="240.48" width="23.76" height="1.29" fill="rgb(27,84,46)"/>
<rect x="421.81" y="240.48" width="23.76" height="1.29" fill="rgb(15,126,64)"/>
<rect x="445.27" y="240.48" width="23.76" height="1.29" fill="rgb(160,28,33)"/>
<rect x="468.74" y="240.48" width="23.76" height="1.29" fill="rgb(25,98,52)"/>
<rect x="304.5" y="241.47" width="23.76" height="1.29" fill="rgb(230,36,45)"/>
<rect x="327.96" y="241.47" width="23.76" height="1.29" fill="rgb(28,17,16)"/>
<rect x="351.43" y="241.47" width="23.76" height="1.29" fill="rgb(43,18,17)"/>
<rect x="374.89" y="241.47" width="23.76" height="1.29" fill="rgb(41,18,17)"/>
<rect x="398.35" y="241.47" width="23.76" height="1.29" fill="rgb(30,70,40)"/>
<rect x="421.81" y="241.47" width="23.76" height="1.29" fill="rgb(18,120,61)"/>
<rect x="445.27" y="241.47" width="23.76" height="1.29" fill="rgb(133,25,29)"/>
<rect x="468.74" y="241.47" width="23.76" height="1.29" fill="rgb(20,116,59)"/>
<rect x="304.5" y="242.46" width="23.76" height="1.29" fill="rgb(69,19,20)"/>
<rect x="327.96" y="242.46" width="23.76" height="1.29" fill="rgb(77,19,21)"/>
<rect x="351.43" y="242.46" width="23.76" height="1.29" fill="rgb(154,27,32)"/>
<rect x="374.89" y="242.46" width="23.76" height="1.29" fill="rgb(109,22,25)"/>
<rect x="398.35" y="242.46" width="23.76" height="1.29" fill="rgb(7,149,73)"/>
<rect x="421.81" y="242.46" width="23.76" height="1.29" fill="rgb(22,112,58)"/>
<rect x="445.27" y="242.46" width="23.76" height="1.29" fill="rgb(15,126,64)"/>
<rect x="468.74" y="242.46" width="23.76" height="1.29" fill="rgb(27,87,47)"/>
<rect x="304.5" y="243.45" width="23.76" height="1.29" fill="rgb(101,21,24)"/>
<rect x="327.96" y="243.45" width="23.76" height="1.29" fill="rgb(86,20,22)"/>
<rect x="351.43" y="243.45" width="23.76" height="1.29" fill="rgb(167,29,35)"/>
<rect x="374.89" y="243.45" width="23.76" height="1.29" fill="rgb(78,20,21)"/>
<rect x="398.35" y="243.45" width="23.76" height="1.29" fill="rgb(7,150,73)"/>
<rect x="421.81" y="243.45" width="23.76" height="1.29" fill="rgb(20,117,60)"/>
<rect x="445.27" y="243.45" width="23.76" height="1.29" fill="rgb(22,111,57)"/>
<rect x="468.74" y="243.45" width="23.76" height="1.29" fill="rgb(28,54,33)"/>
<rect x="304.5" y="244.44" width="23.76" height="1.29" fill="rgb(112,23,26)"/>
<rect x="327.96" y="244.44" width="23.76" height="1.29" fill="rgb(80,20,21)"/>
<rect x="351.43" y="244.44" width="23.76" height="1.29" fill="rgb(140,26,30)"/>
<rect x="374.89" y="244.44" width="23.76" height="1.29" fill="rgb(55,19,19)"/>
<rect x="398.35" y="244.44" width="23.76" height="1.29" fill="rgb(9,140,69)"/>
<rect x="421.81" y="244.44" width="23.76" height="1.29" fill="rgb(18,121,62)"/>
<rect x="445.27" y="244.44" width="23.76" height="1.29" fill="rgb(17,123,62)"/>
<rect x="468.74" y="244.44" width="23.76" height="1.29" fill="rgb(26,90,49)"/>
<rect x="304.5" y="245.43" width="23.76" height="1.29" fill="rgb(55,18,18)"/>
<rect x="327.96" y="245.43" width="23.76" height="1.29" fill="rgb(93,21,23)"/>
<rect x="351.43" y="245.43" width="23.76" height="1.29" fill="rgb(121,24,27)"/>
<rect x="374.89" y="245.43" width="23.76" height="1.29" fill="rgb(111,23,26)"/>
<rect x="398.35" y="245.43" width="23.76" height="1.29" fill="rgb(7,149,73)"/>
<rect x="421.81" y="245.43" width="23.76" height="1.29" fill="rgb(24,100,53)"/>
<rect x="445.27" y="245.43" width="23.76" height="1.29" fill="rgb(17,124,63)"/>
<rect x="468.74" y="245.43" width="23.76" height="1.29" fill="rgb(26,90,49)"/>
<rect x="304.5" y="246.42" width="23.76" height="1.29" fill="rgb(39,18,17)"/>
<rect x="327.96" y="246.42" width="23.76" height="1.29" fill="rgb(64,19,19)"/>
<rect x="351.43" y="246.42" width="23.76" height="1.29" fill="rgb(97,21,23)"/>
<rect x="374.89" y="246.42" width="23.76" height="1.29" fill="rgb(61,19,19)"/>
<rect x="398.35" y="246.42" width="23.76" height="1.29" fill="rgb(7,149,73)"/>
<rect x="421.81" y="246.42" width="23.76" height="1.29" fill="rgb(28,60,35)"/>
<rect x="445.27" y="246.42" width="23.76" height="1.29" fill="rgb(23,106,55)"/>
<rect x="468.74" y="246.42" width="23.76" height="1.29" fill="rgb(28,56,33)"/>
<rect x="304.5" y="247.41" width="23.76" height="1.29" fill="rgb(39,18,17)"/>
<rect x="327.96" y="247.41" width="23.76" height="1.29" fill="rgb(55,18,18)"/>
<rect x="351.43" y="247.41" width="23.76" height="1.29" fill="rgb(90,20,22)"/>
<rect x="374.89" y="247.41" width="23.76" height="1.29" fill="rgb(95,21,23)"/>
<rect x="398.35" y="247.41" width="23.76" height="1.29" fill="rgb(8,143,71)"/>
<rect x="421.81" y="247.41" width="23.76" height="1.29" fill="rgb(28,54,33)"/>
<rect x="445.27" y="247.41" width="23.76" height="1.29" fill="rgb(18,120,61)"/>
<rect x="468.74" y="247.41" width="23.76" height="1.29" fill="rgb(28,54,33)"/>
<rect x="304.5" y="248.4" width="23.76" height="1.29" fill="rgb(39,18,17)"/>
<rect x="327.96" y="248.4" width="23.76" height="1.29" fill="rgb(55,18,18)"/>
<rect x="351.43" y="248.4" width="23.76" height="1.29" fill="rgb(55,18,18)"/>
<rect x="374.89" y="248.4" width="23.76" height="1.29" fill="rgb(91,20,23)"/>
<rect x="398.35" y="248.4" width="23.76" height="1.29" fill="rgb(11,135,67)"/>
<rect x="421.81" y="248.4" width="23.76" height="1.29" fill="rgb(27,88,48)"/>
<rect x="445.27" y="248.4" width="23.76" height="1.29" fill="rgb(19,119,61)"/>
<rect x="468.74" y="248.4" width="23.76" height="1.29" fill="rgb(29,62,36)"/>
<rect x="304.5" y="249.39" width="23.76" height="1.29" fill="rgb(22,18,15)"/>
<rect x="327.96" y="249.39" width="23.76" height="1.29" fill="rgb(105,22,25)"/>
<rect x="351.43" y="249.39" width="23.76" height="1.29" fill="rgb(80,20,21)"/>
<rect x="374.89" y="249.39" width="23.76" height="1.29" fill="rgb(55,18,18)"/>
<rect x="398.35" y="249.39" width="23.76" height="1.29" fill="rgb(7,145,71)"/>
<rect x="421.81" y="249.39" width="23.76" height="1.29" fill="rgb(30,69,40)"/>
<rect x="445.27" y="249.39" width="23.76" height="1.29" fill="rgb(21,115,59)"/>
<rect x="468.74" y="249.39" width="23.76" height="1.29" fill="rgb(29,64,37)"/>
<rect x="304.5" y="250.38" width="23.76" height="1.29" fill="rgb(27,86,47)"/>
<rect x="327.96" y="250.38" width="23.76" height="1.29" fill="rgb(161,28,34)"/>
<rect x="351.43" y="250.38" width="23.76" height="1.29" fill="rgb(27,17,16)"/>
<rect x="374.89" y="250.38" width="23.76" height="1.29" fill="rgb(201,32,40)"/>
<rect x="398.35" y="250.38" width="23.76" height="1.29" fill="rgb(23,109,57)"/>
<rect x="421.81" y="250.38" width="23.76" height="1.29" fill="rgb(29,75,42)"/>
<rect x="445.27" y="250.38" width="23.76" height="1.29" fill="rgb(29,76,43)"/>
<rect x="468.74" y="250.38" width="23.76" height="1.29" fill="rgb(28,59,35)"/>
<rect x="304.5" y="251.37" width="23.76" height="1.29" fill="rgb(28,54,33)"/>
<rect x="327.96" y="251.37" width="23.76" height="1.29" fill="rgb(161,28,33)"/>
<rect x="351.43" y="251.37" width="23.76" height="1.29" fill="rgb(34,18,16)"/>
<rect x="374.89" y="251.37" width="23.76" height="1.29" fill="rgb(185,30,38)"/>
<rect x="398.35" y="251.37" width="23.76" height="1.29" fill="rgb(16,125,63)"/>
<rect x="421.81" y="251.37" width="23.76" height="1.29" fill="rgb(28,54,33)"/>
<rect x="445.27" y="251.37" width="23.76" height="1.29" fill="rgb(29,63,37)"/>
<rect x="468.74" y="251.37" width="23.76" height="1.29" fill="rgb(28,57,34)"/>
<rect x="304.5" y="252.36" width="23.76" height="1.29" fill="rgb(28,78,44)"/>
<rect x="327.96" y="252.36" width="23.76" height="1.29" fill="rgb(152,27,32)"/>
<rect x="351.43" y="252.36" width="23.76" height="1.29" fill="rgb(48,18,18)"/>
<rect x="374.89" y="252.36" width="23.76" height="1.29" fill="rgb(207,33,41)"/>
<rect x="398.35" y="252.36" width="23.76" height="1.29" fill="rgb(22,110,57)"/>
<rect x="421.81" y="252.36" width="23.76" height="1.29" fill="rgb(28,79,44)"/>
<rect x="445.27" y="252.36" width="23.76" height="1.29" fill="rgb(29,75,42)"/>
<rect x="468.74" y="252.36" width="23.76" height="1.29" fill="rgb(28,54,33)"/>
<rect x="304.5" y="253.35" width="23.76" height="1.29" fill="rgb(29,77,43)"/>
<rect x="327.96" y="253.35" width="23.76" height="1.29" fill="rgb(156,27,33)"/>
<rect x="351.43" y="253.35" width="23.76" height="1.29" fill="rgb(35,18,16)"/>
<rect x="374.89" y="253.35" width="23.76" height="1.29" fill="rgb(209,33,41)"/>
<rect x="398.35" y="253.35" width="23.76" height="1.29" fill="rgb(24,102,54)"/>
<rect x="421.81" y="253.35" width="23.76" height="1.29" fill="rgb(28,80,44)"/>
<rect x="445.27" y="253.35" width="23.76" height="1.29" fill="rgb(26,91,49)"/>
<rect x="468.74" y="253.35" width="23.76" height="1.29" fill="rgb(28,81,45)"/>
<rect x="304.5" y="254.34" width="23.76" height="1.29" fill="rgb(76,19,21)"/>
<rect x="327.96" y="254.34" width="23.76" height="1.29" fill="rgb(87,20,22)"/>
<rect x="351.43" y="254.34" width="23.76" height="1.29" fill="rgb(102,22,24)"/>
<rect x="374.89" y="254.34" width="23.76" height="1.29" fill="rgb(166,28,34)"/>
<rect x="398.35" y="254.34" width="23.76" height="1.29" fill="rgb(7,149,73)"/>
<rect x="421.81" y="254.34" width="23.76" height="1.29" fill="rgb(23,17,15)"/>
<rect x="445.27" y="254.34" width="23.76" height="1.29" fill="rgb(28,58,34)"/>
<rect x="468.74" y="254.34" width="23.76" height="1.29" fill="rgb(24,100,53)"/>
<rect x="304.5" y="255.33" width="23.76" height="1.29" fill="rgb(86,20,22)"/>
<rect x="327.96" y="255.33" width="23.76" height="1.29" fill="rgb(66,19,20)"/>
<rect x="351.43" y="255.33" width="23.76" height="1.29" fill="rgb(104,22,25)"/>
<rect x="374.89" y="255.33" width="23.76" height="1.29" fill="rgb(162,28,34)"/>
<rect x="398.35" y="255.33" width="23.76" height="1.29" fill="rgb(10,139,69)"/>
<rect x="421.81" y="255.33" width="23.76" height="1.29" fill="rgb(26,17,15)"/>
<rect x="445.27" y="255.33" width="23.76" height="1.29" fill="rgb(28,78,43)"/>
<rect x="468.74" y="255.33" width="23.76" height="1.29" fill="rgb(16,125,63)"/>
<rect x="304.5" y="256.32" width="23.76" height="1.29" fill="rgb(85,20,22)"/>
<rect x="327.96" y="256.32" width="23.76" height="1.29" fill="rgb(101,21,24)"/>
<rect x="351.43" y="256.32" width="23.76" height="1.29" fill="rgb(62,19,19)"/>
<rect x="374.89" y="256.32" width="23.76" height="1.29" fill="rgb(159,28,33)"/>
<rect x="398.35" y="256.32" width="23.76" height="1.29" fill="rgb(13,132,66)"/>
<rect x="421.81" y="256.32" width="23.76" height="1.29" fill="rgb(24,32,22)"/>
<rect x="445.27" y="256.32" width="23.76" height="1.29" fill="rgb(30,68,39)"/>
<rect x="468.74" y="256.32" width="23.76" height="1.29" fill="rgb(23,107,56)"/>
<rect x="304.5" y="257.31" width="23.76" height="1.29" fill="rgb(79,20,21)"/>
<rect x="327.96" y="257.31" width="23.76" height="1.29" fill="rgb(62,19,19)"/>
<rect x="351.43" y="257.31" width="23.76" height="1.29" fill="rgb(65,19,20)"/>
<rect x="374.89" y="257.31" width="23.76" height="1.29" fill="rgb(159,28,33)"/>
<rect x="398.35" y="257.31" width="23.76" height="1.29" fill="rgb(11,136,67)"/>
<rect x="421.81" y="257.31" width="23.76" height="1.29" fill="rgb(23,26,19)"/>
<rect x="445.27" y="257.31" width="23.76" height="1.29" fill="rgb(27,88,48)"/>
<rect x="468.74" y="257.31" width="23.76" height="1.29" fill="rgb(24,103,54)"/>
<rect x="304.5" y="258.3" width="23.76" height="1.29" fill="rgb(99,21,24)"/>
<rect x="327.96" y="258.3" width="23.76" height="1.29" fill="rgb(64,19,19)"/>
<rect x="351.43" y="258.3" width="23.76" height="1.29" fill="rgb(87,20,22)"/>
<rect x="374.89" y="258.3" width="23.76" height="1.29" fill="rgb(209,33,41)"/>
<rect x="398.35" y="258.3" width="23.76" height="1.29" fill="rgb(24,100,53)"/>
<rect x="421.81" y="258.3" width="23.76" height="1.29" fill="rgb(30,71,41)"/>
<rect x="445.27" y="258.3" width="23.76" height="1.29" fill="rgb(29,73,41)"/>
<rect x="468.74" y="258.3" width="23.76" height="1.29" fill="rgb(22,111,57)"/>
<rect x="304.5" y="259.29" width="23.76" height="1.29" fill="rgb(61,19,19)"/>
<rect x="327.96" y="259.29" width="23.76" height="1.29" fill="rgb(61,19,19)"/>
<rect x="351.43" y="259.29" width="23.76" height="1.29" fill="rgb(60,19,19)"/>
<rect x="374.89" y="259.29" width="23.76" height="1.29" fill="rgb(203,32,41)"/>
<rect x="398.35" y="259.29" width="23.76" height="1.29" fill="rgb(20,117,60)"/>
<rect x="421.81" y="259.29" width="23.76" height="1.29" fill="rgb(30,70,40)"/>
<rect x="445.27" y="259.29" width="23.76" height="1.29" fill="rgb(29,76,42)"/>
<rect x="468.74" y="259.29" width="23.76" height="1.29" fill="rgb(22,113,58)"/>
<rect x="304.5" y="260.27" width="23.76" height="1.29" fill="rgb(58,19,19)"/>
<rect x="327.96" y="260.27" width="23.76" height="1.29" fill="rgb(55,18,18)"/>
<rect x="351.43" y="260.27" width="23.76" height="1.29" fill="rgb(113,23,26)"/>
<rect x="374.89" y="260.27" width="23.76" height="1.29" fill="rgb(189,31,38)"/>
<rect x="398.35" y="260.27" width="23.76" height="1.29" fill="rgb(16,124,63)"/>
<rect x="421.81" y="260.27" width="23.76" height="1.29" fill="rgb(29,66,38)"/>
<rect x="445.27" y="260.27" width="23.76" height="1.29" fill="rgb(28,59,35)"/>
<rect x="468.74" y="260.27" width="23.76" height="1.29" fill="rgb(17,123,62)"/>
<rect x="304.5" y="261.26" width="23.76" height="1.29" fill="rgb(88,20,22)"/>
<rect x="327.96" y="261.26" width="23.76" height="1.29" fill="rgb(71,19,20)"/>
<rect x="351.43" y="261.26" width="23.76" height="1.29" fill="rgb(83,20,21)"/>
<rect x="374.89" y="261.26" width="23.76" height="1.29" fill="rgb(172,29,35)"/>
<rect x="398.35" y="261.26" width="23.76" height="1.29" fill="rgb(15,126,64)"/>
<rect x="421.81" y="261.26" width="23.76" height="1.29" fill="rgb(28,54,33)"/>
<rect x="445.27" y="261.26" width="23.76" height="1.29" fill="rgb(28,55,33)"/>
<rect x="468.74" y="261.26" width="23.76" height="1.29" fill="rgb(21,114,59)"/>
<rect x="304.5" y="262.25" width="23.76" height="1.29" fill="rgb(34,18,16)"/>
<rect x="327.96" y="262.25" width="23.76" height="1.29" fill="rgb(184,30,37)"/>
<rect x="351.43" y="262.25" width="23.76" height="1.29" fill="rgb(99,21,24)"/>
<rect x="374.89" y="262.25" width="23.76" height="1.29" fill="rgb(77,19,21)"/>
<rect x="398.35" y="262.25" width="23.76" height="1.29" fill="rgb(28,54,33)"/>
<rect x="421.81" y="262.25" width="23.76" height="1.29" fill="rgb(28,60,35)"/>
<rect x="445.27" y="262.25" width="23.76" height="1.29" fill="rgb(120,24,27)"/>
<rect x="468.74" y="262.25" width="23.76" height="1.29" fill="rgb(28,57,34)"/>
<rect x="304.5" y="263.24" width="23.76" height="1.29" fill="rgb(47,18,18)"/>
<rect x="327.96" y="263.24" width="23.76" height="1.29" fill="rgb(183,30,37)"/>
<rect x="351.43" y="263.24" width="23.76" height="1.29" fill="rgb(55,18,18)"/>
<rect x="374.89" y="263.24" width="23.76" height="1.29" fill="rgb(62,19,19)"/>
<rect x="398.35" y="263.24" width="23.76" height="1.29" fill="rgb(27,84,46)"/>
<rect x="421.81" y="263.24" width="23.76" height="1.29" fill="rgb(27,88,48)"/>
<rect x="445.27" y="263.24" width="23.76" height="1.29" fill="rgb(25,37,24)"/>
<rect x="468.74" y="263.24" width="23.76" height="1.29" fill="rgb(30,70,40)"/>
<rect x="304.5" y="264.23" width="23.76" height="1.29" fill="rgb(44,18,17)"/>
<rect x="327.96" y="264.23" width="23.76" height="1.29" fill="rgb(193,31,39)"/>
<rect x="351.43" y="264.23" width="23.76" height="1.29" fill="rgb(110,22,25)"/>
<rect x="374.89" y="264.23" width="23.76" height="1.29" fill="rgb(108,22,25)"/>
<rect x="398.35" y="264.23" width="23.76" height="1.29" fill="rgb(26,89,48)"/>
<rect x="421.81" y="264.23" width="23.76" height="1.29" fill="rgb(30,68,39)"/>
<rect x="445.27" y="264.23" width="23.76" height="1.29" fill="rgb(24,28,20)"/>
<rect x="468.74" y="264.23" width="23.76" height="1.29" fill="rgb(27,86,47)"/>
<rect x="304.5" y="265.22" width="23.76" height="1.29" fill="rgb(47,18,18)"/>
<rect x="327.96" y="265.22" width="23.76" height="1.29" fill="rgb(184,30,37)"/>
<rect x="351.43" y="265.22" width="23.76" height="1.29" fill="rgb(86,20,22)"/>
<rect x="374.89" y="265.22" width="23.76" height="1.29" fill="rgb(91,20,22)"/>
<rect x="398.35" y="265.22" width="23.76" height="1.29" fill="rgb(28,54,33)"/>
<rect x="421.81" y="265.22" width="23.76" height="1.29" fill="rgb(29,65,37)"/>
<rect x="445.27" y="265.22" width="23.76" height="1.29" fill="rgb(24,28,20)"/>
<rect x="468.74" y="265.22" width="23.76" height="1.29" fill="rgb(29,74,42)"/>
<rect x="304.5" y="266.21" width="23.76" height="1.29" fill="rgb(59,19,19)"/>
<rect x="327.96" y="266.21" width="23.76" height="1.29" fill="rgb(170,29,35)"/>
<rect x="351.43" y="266.21" width="23.76" height="1.29" fill="rgb(113,23,26)"/>
<rect x="374.89" y="266.21" width="23.76" height="1.29" fill="rgb(128,24,28)"/>
<rect x="398.35" y="266.21" width="23.76" height="1.29" fill="rgb(7,149,73)"/>
<rect x="421.81" y="266.21" width="23.76" height="1.29" fill="rgb(7,146,72)"/>
<rect x="445.27" y="266.21" width="23.76" height="1.29" fill="rgb(24,29,21)"/>
<rect x="468.74" y="266.21" width="23.76" height="1.29" fill="rgb(28,54,33)"/>
<rect x="304.5" y="267.2" width="23.76" height="1.29" fill="rgb(107,22,25)"/>
<rect x="327.96" y="267.2" width="23.76" height="1.29" fill="rgb(163,28,34)"/>
<rect x="351.43" y="267.2" width="23.76" height="1.29" fill="rgb(55,18,18)"/>
<rect x="374.89" y="267.2" width="23.76" height="1.29" fill="rgb(161,28,33)"/>
<rect x="398.35" y="267.2" width="23.76" height="1.29" fill="rgb(10,138,68)"/>
<rect x="421.81" y="267.2" width="23.76" height="1.29" fill="rgb(9,140,69)"/>
<rect x="445.27" y="267.2" width="23.76" height="1.29" fill="rgb(28,17,16)"/>
<rect x="468.74" y="267.2" width="23.76" height="1.29" fill="rgb(26,89,48)"/>
<rect x="304.5" y="268.19" width="23.76" height="1.29" fill="rgb(58,19,19)"/>
<rect x="327.96" y="268.19" width="23.76" height="1.29" fill="rgb(159,28,33)"/>
<rect x="351.43" y="268.19" width="23.76" height="1.29" fill="rgb(110,22,25)"/>
<rect x="374.89" y="268.19" width="23.76" height="1.29" fill="rgb(156,27,33)"/>
<rect x="398.35" y="268.19" width="23.76" height="1.29" fill="rgb(7,146,71)"/>
<rect x="421.81" y="268.19" width="23.76" height="1.29" fill="rgb(8,141,70)"/>
<rect x="445.27" y="268.19" width="23.76" height="1.29" fill="rgb(22,18,16)"/>
<rect x="468.74" y="268.19" width="23.76" height="1.29" fill="rgb(27,87,47)"/>
<rect x="304.5" y="269.18" width="23.76" height="1.29" fill="rgb(70,19,20)"/>
<rect x="327.96" y="269.18" width="23.76" height="1.29" fill="rgb(130,25,29)"/>
<rect x="351.43" y="269.18" width="23.76" height="1.29" fill="rgb(57,19,19)"/>
<rect x="374.89" y="269.18" width="23.76" height="1.29" fill="rgb(144,26,31)"/>
<rect x="398.35" y="269.18" width="23.76" height="1.29" fill="rgb(7,148,72)"/>
<rect x="421.81" y="269.18" width="23.76" height="1.29" fill="rgb(7,147,72)"/>
<rect x="445.27" y="269.18" width="23.76" height="1.29" fill="rgb(25,34,23)"/>
<rect x="468.74" y="269.18" width="23.76" height="1.29" fill="rgb(29,64,37)"/>
<rect x="304.5" y="270.17" width="23.76" height="1.29" fill="rgb(23,22,17)"/>
<rect x="327.96" y="270.17" width="23.76" height="1.29" fill="rgb(158,28,33)"/>
<rect x="351.43" y="270.17" width="23.76" height="1.29" fill="rgb(61,19,19)"/>
<rect x="374.89" y="270.17" width="23.76" height="1.29" fill="rgb(55,18,18)"/>
<rect x="398.35" y="270.17" width="23.76" height="1.29" fill="rgb(13,132,66)"/>
<rect x="421.81" y="270.17" width="23.76" height="1.29" fill="rgb(7,147,72)"/>
<rect x="445.27" y="270.17" width="23.76" height="1.29" fill="rgb(26,17,15)"/>
<rect x="468.74" y="270.17" width="23.76" height="1.29" fill="rgb(28,55,33)"/>
<rect x="304.5" y="271.16" width="23.76" height="1.29" fill="rgb(45,18,17)"/>
<rect x="327.96" y="271.16" width="23.76" height="1.29" fill="rgb(123,24,27)"/>
<rect x="351.43" y="271.16" width="23.76" height="1.29" fill="rgb(78,20,21)"/>
<rect x="374.89" y="271.16" width="23.76" height="1.29" fill="rgb(55,18,18)"/>
<rect x="398.35" y="271.16" width="23.76" height="1.29" fill="rgb(13,132,66)"/>
<rect x="421.81" y="271.16" width="23.76" height="1.29" fill="rgb(12,134,67)"/>
<rect x="445.27" y="271.16" width="23.76" height="1.29" fill="rgb(23,22,17)"/>
<rect x="468.74" y="271.16" width="23.76" height="1.29" fill="rgb(29,74,42)"/>
<rect x="304.5" y="272.15" width="23.76" height="1.29" fill="rgb(27,17,15)"/>
<rect x="327.96" y="272.15" width="23.76" height="1.29" fill="rgb(163,28,34)"/>
<rect x="351.43" y="272.15" width="23.76" height="1.29" fill="rgb(80,20,21)"/>
<rect x="374.89" y="272.15" width="23.76" height="1.29" fill="rgb(90,20,22)"/>
<rect x="398.35" y="272.15" width="23.76" height="1.29" fill="rgb(7,148,72)"/>
<rect x="421.81" y="272.15" width="23.76" height="1.29" fill="rgb(7,147,72)"/>
<rect x="445.27" y="272.15" width="23.76" height="1.29" fill="rgb(25,37,24)"/>
<rect x="468.74" y="272.15" width="23.76" height="1.29" fill="rgb(29,62,36)"/>
<rect x="304.5" y="273.14" width="23.76" height="1.29" fill="rgb(34,18,16)"/>
<rect x="327.96" y="273.14" width="23.76" height="1.29" fill="rgb(123,24,27)"/>
<rect x="351.43" y="273.14" width="23.76" height="1.29" fill="rgb(105,22,25)"/>
<rect x="374.89" y="273.14" width="23.76" height="1.29" fill="rgb(66,19,20)"/>
<rect x="398.35" y="273.14" width="23.76" height="1.29" fill="rgb(8,144,71)"/>
<rect x="421.81" y="273.14" width="23.76" height="1.29" fill="rgb(7,148,72)"/>
<rect x="445.27" y="273.14" width="23.76" height="1.29" fill="rgb(24,31,22)"/>
<rect x="468.74" y="273.14" width="23.76" height="1.29" fill="rgb(28,56,34)"/>
<rect x="304.5" y="274.13" width="23.76" height="1.29" fill="rgb(26,17,15)"/>
<rect x="327.96" y="274.13" width="23.76" height="1.29" fill="rgb(124,24,28)"/>
<rect x="351.43" y="274.13" width="23.76" height="1.29" fill="rgb(145,26,31)"/>
<rect x="374.89" y="274.13" width="23.76" height="1.29" fill="rgb(134,25,29)"/>
<rect x="398.35" y="274.13" width="23.76" height="1.29" fill="rgb(12,133,66)"/>
<rect x="421.81" y="274.13" width="23.76" height="1.29" fill="rgb(16,124,63)"/>
<rect x="445.27" y="274.13" width="23.76" height="1.29" fill="rgb(28,54,33)"/>
<rect x="468.74" y="274.13" width="23.76" height="1.29" fill="rgb(26,89,48)"/>
<rect x="304.5" y="275.12" width="23.76" height="1.29" fill="rgb(45,18,17)"/>
<rect x="327.96" y="275.12" width="23.76" height="1.29" fill="rgb(155,27,33)"/>
<rect x="351.43" y="275.12" width="23.76" height="1.29" fill="rgb(127,24,28)"/>
<rect x="374.89" y="275.12" width="23.76" height="1.29" fill="rgb(144,26,31)"/>
<rect x="398.35" y="275.12" width="23.76" height="1.29" fill="rgb(7,146,71)"/>
<rect x="421.81" y="275.12" width="23.76" height="1.29" fill="rgb(18,120,61)"/>
<rect x="445.27" y="275.12" width="23.76" height="1.29" fill="rgb(27,83,46)"/>
<rect x="468.74" y="275.12" width="23.76" height="1.29" fill="rgb(29,77,43)"/>
<rect x="304.5" y="276.11" width="23.76" height="1.29" fill="rgb(48,18,18)"/>
<rect x="327.96" y="276.11" width="23.76" height="1.29" fill="rgb(171,29,35)"/>
<rect x="351.43" y="276.11" width="23.76" height="1.29" fill="rgb(168,29,35)"/>
<rect x="374.89" y="276.11" width="23.76" height="1.29" fill="rgb(120,23,27)"/>
<rect x="398.35" y="276.11" width="23.76" height="1.29" fill="rgb(7,146,71)"/>
<rect x="421.81" y="276.11" width="23.76" height="1.29" fill="rgb(24,99,52)"/>
<rect x="445.27" y="276.11" width="23.76" height="1.29" fill="rgb(26,89,48)"/>
<rect x="468.74" y="276.11" width="23.76" height="1.29" fill="rgb(29,62,36)"/>
<rect x="304.5" y="277.1" width="23.76" height="1.29" fill="rgb(25,17,15)"/>
<rect x="327.96" y="277.1" width="23.76" height="1.29" fill="rgb(170,29,35)"/>
<rect x="351.43" y="277.1" width="23.76" height="1.29" fill="rgb(115,23,26)"/>
<rect x="374.89" y="277.1" width="23.76" height="1.29" fill="rgb(162,28,34)"/>
<rect x="398.35" y="277.1" width="23.76" height="1.29" fill="rgb(7,145,71)"/>
<rect x="421.81" y="277.1" width="23.76" height="1.29" fill="rgb(17,123,62)"/>
<rect x="445.27" y="277.1" width="23.76" height="1.29" fill="rgb(26,91,49)"/>
<rect x="468.74" y="277.1" width="23.76" height="1.29" fill="rgb(28,57,34)"/>
<rect x="304.5" y="278.09" width="23.76" height="1.29" fill="rgb(33,17,16)"/>
<rect x="327.96" y="278.09" width="23.76" height="1.29" fill="rgb(125,24,28)"/>
<rect x="351.43" y="278.09" width="23.76" height="1.29" fill="rgb(77,20,21)"/>
<rect x="374.89" y="278.09" width="23.76" height="1.29" fill="rgb(108,22,25)"/>
<rect x="398.35" y="278.09" width="23.76" height="1.29" fill="rgb(7,147,72)"/>
<rect x="421.81" y="278.09" width="23.76" height="1.29" fill="rgb(8,142,70)"/>
<rect x="445.27" y="278.09" width="23.76" height="1.29" fill="rgb(25,35,23)"/>
<rect x="468.74" y="278.09" width="23.76" height="1.29" fill="rgb(27,84,46)"/>
<rect x="304.5" y="279.08" width="23.76" height="1.29" fill="rgb(41,18,17)"/>
<rect x="327.96" y="279.08" width="23.76" height="1.29" fill="rgb(157,28,33)"/>
<rect x="351.43" y="279.08" width="23.76" height="1.29" fill="rgb(61,19,19)"/>
<rect x="374.89" y="279.08" width="23.76" height="1.29" fill="rgb(55,18,18)"/>
<rect x="398.35" y="279.08" width="23.76" height="1.29" fill="rgb(7,149,73)"/>
<rect x="421.81" y="279.08" width="23.76" height="1.29" fill="rgb(9,141,69)"/>
<rect x="445.27" y="279.08" width="23.76" height="1.29" fill="rgb(88,20,22)"/>
<rect x="468.74" y="279.08" width="23.76" height="1.29" fill="rgb(30,72,41)"/>
<rect x="304.5" y="280.07" width="23.76" height="1.29" fill="rgb(24,17,15)"/>
<rect x="327.96" y="280.07" width="23.76" height="1.29" fill="rgb(127,24,28)"/>
<rect x="351.43" y="280.07" width="23.76" height="1.29" fill="rgb(89,20,22)"/>
<rect x="374.89" y="280.07" width="23.76" height="1.29" fill="rgb(95,21,23)"/>
<rect x="398.35" y="280.07" width="23.76" height="1.29" fill="rgb(11,135,67)"/>
<rect x="421.81" y="280.07" width="23.76" height="1.29" fill="rgb(8,141,70)"/>
<rect x="445.27" y="280.07" width="23.76" height="1.29" fill="rgb(88,20,22)"/>
<rect x="468.74" y="280.07" width="23.76" height="1.29" fill="rgb(27,83,46)"/>
<rect x="304.5" y="281.06" width="23.76" height="1.29" fill="rgb(23,21,17)"/>
<rect x="327.96" y="281.06" width="23.76" height="1.29" fill="rgb(158,28,33)"/>
<rect x="351.43" y="281.06" width="23.76" height="1.29" fill="rgb(75,19,21)"/>
<rect x="374.89" y="281.06" width="23.76" height="1.29" fill="rgb(96,21,23)"/>
<rect x="398.35" y="281.06" width="23.76" height="1.29" fill="rgb(7,149,73)"/>
<rect x="421.81" y="281.06" width="23.76" height="1.29" fill="rgb(11,135,67)"/>
<rect x="445.27" y="281.06" width="23.76" height="1.29" fill="rgb(24,29,21)"/>
<rect x="468.74" y="281.06" width="23.76" height="1.29" fill="rgb(28,56,34)"/>
<rect x="304.5" y="282.05" width="23.76" height="1.29" fill="rgb(105,22,25)"/>
<rect x="327.96" y="282.05" width="23.76" height="1.29" fill="rgb(195,31,39)"/>
<rect x="351.43" y="282.05" width="23.76" height="1.29" fill="rgb(55,18,18)"/>
<rect x="374.89" y="282.05" width="23.76" height="1.29" fill="rgb(45,18,17)"/>
<rect x="398.35" y="282.05" width="23.76" height="1.29" fill="rgb(21,114,59)"/>
<rect x="421.81" y="282.05" width="23.76" height="1.29" fill="rgb(12,133,67)"/>
<rect x="445.27" y="282.05" width="23.76" height="1.29" fill="rgb(24,31,22)"/>
<rect x="468.74" y="282.05" width="23.76" height="1.29" fill="rgb(27,84,46)"/>
<rect x="304.5" y="283.04" width="23.76" height="1.29" fill="rgb(103,22,24)"/>
<rect x="327.96" y="283.04" width="23.76" height="1.29" fill="rgb(189,31,38)"/>
<rect x="351.43" y="283.04" width="23.76" height="1.29" fill="rgb(59,19,19)"/>
<rect x="374.89" y="283.04" width="23.76" height="1.29" fill="rgb(28,17,16)"/>
<rect x="398.35" y="283.04" width="23.76" height="1.29" fill="rgb(22,111,57)"/>
<rect x="421.81" y="283.04" width="23.76" height="1.29" fill="rgb(7,150,73)"/>
<rect x="445.27" y="283.04" width="23.76" height="1.29" fill="rgb(23,24,19)"/>
<rect x="468.74" y="283.04" width="23.76" height="1.29" fill="rgb(29,74,42)"/>
<rect x="304.5" y="284.03" width="23.76" height="1.29" fill="rgb(82,20,21)"/>
<rect x="327.96" y="284.03" width="23.76" height="1.29" fill="rgb(177,30,36)"/>
<rect x="351.43" y="284.03" width="23.76" height="1.29" fill="rgb(95,21,23)"/>
<rect x="374.89" y="284.03" width="23.76" height="1.29" fill="rgb(42,18,17)"/>
<rect x="398.35" y="284.03" width="23.76" height="1.29" fill="rgb(24,100,53)"/>
<rect x="421.81" y="284.03" width="23.76" height="1.29" fill="rgb(7,145,71)"/>
<rect x="445.27" y="284.03" width="23.76" height="1.29" fill="rgb(22,19,16)"/>
<rect x="468.74" y="284.03" width="23.76" height="1.29" fill="rgb(29,77,43)"/>
<rect x="304.5" y="285.02" width="23.76" height="1.29" fill="rgb(98,21,24)"/>
<rect x="327.96" y="285.02" width="23.76" height="1.29" fill="rgb(174,29,36)"/>
<rect x="351.43" y="285.02" width="23.76" height="1.29" fill="rgb(105,22,25)"/>
<rect x="374.89" y="285.02" width="23.76" height="1.29" fill="rgb(47,18,18)"/>
<rect x="398.35" y="285.02" width="23.76" height="1.29" fill="rgb(21,114,59)"/>
<rect x="421.81" y="285.02" width="23.76" height="1.29" fill="rgb(8,143,70)"/>
<rect x="445.27" y="285.02" width="23.76" height="1.29" fill="rgb(23,24,18)"/>
<rect x="468.74" y="285.02" width="23.76" height="1.29" fill="rgb(30,71,40)"/>
<rect x="304.5" y="286.01" width="23.76" height="1.29" fill="rgb(115,23,26)"/>
<rect x="327.96" y="286.01" width="23.76" height="1.29" fill="rgb(211,33,42)"/>
<rect x="351.43" y="286.01" width="23.76" height="1.29" fill="rgb(63,19,19)"/>
<rect x="374.89" y="286.01" width="23.76" height="1.29" fill="rgb(22,17,15)"/>
<rect x="398.35" y="286.01" width="23.76" height="1.29" fill="rgb(16,124,63)"/>
<rect x="421.81" y="286.01" width="23.76" height="1.29" fill="rgb(18,120,61)"/>
<rect x="445.27" y="286.01" width="23.76" height="1.29" fill="rgb(23,17,15)"/>
<rect x="468.74" y="286.01" width="23.76" height="1.29" fill="rgb(15,126,64)"/>
<rect x="304.5" y="287" width="23.76" height="1.29" fill="rgb(120,23,27)"/>
<rect x="327.96" y="287" width="23.76" height="1.29" fill="rgb(203,32,40)"/>
<rect x="351.43" y="287" width="23.76" height="1.29" fill="rgb(61,19,19)"/>
<rect x="374.89" y="287" width="23.76" height="1.29" fill="rgb(23,22,17)"/>
<rect x="398.35" y="287" width="23.76" height="1.29" fill="rgb(22,110,57)"/>
<rect x="421.81" y="287" width="23.76" height="1.29" fill="rgb(22,111,58)"/>
<rect x="445.27" y="287" width="23.76" height="1.29" fill="rgb(23,24,18)"/>
<rect x="468.74" y="287" width="23.76" height="1.29" fill="rgb(23,106,56)"/>
<rect x="304.5" y="287.99" width="23.76" height="1.29" fill="rgb(120,24,27)"/>
<rect x="327.96" y="287.99" width="23.76" height="1.29" fill="rgb(208,33,41)"/>
<rect x="351.43" y="287.99" width="23.76" height="1.29" fill="rgb(95,21,23)"/>
<rect x="374.89" y="287.99" width="23.76" height="1.29" fill="rgb(23,21,17)"/>
<rect x="398.35" y="287.99" width="23.76" height="1.29" fill="rgb(17,124,63)"/>
<rect x="421.81" y="287.99" width="23.76" height="1.29" fill="rgb(21,114,59)"/>
<rect x="445.27" y="287.99" width="23.76" height="1.29" fill="rgb(23,25,19)"/>
<rect x="468.74" y="287.99" width="23.76" height="1.29" fill="rgb(19,119,61)"/>
<rect x="304.5" y="288.98" width="23.76" height="1.29" fill="rgb(121,24,27)"/>
<rect x="327.96" y="288.98" width="23.76" height="1.29" fill="rgb(191,31,38)"/>
<rect x="351.43" y="288.98" width="23.76" height="1.29" fill="rgb(57,19,19)"/>
<rect x="374.89" y="288.98" width="23.76" height="1.29" fill="rgb(35,18,16)"/>
<rect x="398.35" y="288.98" width="23.76" height="1.29" fill="rgb(24,100,53)"/>
<rect x="421.81" y="288.98" width="23.76" height="1.29" fill="rgb(17,123,62)"/>
<rect x="445.27" y="288.98" width="23.76" height="1.29" fill="rgb(23,23,18)"/>
<rect x="468.74" y="288.98" width="23.76" height="1.29" fill="rgb(23,105,55)"/>
<rect x="304.5" y="289.97" width="23.76" height="1.29" fill="rgb(124,24,28)"/>
<rect x="327.96" y="289.97" width="23.76" height="1.29" fill="rgb(163,28,34)"/>
<rect x="351.43" y="289.97" width="23.76" height="1.29" fill="rgb(46,18,18)"/>
<rect x="374.89" y="289.97" width="23.76" height="1.29" fill="rgb(74,19,21)"/>
<rect x="398.35" y="289.97" width="23.76" height="1.29" fill="rgb(29,75,42)"/>
<rect x="421.81" y="289.97" width="23.76" height="1.29" fill="rgb(12,134,67)"/>
<rect x="445.27" y="289.97" width="23.76" height="1.29" fill="rgb(30,71,40)"/>
<rect x="468.74" y="289.97" width="23.76" height="1.29" fill="rgb(20,116,60)"/>
<rect x="304.5" y="290.96" width="23.76" height="1.29" fill="rgb(168,29,35)"/>
<rect x="327.96" y="290.96" width="23.76" height="1.29" fill="rgb(160,28,33)"/>
<rect x="351.43" y="290.96" width="23.76" height="1.29" fill="rgb(27,17,15)"/>
<rect x="374.89" y="290.96" width="23.76" height="1.29" fill="rgb(64,19,19)"/>
<rect x="398.35" y="290.96" width="23.76" height="1.29" fill="rgb(28,78,44)"/>
<rect x="421.81" y="290.96" width="23.76" height="1.29" fill="rgb(8,144,71)"/>
<rect x="445.27" y="290.96" width="23.76" height="1.29" fill="rgb(28,54,33)"/>
<rect x="468.74" y="290.96" width="23.76" height="1.29" fill="rgb(24,103,54)"/>
<rect x="304.5" y="291.95" width="23.76" height="1.29" fill="rgb(167,29,35)"/>
<rect x="327.96" y="291.95" width="23.76" height="1.29" fill="rgb(162,28,34)"/>
<rect x="351.43" y="291.95" width="23.76" height="1.29" fill="rgb(43,18,17)"/>
<rect x="374.89" y="291.95" width="23.76" height="1.29" fill="rgb(55,18,18)"/>
<rect x="398.35" y="291.95" width="23.76" height="1.29" fill="rgb(30,71,41)"/>
<rect x="421.81" y="291.95" width="23.76" height="1.29" fill="rgb(13,131,66)"/>
<rect x="445.27" y="291.95" width="23.76" height="1.29" fill="rgb(28,54,33)"/>
<rect x="468.74" y="291.95" width="23.76" height="1.29" fill="rgb(18,120,61)"/>
<rect x="304.5" y="292.94" width="23.76" height="1.29" fill="rgb(141,26,30)"/>
<rect x="327.96" y="292.94" width="23.76" height="1.29" fill="rgb(154,27,32)"/>
<rect x="351.43" y="292.94" width="23.76" height="1.29" fill="rgb(27,17,16)"/>
<rect x="374.89" y="292.94" width="23.76" height="1.29" fill="rgb(83,20,22)"/>
<rect x="398.35" y="292.94" width="23.76" height="1.29" fill="rgb(26,88,48)"/>
<rect x="421.81" y="292.94" width="23.76" height="1.29" fill="rgb(8,144,71)"/>
<rect x="445.27" y="292.94" width="23.76" height="1.29" fill="rgb(30,72,41)"/>
<rect x="468.74" y="292.94" width="23.76" height="1.29" fill="rgb(15,126,64)"/>
<rect x="304.5" y="293.93" width="23.76" height="1.29" fill="rgb(58,19,19)"/>
<rect x="327.96" y="293.93" width="23.76" height="1.29" fill="rgb(170,29,35)"/>
<rect x="351.43" y="293.93" width="23.76" height="1.29" fill="rgb(28,59,35)"/>
<rect x="374.89" y="293.93" width="23.76" height="1.29" fill="rgb(168,29,35)"/>
<rect x="398.35" y="293.93" width="23.76" height="1.29" fill="rgb(29,66,38)"/>
<rect x="421.81" y="293.93" width="23.76" height="1.29" fill="rgb(24,102,54)"/>
<rect x="445.27" y="293.93" width="23.76" height="1.29" fill="rgb(28,54,33)"/>
<rect x="468.74" y="293.93" width="23.76" height="1.29" fill="rgb(24,100,53)"/>
<rect x="304.5" y="294.92" width="23.76" height="1.29" fill="rgb(55,18,18)"/>
<rect x="327.96" y="294.92" width="23.76" height="1.29" fill="rgb(154,27,32)"/>
<rect x="351.43" y="294.92" width="23.76" height="1.29" fill="rgb(28,81,45)"/>
<rect x="374.89" y="294.92" width="23.76" height="1.29" fill="rgb(156,27,33)"/>
<rect x="398.35" y="294.92" width="23.76" height="1.29" fill="rgb(28,81,45)"/>
<rect x="421.81" y="294.92" width="23.76" height="1.29" fill="rgb(22,112,58)"/>
<rect x="445.27" y="294.92" width="23.76" height="1.29" fill="rgb(28,54,33)"/>
<rect x="468.74" y="294.92" width="23.76" height="1.29" fill="rgb(22,110,57)"/>
<rect x="304.5" y="295.91" width="23.76" height="1.29" fill="rgb(65,19,20)"/>
<rect x="327.96" y="295.91" width="23.76" height="1.29" fill="rgb(147,26,31)"/>
<rect x="351.43" y="295.91" width="23.76" height="1.29" fill="rgb(29,75,42)"/>
<rect x="374.89" y="295.91" width="23.76" height="1.29" fill="rgb(169,29,35)"/>
<rect x="398.35" y="295.91" width="23.76" height="1.29" fill="rgb(28,80,44)"/>
<rect x="421.81" y="295.91" width="23.76" height="1.29" fill="rgb(19,119,61)"/>
<rect x="445.27" y="295.91" width="23.76" height="1.29" fill="rgb(29,66,38)"/>
<rect x="468.74" y="295.91" width="23.76" height="1.29" fill="rgb(17,124,63)"/>
<rect x="304.5" y="296.9" width="23.76" height="1.29" fill="rgb(88,20,22)"/>
<rect x="327.96" y="296.9" width="23.76" height="1.29" fill="rgb(169,29,35)"/>
<rect x="351.43" y="296.9" width="23.76" height="1.29" fill="rgb(30,72,41)"/>
<rect x="374.89" y="296.9" width="23.76" height="1.29" fill="rgb(131,25,29)"/>
<rect x="398.35" y="296.9" width="23.76" height="1.29" fill="rgb(29,73,41)"/>
<rect x="421.81" y="296.9" width="23.76" height="1.29" fill="rgb(22,113,58)"/>
<rect x="445.27" y="296.9" width="23.76" height="1.29" fill="rgb(27,85,47)"/>
<rect x="468.74" y="296.9" width="23.76" height="1.29" fill="rgb(17,124,63)"/>
<rect x="304.5" y="297.89" width="23.76" height="1.29" fill="rgb(122,24,27)"/>
<rect x="327.96" y="297.89" width="23.76" height="1.29" fill="rgb(132,25,29)"/>
<rect x="351.43" y="297.89" width="23.76" height="1.29" fill="rgb(29,17,16)"/>
<rect x="374.89" y="297.89" width="23.76" height="1.29" fill="rgb(132,25,29)"/>
<rect x="398.35" y="297.89" width="23.76" height="1.29" fill="rgb(7,146,72)"/>
<rect x="421.81" y="297.89" width="23.76" height="1.29" fill="rgb(16,125,63)"/>
<rect x="445.27" y="297.89" width="23.76" height="1.29" fill="rgb(23,24,18)"/>
<rect x="468.74" y="297.89" width="23.76" height="1.29" fill="rgb(24,101,53)"/>
<rect x="304.5" y="298.88" width="23.76" height="1.29" fill="rgb(152,27,32)"/>
<rect x="327.96" y="298.88" width="23.76" height="1.29" fill="rgb(150,27,32)"/>
<rect x="351.43" y="298.88" width="23.76" height="1.29" fill="rgb(37,18,17)"/>
<rect x="374.89" y="298.88" width="23.76" height="1.29" fill="rgb(126,24,28)"/>
<rect x="398.35" y="298.88" width="23.76" height="1.29" fill="rgb(10,138,68)"/>
<rect x="421.81" y="298.88" width="23.76" height="1.29" fill="rgb(21,115,59)"/>
<rect x="445.27" y="298.88" width="23.76" height="1.29" fill="rgb(23,24,18)"/>
<rect x="468.74" y="298.88" width="23.76" height="1.29" fill="rgb(22,110,57)"/>
<rect x="304.5" y="299.87" width="23.76" height="1.29" fill="rgb(144,26,31)"/>
<rect x="327.96" y="299.87" width="23.76" height="1.29" fill="rgb(133,25,29)"/>
<rect x="351.43" y="299.87" width="23.76" height="1.29" fill="rgb(23,17,15)"/>
<rect x="374.89" y="299.87" width="23.76" height="1.29" fill="rgb(128,24,28)"/>
<rect x="398.35" y="299.87" width="23.76" height="1.29" fill="rgb(8,143,70)"/>
<rect x="421.81" y="299.87" width="23.76" height="1.29" fill="rgb(20,117,60)"/>
<rect x="445.27" y="299.87" width="23.76" height="1.29" fill="rgb(23,23,18)"/>
<rect x="468.74" y="299.87" width="23.76" height="1.29" fill="rgb(15,127,64)"/>
<rect x="304.5" y="300.86" width="23.76" height="1.29" fill="rgb(136,25,30)"/>
<rect x="327.96" y="300.86" width="23.76" height="1.29" fill="rgb(165,28,34)"/>
<rect x="351.43" y="300.86" width="23.76" height="1.29" fill="rgb(23,17,15)"/>
<rect x="374.89" y="300.86" width="23.76" height="1.29" fill="rgb(149,27,32)"/>
<rect x="398.35" y="300.86" width="23.76" height="1.29" fill="rgb(8,143,70)"/>
<rect x="421.81" y="300.86" width="23.76" height="1.29" fill="rgb(19,119,61)"/>
<rect x="445.27" y="300.86" width="23.76" height="1.29" fill="rgb(28,17,16)"/>
<rect x="468.74" y="300.86" width="23.76" height="1.29" fill="rgb(19,119,61)"/>
<rect x="304.5" y="301.85" width="23.76" height="1.29" fill="rgb(99,21,24)"/>
<rect x="327.96" y="301.85" width="23.76" height="1.29" fill="rgb(124,24,28)"/>
<rect x="351.43" y="301.85" width="23.76" height="1.29" fill="rgb(23,21,17)"/>
<rect x="374.89" y="301.85" width="23.76" height="1.29" fill="rgb(165,28,34)"/>
<rect x="398.35" y="301.85" width="23.76" height="1.29" fill="rgb(8,144,71)"/>
<rect x="421.81" y="301.85" width="23.76" height="1.29" fill="rgb(26,89,48)"/>
<rect x="445.27" y="301.85" width="23.76" height="1.29" fill="rgb(24,28,20)"/>
<rect x="468.74" y="301.85" width="23.76" height="1.29" fill="rgb(21,115,59)"/>
<rect x="304.5" y="302.84" width="23.76" height="1.29" fill="rgb(97,21,23)"/>
<rect x="327.96" y="302.84" width="23.76" height="1.29" fill="rgb(121,24,27)"/>
<rect x="351.43" y="302.84" width="23.76" height="1.29" fill="rgb(23,17,15)"/>
<rect x="374.89" y="302.84" width="23.76" height="1.29" fill="rgb(169,29,35)"/>
<rect x="398.35" y="302.84" width="23.76" height="1.29" fill="rgb(10,137,68)"/>
<rect x="421.81" y="302.84" width="23.76" height="1.29" fill="rgb(27,85,46)"/>
<rect x="445.27" y="302.84" width="23.76" height="1.29" fill="rgb(24,29,21)"/>
<rect x="468.74" y="302.84" width="23.76" height="1.29" fill="rgb(19,117,60)"/>
<rect x="304.5" y="303.83" width="23.76" height="1.29" fill="rgb(93,21,23)"/>
<rect x="327.96" y="303.83" width="23.76" height="1.29" fill="rgb(153,27,32)"/>
<rect x="351.43" y="303.83" width="23.76" height="1.29" fill="rgb(43,18,17)"/>
<rect x="374.89" y="303.83" width="23.76" height="1.29" fill="rgb(163,28,34)"/>
<rect x="398.35" y="303.83" width="23.76" height="1.29" fill="rgb(8,143,70)"/>
<rect x="421.81" y="303.83" width="23.76" height="1.29" fill="rgb(29,61,36)"/>
<rect x="445.27" y="303.83" width="23.76" height="1.29" fill="rgb(22,19,16)"/>
<rect x="468.74" y="303.83" width="23.76" height="1.29" fill="rgb(23,104,55)"/>
<rect x="304.5" y="304.81" width="23.76" height="1.29" fill="rgb(80,20,21)"/>
<rect x="327.96" y="304.81" width="23.76" height="1.29" fill="rgb(161,28,33)"/>
<rect x="351.43" y="304.81" width="23.76" height="1.29" fill="rgb(39,18,17)"/>
<rect x="374.89" y="304.81" width="23.76" height="1.29" fill="rgb(167,29,35)"/>
<rect x="398.35" y="304.81" width="23.76" height="1.29" fill="rgb(7,148,72)"/>
<rect x="421.81" y="304.81" width="23.76" height="1.29" fill="rgb(28,55,33)"/>
<rect x="445.27" y="304.81" width="23.76" height="1.29" fill="rgb(25,38,25)"/>
<rect x="468.74" y="304.81" width="23.76" height="1.29" fill="rgb(24,104,55)"/>
<rect x="304.5" y="305.8" width="23.76" height="1.29" fill="rgb(30,69,39)"/>
<rect x="327.96" y="305.8" width="23.76" height="1.29" fill="rgb(32,17,16)"/>
<rect x="351.43" y="305.8" width="23.76" height="1.29" fill="rgb(111,23,26)"/>
<rect x="374.89" y="305.8" width="23.76" height="1.29" fill="rgb(229,36,45)"/>
<rect x="398.35" y="305.8" width="23.76" height="1.29" fill="rgb(29,75,42)"/>
<rect x="421.81" y="305.8" width="23.76" height="1.29" fill="rgb(100,21,24)"/>
<rect x="445.27" y="305.8" width="23.76" height="1.29" fill="rgb(24,100,53)"/>
<rect x="468.74" y="305.8" width="23.76" height="1.29" fill="rgb(30,68,39)"/>
<rect x="304.5" y="306.79" width="23.76" height="1.29" fill="rgb(29,77,43)"/>
<rect x="327.96" y="306.79" width="23.76" height="1.29" fill="rgb(30,17,16)"/>
<rect x="351.43" y="306.79" width="23.76" height="1.29" fill="rgb(79,20,21)"/>
<rect x="374.89" y="306.79" width="23.76" height="1.29" fill="rgb(230,36,45)"/>
<rect x="398.35" y="306.79" width="23.76" height="1.29" fill="rgb(28,80,44)"/>
<rect x="421.81" y="306.79" width="23.76" height="1.29" fill="rgb(74,19,21)"/>
<rect x="445.27" y="306.79" width="23.76" height="1.29" fill="rgb(22,112,58)"/>
<rect x="468.74" y="306.79" width="23.76" height="1.29" fill="rgb(29,76,43)"/>
<rect x="304.5" y="307.78" width="23.76" height="1.29" fill="rgb(28,79,44)"/>
<rect x="327.96" y="307.78" width="23.76" height="1.29" fill="rgb(41,18,17)"/>
<rect x="351.43" y="307.78" width="23.76" height="1.29" fill="rgb(104,22,24)"/>
<rect x="374.89" y="307.78" width="23.76" height="1.29" fill="rgb(227,36,44)"/>
<rect x="398.35" y="307.78" width="23.76" height="1.29" fill="rgb(29,74,42)"/>
<rect x="421.81" y="307.78" width="23.76" height="1.29" fill="rgb(61,19,19)"/>
<rect x="445.27" y="307.78" width="23.76" height="1.29" fill="rgb(19,119,61)"/>
<rect x="468.74" y="307.78" width="23.76" height="1.29" fill="rgb(27,86,47)"/>
<rect x="304.5" y="308.77" width="23.76" height="1.29" fill="rgb(30,69,40)"/>
<rect x="327.96" y="308.77" width="23.76" height="1.29" fill="rgb(35,18,16)"/>
<rect x="351.43" y="308.77" width="23.76" height="1.29" fill="rgb(55,18,18)"/>
<rect x="374.89" y="308.77" width="23.76" height="1.29" fill="rgb(230,36,45)"/>
<rect x="398.35" y="308.77" width="23.76" height="1.29" fill="rgb(28,79,44)"/>
<rect x="421.81" y="308.77" width="23.76" height="1.29" fill="rgb(104,22,24)"/>
<rect x="445.27" y="308.77" width="23.76" height="1.29" fill="rgb(24,101,53)"/>
<rect x="468.74" y="308.77" width="23.76" height="1.29" fill="rgb(28,54,33)"/>
<rect x="304.5" y="309.76" width="23.76" height="1.29" fill="rgb(22,17,15)"/>
<rect x="327.96" y="309.76" width="23.76" height="1.29" fill="rgb(29,75,42)"/>
<rect x="351.43" y="309.76" width="23.76" height="1.29" fill="rgb(167,29,34)"/>
<rect x="374.89" y="309.76" width="23.76" height="1.29" fill="rgb(212,34,42)"/>
<rect x="398.35" y="309.76" width="23.76" height="1.29" fill="rgb(16,126,63)"/>
<rect x="421.81" y="309.76" width="23.76" height="1.29" fill="rgb(23,23,18)"/>
<rect x="445.27" y="309.76" width="23.76" height="1.29" fill="rgb(21,114,59)"/>
<rect x="468.74" y="309.76" width="23.76" height="1.29" fill="rgb(28,54,33)"/>
<rect x="304.5" y="310.75" width="23.76" height="1.29" fill="rgb(41,18,17)"/>
<rect x="327.96" y="310.75" width="23.76" height="1.29" fill="rgb(30,71,40)"/>
<rect x="351.43" y="310.75" width="23.76" height="1.29" fill="rgb(171,29,35)"/>
<rect x="374.89" y="310.75" width="23.76" height="1.29" fill="rgb(228,36,45)"/>
<rect x="398.35" y="310.75" width="23.76" height="1.29" fill="rgb(22,113,58)"/>
<rect x="421.81" y="310.75" width="23.76" height="1.29" fill="rgb(22,20,16)"/>
<rect x="445.27" y="310.75" width="23.76" height="1.29" fill="rgb(20,116,60)"/>
<rect x="468.74" y="310.75" width="23.76" height="1.29" fill="rgb(29,77,43)"/>
<rect x="304.5" y="311.74" width="23.76" height="1.29" fill="rgb(35,18,16)"/>
<rect x="327.96" y="311.74" width="23.76" height="1.29" fill="rgb(29,78,43)"/>
<rect x="351.43" y="311.74" width="23.76" height="1.29" fill="rgb(169,29,35)"/>
<rect x="374.89" y="311.74" width="23.76" height="1.29" fill="rgb(230,36,45)"/>
<rect x="398.35" y="311.74" width="23.76" height="1.29" fill="rgb(22,113,58)"/>
<rect x="421.81" y="311.74" width="23.76" height="1.29" fill="rgb(25,36,24)"/>
<rect x="445.27" y="311.74" width="23.76" height="1.29" fill="rgb(20,117,60)"/>
<rect x="468.74" y="311.74" width="23.76" height="1.29" fill="rgb(29,76,43)"/>
<rect x="304.5" y="312.73" width="23.76" height="1.29" fill="rgb(34,18,16)"/>
<rect x="327.96" y="312.73" width="23.76" height="1.29" fill="rgb(30,69,40)"/>
<rect x="351.43" y="312.73" width="23.76" height="1.29" fill="rgb(165,28,34)"/>
<rect x="374.89" y="312.73" width="23.76" height="1.29" fill="rgb(230,36,45)"/>
<rect x="398.35" y="312.73" width="23.76" height="1.29" fill="rgb(21,114,59)"/>
<rect x="421.81" y="312.73" width="23.76" height="1.29" fill="rgb(23,27,19)"/>
<rect x="445.27" y="312.73" width="23.76" height="1.29" fill="rgb(22,109,57)"/>
<rect x="468.74" y="312.73" width="23.76" height="1.29" fill="rgb(28,54,33)"/>
<rect x="304.5" y="313.72" width="23.76" height="1.29" fill="rgb(19,118,60)"/>
<rect x="327.96" y="313.72" width="23.76" height="1.29" fill="rgb(33,17,16)"/>
<rect x="351.43" y="313.72" width="23.76" height="1.29" fill="rgb(102,22,24)"/>
<rect x="374.89" y="313.72" width="23.76" height="1.29" fill="rgb(60,19,19)"/>
<rect x="398.35" y="313.72" width="23.76" height="1.29" fill="rgb(134,25,29)"/>
<rect x="421.81" y="313.72" width="23.76" height="1.29" fill="rgb(28,54,33)"/>
<rect x="445.27" y="313.72" width="23.76" height="1.29" fill="rgb(28,57,34)"/>
<rect x="468.74" y="313.72" width="23.76" height="1.29" fill="rgb(8,143,70)"/>
<rect x="304.5" y="314.71" width="23.76" height="1.29" fill="rgb(16,124,63)"/>
<rect x="327.96" y="314.71" width="23.76" height="1.29" fill="rgb(45,18,17)"/>
<rect x="351.43" y="314.71" width="23.76" height="1.29" fill="rgb(94,21,23)"/>
<rect x="374.89" y="314.71" width="23.76" height="1.29" fill="rgb(102,22,24)"/>
<rect x="398.35" y="314.71" width="23.76" height="1.29" fill="rgb(171,29,35)"/>
<rect x="421.81" y="314.71" width="23.76" height="1.29" fill="rgb(28,54,33)"/>
<rect x="445.27" y="314.71" width="23.76" height="1.29" fill="rgb(29,75,42)"/>
<rect x="468.74" y="314.71" width="23.76" height="1.29" fill="rgb(7,148,72)"/>
<rect x="304.5" y="315.7" width="23.76" height="1.29" fill="rgb(19,119,61)"/>
<rect x="327.96" y="315.7" width="23.76" height="1.29" fill="rgb(32,17,16)"/>
<rect x="351.43" y="315.7" width="23.76" height="1.29" fill="rgb(82,20,21)"/>
<rect x="374.89" y="315.7" width="23.76" height="1.29" fill="rgb(61,19,19)"/>
<rect x="398.35" y="315.7" width="23.76" height="1.29" fill="rgb(125,24,28)"/>
<rect x="421.81" y="315.7" width="23.76" height="1.29" fill="rgb(29,66,38)"/>
<rect x="445.27" y="315.7" width="23.76" height="1.29" fill="rgb(30,68,39)"/>
<rect x="468.74" y="315.7" width="23.76" height="1.29" fill="rgb(7,145,71)"/>
<rect x="304.5" y="316.69" width="23.76" height="1.29" fill="rgb(25,95,51)"/>
<rect x="327.96" y="316.69" width="23.76" height="1.29" fill="rgb(36,18,17)"/>
<rect x="351.43" y="316.69" width="23.76" height="1.29" fill="rgb(55,18,18)"/>
<rect x="374.89" y="316.69" width="23.76" height="1.29" fill="rgb(76,19,21)"/>
<rect x="398.35" y="316.69" width="23.76" height="1.29" fill="rgb(161,28,34)"/>
<rect x="421.81" y="316.69" width="23.76" height="1.29" fill="rgb(28,79,44)"/>
<rect x="445.27" y="316.69" width="23.76" height="1.29" fill="rgb(29,64,37)"/>
<rect x="468.74" y="316.69" width="23.76" height="1.29" fill="rgb(7,150,73)"/>
<rect x="304.5" y="317.68" width="23.76" height="1.29" fill="rgb(28,79,44)"/>
<rect x="327.96" y="317.68" width="23.76" height="1.29" fill="rgb(43,18,17)"/>
<rect x="351.43" y="317.68" width="23.76" height="1.29" fill="rgb(30,69,39)"/>
<rect x="374.89" y="317.68" width="23.76" height="1.29" fill="rgb(37,18,17)"/>
<rect x="398.35" y="317.68" width="23.76" height="1.29" fill="rgb(61,19,19)"/>
<rect x="421.81" y="317.68" width="23.76" height="1.29" fill="rgb(227,36,44)"/>
<rect x="445.27" y="317.68" width="23.76" height="1.29" fill="rgb(30,70,40)"/>
<rect x="468.74" y="317.68" width="23.76" height="1.29" fill="rgb(18,120,61)"/>
<rect x="304.5" y="318.67" width="23.76" height="1.29" fill="rgb(29,66,38)"/>
<rect x="327.96" y="318.67" width="23.76" height="1.29" fill="rgb(33,17,16)"/>
<rect x="351.43" y="318.67" width="23.76" height="1.29" fill="rgb(28,54,33)"/>
<rect x="374.89" y="318.67" width="23.76" height="1.29" fill="rgb(34,18,16)"/>
<rect x="398.35" y="318.67" width="23.76" height="1.29" fill="rgb(76,19,21)"/>
<rect x="421.81" y="318.67" width="23.76" height="1.29" fill="rgb(216,34,43)"/>
<rect x="445.27" y="318.67" width="23.76" height="1.29" fill="rgb(27,85,46)"/>
<rect x="468.74" y="318.67" width="23.76" height="1.29" fill="rgb(23,104,55)"/>
<rect x="304.5" y="319.66" width="23.76" height="1.29" fill="rgb(27,87,47)"/>
<rect x="327.96" y="319.66" width="23.76" height="1.29" fill="rgb(22,20,16)"/>
<rect x="351.43" y="319.66" width="23.76" height="1.29" fill="rgb(27,85,46)"/>
<rect x="374.89" y="319.66" width="23.76" height="1.29" fill="rgb(33,17,16)"/>
<rect x="398.35" y="319.66" width="23.76" height="1.29" fill="rgb(102,22,24)"/>
<rect x="421.81" y="319.66" width="23.76" height="1.29" fill="rgb(230,36,45)"/>
<rect x="445.27" y="319.66" width="23.76" height="1.29" fill="rgb(28,58,34)"/>
<rect x="468.74" y="319.66" width="23.76" height="1.29" fill="rgb(16,125,63)"/>
<rect x="304.5" y="320.65" width="23.76" height="1.29" fill="rgb(26,91,49)"/>
<rect x="327.96" y="320.65" width="23.76" height="1.29" fill="rgb(41,18,17)"/>
<rect x="351.43" y="320.65" width="23.76" height="1.29" fill="rgb(28,79,44)"/>
<rect x="374.89" y="320.65" width="23.76" height="1.29" fill="rgb(39,18,17)"/>
<rect x="398.35" y="320.65" width="23.76" height="1.29" fill="rgb(72,19,20)"/>
<rect x="421.81" y="320.65" width="23.76" height="1.29" fill="rgb(217,34,43)"/>
<rect x="445.27" y="320.65" width="23.76" height="1.29" fill="rgb(28,81,45)"/>
<rect x="468.74" y="320.65" width="23.76" height="1.29" fill="rgb(16,124,63)"/>
<rect x="304.5" y="321.64" width="23.76" height="1.29" fill="rgb(25,99,52)"/>
<rect x="327.96" y="321.64" width="23.76" height="1.29" fill="rgb(35,18,16)"/>
<rect x="351.43" y="321.64" width="23.76" height="1.29" fill="rgb(27,17,16)"/>
<rect x="374.89" y="321.64" width="23.76" height="1.29" fill="rgb(30,17,16)"/>
<rect x="398.35" y="321.64" width="23.76" height="1.29" fill="rgb(74,19,20)"/>
<rect x="421.81" y="321.64" width="23.76" height="1.29" fill="rgb(174,29,36)"/>
<rect x="445.27" y="321.64" width="23.76" height="1.29" fill="rgb(25,17,15)"/>
<rect x="468.74" y="321.64" width="23.76" height="1.29" fill="rgb(30,69,39)"/>
<rect x="304.5" y="322.63" width="23.76" height="1.29" fill="rgb(25,97,51)"/>
<rect x="327.96" y="322.63" width="23.76" height="1.29" fill="rgb(30,17,16)"/>
<rect x="351.43" y="322.63" width="23.76" height="1.29" fill="rgb(36,18,16)"/>
<rect x="374.89" y="322.63" width="23.76" height="1.29" fill="rgb(24,17,15)"/>
<rect x="398.35" y="322.63" width="23.76" height="1.29" fill="rgb(55,18,18)"/>
<rect x="421.81" y="322.63" width="23.76" height="1.29" fill="rgb(210,33,42)"/>
<rect x="445.27" y="322.63" width="23.76" height="1.29" fill="rgb(24,17,15)"/>
<rect x="468.74" y="322.63" width="23.76" height="1.29" fill="rgb(28,79,44)"/>
<rect x="304.5" y="323.62" width="23.76" height="1.29" fill="rgb(24,99,52)"/>
<rect x="327.96" y="323.62" width="23.76" height="1.29" fill="rgb(42,18,17)"/>
<rect x="351.43" y="323.62" width="23.76" height="1.29" fill="rgb(25,17,15)"/>
<rect x="374.89" y="323.62" width="23.76" height="1.29" fill="rgb(35,18,16)"/>
<rect x="398.35" y="323.62" width="23.76" height="1.29" fill="rgb(111,23,26)"/>
<rect x="421.81" y="323.62" width="23.76" height="1.29" fill="rgb(195,31,39)"/>
<rect x="445.27" y="323.62" width="23.76" height="1.29" fill="rgb(27,17,16)"/>
<rect x="468.74" y="323.62" width="23.76" height="1.29" fill="rgb(28,82,45)"/>
<rect x="304.5" y="324.61" width="23.76" height="1.29" fill="rgb(20,116,60)"/>
<rect x="327.96" y="324.61" width="23.76" height="1.29" fill="rgb(200,32,40)"/>
<rect x="351.43" y="324.61" width="23.76" height="1.29" fill="rgb(39,18,17)"/>
<rect x="374.89" y="324.61" width="23.76" height="1.29" fill="rgb(23,17,15)"/>
<rect x="398.35" y="324.61" width="23.76" height="1.29" fill="rgb(69,19,20)"/>
<rect x="421.81" y="324.61" width="23.76" height="1.29" fill="rgb(208,33,41)"/>
<rect x="445.27" y="324.61" width="23.76" height="1.29" fill="rgb(23,25,19)"/>
<rect x="468.74" y="324.61" width="23.76" height="1.29" fill="rgb(28,59,35)"/>
</g>
<path d="M363.16 35L386.62 35 M363.16 35L363.16 43 M386.62 35L386.62 43 M339.69 32L374.89 32 M339.69 32L339.69 43 M374.89 32L374.89 35 M316.23 29.5L357.29 29.5 M316.23 29.5L316.23 43 M357.29 29.5L357.29 32 M457.01 31.5L480.47 31.5 M457.01 31.5L457.01 43 M480.47 31.5L480.47 43 M433.54 27L468.74 27 M433.54 27L433.54 43 M468.74 27L468.74 31.5 M410.08 22.5L451.14 22.5 M410.08 22.5L410.08 43 M451.14 22.5L451.14 27 M336.76 6L430.61 6 M336.76 6L336.76 29.5 M430.61 6L430.61 22.5" stroke="#111" stroke-width="0.9" fill="none"/>
<path d="M300.54 45.49H304.3M300.54 46.49H304.3M300.54 45.49V46.49M299.51 44.5H304.3M299.51 45.99H300.54M299.51 44.5V45.99M298.71 45.24H299.51M298.71 47.49H304.3M298.71 45.24V47.49M285 43.5H304.3M285 46.37H298.71M285 43.5V46.37M301.76 49.48H304.3M301.76 50.48H304.3M301.76 49.48V50.48M300.96 49.98H301.76M300.96 51.48H304.3M300.96 49.98V51.48M284 48.49H304.3M284 50.73H300.96M284 48.49V50.73M277.1 44.93H285M277.1 49.61H284M277.1 44.93V49.61M301.57 53.47H304.3M301.57 54.47H304.3M301.57 53.47V54.47M300.77 52.48H304.3M300.77 53.97H301.57M300.77 52.48V53.97M299.83 53.22H300.77M299.83 55.47H304.3M299.83 53.22V55.47M301.66 56.47H304.3M301.66 57.46H304.3M301.66 56.47V57.46M299.03 54.35H299.83M299.03 56.96H301.66M299.03 54.35V56.96M301.67 58.46H304.3M301.67 59.46H304.3M301.67 58.46V59.46M300.87 58.96H301.67M300.87 60.46H304.3M300.87 58.96V60.46M298.23 55.66H299.03M298.23 59.71H300.87M298.23 55.66V59.71M301.21 61.45H304.3M301.21 62.45H304.3M301.21 61.45V62.45M299.4 61.95H301.21M299.4 63.45H304.3M299.4 61.95V63.45M300.58 64.45H304.3M300.58 65.44H304.3M300.58 64.45V65.44M301.38 66.44H304.3M301.38 67.44H304.3M301.38 66.44V67.44M300.77 68.43H304.3M300.77 69.43H304.3M300.77 68.43V69.43M299.48 66.94H301.38M299.48 68.93H300.77M299.48 66.94V68.93M298.68 64.94H300.58M298.68 67.94H299.48M298.68 64.94V67.94M297.49 62.7H299.4M297.49 66.44H298.68M297.49 62.7V66.44M300.67 72.42H304.3M300.67 73.42H304.3M300.67 72.42V73.42M299.4 71.43H304.3M299.4 72.92H300.67M299.4 71.43V72.92M298.6 70.43H304.3M298.6 72.18H299.4M298.6 70.43V72.18M301.04 74.42H304.3M301.04 75.42H304.3M301.04 74.42V75.42M300.64 76.41H304.3M300.64 77.41H304.3M300.64 76.41V77.41M299.52 74.92H301.04M299.52 76.91H300.64M299.52 74.92V76.91M297.63 71.3H298.6M297.63 75.92H299.52M297.63 71.3V75.92M301 78.41H304.3M301 79.41H304.3M301 78.41V79.41M296.83 73.61H297.63M296.83 78.91H301M296.83 73.61V78.91M301.39 82.4H304.3M301.39 83.4H304.3M301.39 82.4V83.4M300.59 81.4H304.3M300.59 82.9H301.39M300.59 81.4V82.9M299.79 80.4H304.3M299.79 82.15H300.59M299.79 80.4V82.15M301.7 87.39H304.3M301.7 88.38H304.3M301.7 87.39V88.38M300.9 86.39H304.3M300.9 87.89H301.7M300.9 86.39V87.89M301.65 90.38H304.3M301.65 91.38H304.3M301.65 90.38V91.38M299.65 89.38H304.3M299.65 90.88H301.65M299.65 89.38V90.88M298.85 87.14H300.9M298.85 90.13H299.65M298.85 87.14V90.13M301.69 92.37H304.3M301.69 93.37H304.3M301.69 92.37V93.37M300.5 92.87H301.69M300.5 94.37H304.3M300.5 92.87V94.37M298.05 88.63H298.85M298.05 93.62H300.5M298.05 88.63V93.62M297.25 85.39H304.3M297.25 91.13H298.05M297.25 85.39V91.13M296.45 84.39H304.3M296.45 88.26H297.25M296.45 84.39V88.26M295.65 81.28H299.79M295.65 86.33H296.45M295.65 81.28V86.33M301.2 95.37H304.3M301.2 96.36H304.3M301.2 95.37V96.36M301.87 97.36H304.3M301.87 98.36H304.3M301.87 97.36V98.36M301.07 97.86H301.87M301.07 99.36H304.3M301.07 97.86V99.36M300.27 98.61H301.07M300.27 100.35H304.3M300.27 98.61V100.35M298.55 95.86H301.2M298.55 99.48H300.27M298.55 95.86V99.48M290.7 83.8H295.65M290.7 97.67H298.55M290.7 83.8V97.67M289.9 76.26H296.83M289.9 90.74H290.7M289.9 76.26V90.74M289.1 64.57H297.49M289.1 83.5H289.9M289.1 64.57V83.5M288.3 57.68H298.23M288.3 74.03H289.1M288.3 57.68V74.03M301.76 102.35H304.3M301.76 103.35H304.3M301.76 102.35V103.35M300.67 104.34H304.3M300.67 105.34H304.3M300.67 104.34V105.34M302.29 107.34H304.3M302.29 108.33H304.3M302.29 107.34V108.33M301.49 107.83H302.29M301.49 109.33H304.3M301.49 107.83V109.33M300.69 108.58H301.49M300.69 110.33H304.3M300.69 108.58V110.33M299.89 106.34H304.3M299.89 109.46H300.69M299.89 106.34V109.46M299.09 107.9H299.89M299.09 111.33H304.3M299.09 107.9V111.33M298.29 104.84H300.67M298.29 109.61H299.09M298.29 104.84V109.61M297.49 102.85H301.76M297.49 107.23H298.29M297.49 102.85V107.23M301.41 112.32H304.3M301.41 113.32H304.3M301.41 112.32V113.32M300.16 112.82H301.41M300.16 114.32H304.3M300.16 112.82V114.32M296.69 105.04H297.49M296.69 113.57H300.16M296.69 105.04V113.57M295.89 101.35H304.3M295.89 109.3H296.69M295.89 101.35V109.3M300.51 115.32H304.3M300.51 116.31H304.3M300.51 115.32V116.31M299.71 115.81H300.51M299.71 117.31H304.3M299.71 115.81V117.31M300.33 118.31H304.3M300.33 119.3H304.3M300.33 118.31V119.3M299.53 118.81H300.33M299.53 120.3H304.3M299.53 118.81V120.3M297.09 116.56H299.71M297.09 119.55H299.53M297.09 116.56V119.55M287.6 105.33H295.89M287.6 118.06H297.09M287.6 105.33V118.06M283.4 65.86H288.3M283.4 111.69H287.6M283.4 65.86V111.69M300.64 122.3H304.3M300.64 123.29H304.3M300.64 122.3V123.29M301.77 125.29H304.3M301.77 126.29H304.3M301.77 125.29V126.29M300.97 124.29H304.3M300.97 125.79H301.77M300.97 124.29V125.79M300.17 125.04H300.97M300.17 127.28H304.3M300.17 125.04V127.28M300.73 128.28H304.3M300.73 129.28H304.3M300.73 128.28V129.28M297.8 126.16H300.17M297.8 128.78H300.73M297.8 126.16V128.78M300.88 130.28H304.3M300.88 131.27H304.3M300.88 130.28V131.27M295.63 127.47H297.8M295.63 130.78H300.88M295.63 127.47V130.78M302.22 135.26H304.3M302.22 136.26H304.3M302.22 135.26V136.26M301.42 135.76H302.22M301.42 137.26H304.3M301.42 135.76V137.26M300.62 136.51H301.42M300.62 138.26H304.3M300.62 136.51V138.26M299.82 134.27H304.3M299.82 137.38H300.62M299.82 134.27V137.38M299.02 133.27H304.3M299.02 135.83H299.82M299.02 133.27V135.83M298.22 132.27H304.3M298.22 134.55H299.02M298.22 132.27V134.55M294.83 129.12H295.63M294.83 133.41H298.22M294.83 129.12V133.41M294.03 122.8H300.64M294.03 131.27H294.83M294.03 122.8V131.27M301.33 139.25H304.3M301.33 140.25H304.3M301.33 139.25V140.25M300.95 141.25H304.3M300.95 142.25H304.3M300.95 141.25V142.25M298.89 139.75H301.33M298.89 141.75H300.95M298.89 139.75V141.75M293.23 127.03H294.03M293.23 140.75H298.89M293.23 127.03V140.75M301.4 143.24H304.3M301.4 144.24H304.3M301.4 143.24V144.24M300.35 145.24H304.3M300.35 146.24H304.3M300.35 145.24V146.24M299.24 145.74H300.35M299.24 147.23H304.3M299.24 145.74V147.23M297.65 143.74H301.4M297.65 146.49H299.24M297.65 143.74V146.49M301.47 149.23H304.3M301.47 150.23H304.3M301.47 149.23V150.23M300.51 149.73H301.47M300.51 151.22H304.3M300.51 149.73V151.22M299.71 148.23H304.3M299.71 150.48H300.51M299.71 148.23V150.48M296.09 145.11H297.65M296.09 149.35H299.71M296.09 145.11V149.35M301.48 152.22H304.3M301.48 153.22H304.3M301.48 152.22V153.22M299.53 152.72H301.48M299.53 154.22H304.3M299.53 152.72V154.22M301.84 155.21H304.3M301.84 156.21H304.3M301.84 155.21V156.21M298.38 153.47H299.53M298.38 155.71H301.84M298.38 153.47V155.71M301.12 157.21H304.3M301.12 158.21H304.3M301.12 157.21V158.21M301.03 159.2H304.3M301.03 160.2H304.3M301.03 159.2V160.2M300.23 157.71H301.12M300.23 159.7H301.03M300.23 157.71V159.7M301.8 162.2H304.3M301.8 163.19H304.3M301.8 162.2V163.19M300.26 161.2H304.3M300.26 162.69H301.8M300.26 161.2V162.69M301.29 164.19H304.3M301.29 165.19H304.3M301.29 164.19V165.19M298.62 161.95H300.26M298.62 164.69H301.29M298.62 161.95V164.69M301.33 166.18H304.3M301.33 167.18H304.3M301.33 166.18V167.18M296.38 163.32H298.62M296.38 166.68H301.33M296.38 163.32V166.68M295.58 158.7H300.23M295.58 165H296.38M295.58 158.7V165M293.12 154.59H298.38M293.12 161.85H295.58M293.12 154.59V161.85M302.17 168.18H304.3M302.17 169.18H304.3M302.17 168.18V169.18M301.37 168.68H302.17M301.37 170.17H304.3M301.37 168.68V170.17M300.57 169.43H301.37M300.57 171.17H304.3M300.57 169.43V171.17M299.29 170.3H300.57M299.29 172.17H304.3M299.29 170.3V172.17M290.34 158.22H293.12M290.34 171.23H299.29M290.34 158.22V171.23M289.11 147.23H296.09M289.11 164.73H290.34M289.11 147.23V164.73M300.56 173.17H304.3M300.56 174.16H304.3M300.56 173.17V174.16M299.75 173.67H300.56M299.75 175.16H304.3M299.75 173.67V175.16M300.45 176.16H304.3M300.45 177.16H304.3M300.45 176.16V177.16M297.64 174.41H299.75M297.64 176.66H300.45M297.64 174.41V176.66M286.9 155.98H289.11M286.9 175.54H297.64M286.9 155.98V175.54M301.85 180.15H304.3M301.85 181.15H304.3M301.85 180.15V181.15M301.05 179.15H304.3M301.05 180.65H301.85M301.05 179.15V180.65M299.81 178.15H304.3M299.81 179.9H301.05M299.81 178.15V179.9M300.88 182.14H304.3M300.88 183.14H304.3M300.88 182.14V183.14M302.1 186.13H304.3M302.1 187.13H304.3M302.1 186.13V187.13M301.3 185.14H304.3M301.3 186.63H302.1M301.3 185.14V186.63M300.5 184.14H304.3M300.5 185.88H301.3M300.5 184.14V185.88M299.13 182.64H300.88M299.13 185.01H300.5M299.13 182.64V185.01M301.18 189.13H304.3M301.18 190.12H304.3M301.18 189.13V190.12M299.97 188.13H304.3M299.97 189.62H301.18M299.97 188.13V189.62M298.06 183.83H299.13M298.06 188.88H299.97M298.06 183.83V188.88M297.26 186.35H298.06M297.26 191.12H304.3M297.26 186.35V191.12M301.71 194.11H304.3M301.71 195.11H304.3M301.71 194.11V195.11M300.91 194.61H301.71M300.91 196.11H304.3M300.91 194.61V196.11M299.76 193.12H304.3M299.76 195.36H300.91M299.76 193.12V195.36M298.32 192.12H304.3M298.32 194.24H299.76M298.32 192.12V194.24M296.46 188.74H297.26M296.46 193.18H298.32M296.46 188.74V193.18M295.66 190.96H296.46M295.66 197.11H304.3M295.66 190.96V197.11M300.73 198.1H304.3M300.73 199.1H304.3M300.73 198.1V199.1M294.28 194.03H295.66M294.28 198.6H300.73M294.28 194.03V198.6M293.07 179.03H299.81M293.07 196.32H294.28M293.07 179.03V196.32M301.11 200.1H304.3M301.11 201.1H304.3M301.11 200.1V201.1M290.45 187.67H293.07M290.45 200.6H301.11M290.45 187.67V200.6M301.52 203.09H304.3M301.52 204.09H304.3M301.52 203.09V204.09M300.72 203.59H301.52M300.72 205.09H304.3M300.72 203.59V205.09M299.92 202.09H304.3M299.92 204.34H300.72M299.92 202.09V204.34M286.9 194.13H290.45M286.9 203.22H299.92M286.9 194.13V203.22M286.1 165.76H286.9M286.1 198.67H286.9M286.1 165.76V198.67M300.35 206.08H304.3M300.35 207.08H304.3M300.35 206.08V207.08M301.78 208.08H304.3M301.78 209.08H304.3M301.78 208.08V209.08M300.97 208.58H301.78M300.97 210.07H304.3M300.97 208.58V210.07M298.69 206.58H300.35M298.69 209.32H300.97M298.69 206.58V209.32M301.08 211.07H304.3M301.08 212.07H304.3M301.08 211.07V212.07M300.28 211.57H301.08M300.28 213.07H304.3M300.28 211.57V213.07M297.46 207.95H298.69M297.46 212.32H300.28M297.46 207.95V212.32M300.43 214.06H304.3M300.43 215.06H304.3M300.43 214.06V215.06M300.95 217.05H304.3M300.95 218.05H304.3M300.95 217.05V218.05M300.15 216.06H304.3M300.15 217.55H300.95M300.15 216.06V217.55M299.33 216.81H300.15M299.33 219.05H304.3M299.33 216.81V219.05M300.6 220.05H304.3M300.6 221.04H304.3M300.6 220.05V221.04M298.53 217.93H299.33M298.53 220.55H300.6M298.53 217.93V220.55M301.86 223.04H304.3M301.86 224.04H304.3M301.86 223.04V224.04M300.92 223.54H301.86M300.92 225.03H304.3M300.92 223.54V225.03M300.12 224.29H300.92M300.12 226.03H304.3M300.12 224.29V226.03M299.02 222.04H304.3M299.02 225.16H300.12M299.02 222.04V225.16M295.97 219.24H298.53M295.97 223.6H299.02M295.97 219.24V223.6M300.83 227.03H304.3M300.83 228.03H304.3M300.83 227.03V228.03M302.03 230.02H304.3M302.03 231.02H304.3M302.03 230.02V231.02M301.23 229.02H304.3M301.23 230.52H302.03M301.23 229.02V230.52M300.43 229.77H301.23M300.43 232.02H304.3M300.43 229.77V232.02M298.17 227.53H300.83M298.17 230.89H300.43M298.17 227.53V230.89M301.34 233.01H304.3M301.34 234.01H304.3M301.34 233.01V234.01M300.54 233.51H301.34M300.54 235.01H304.3M300.54 233.51V235.01M297.37 229.21H298.17M297.37 234.26H300.54M297.37 229.21V234.26M291.52 221.42H295.97M291.52 231.74H297.37M291.52 221.42V231.74M290.22 214.56H300.43M290.22 226.58H291.52M290.22 214.56V226.58M288.86 210.14H297.46M288.86 220.57H290.22M288.86 210.14V220.57M301.21 236.01H304.3M301.21 237H304.3M301.21 236.01V237M300.41 236.51H301.21M300.41 238H304.3M300.41 236.51V238M288.06 215.35H288.86M288.06 237.25H300.41M288.06 215.35V237.25M285.3 182.22H286.1M285.3 226.3H288.06M285.3 182.22V226.3M284.5 133.89H293.23M284.5 204.26H285.3M284.5 133.89V204.26M279.3 121.3H304.3M279.3 169.08H284.5M279.3 121.3V169.08M277.4 88.78H283.4M277.4 145.19H279.3M277.4 88.78V145.19M271.8 47.27H277.1M271.8 116.98H277.4M271.8 47.27V116.98M300.8 239.98H304.3M300.8 240.97H304.3M300.8 239.98V240.97M299.31 238.99H304.3M299.31 240.48H300.8M299.31 238.99V240.48M297 239.74H299.31M297 241.96H304.3M297 239.74V241.96M300.79 242.95H304.3M300.79 243.94H304.3M300.79 242.95V243.94M299.87 243.45H300.79M299.87 244.93H304.3M299.87 243.45V244.93M300.81 245.92H304.3M300.81 246.91H304.3M300.81 245.92V246.91M301.85 247.9H304.3M301.85 248.89H304.3M301.85 247.9V248.89M299.31 248.4H301.85M299.31 249.88H304.3M299.31 248.4V249.88M298.08 246.42H300.81M298.08 249.14H299.31M298.08 246.42V249.14M302.01 250.87H304.3M302.01 251.86H304.3M302.01 250.87V251.86M301.21 251.37H302.01M301.21 252.85H304.3M301.21 251.37V252.85M300.41 252.11H301.21M300.41 253.84H304.3M300.41 252.11V253.84M299.61 252.98H300.41M299.61 254.83H304.3M299.61 252.98V254.83M301.92 256.81H304.3M301.92 257.8H304.3M301.92 256.81V257.8M301.12 255.82H304.3M301.12 257.31H301.92M301.12 255.82V257.31M296.11 253.9H299.61M296.11 256.56H301.12M296.11 253.9V256.56M293.82 247.78H298.08M293.82 255.23H296.11M293.82 247.78V255.23M290.37 244.19H299.87M290.37 251.51H293.82M290.37 244.19V251.51M301.84 259.78H304.3M301.84 260.77H304.3M301.84 259.78V260.77M301.04 258.79H304.3M301.04 260.27H301.84M301.04 258.79V260.27M298.72 259.53H301.04M298.72 261.76H304.3M298.72 259.53V261.76M301.72 262.75H304.3M301.72 263.74H304.3M301.72 262.75V263.74M297.64 260.65H298.72M297.64 263.24H301.72M297.64 260.65V263.24M301.27 264.73H304.3M301.27 265.72H304.3M301.27 264.73V265.72M300.95 266.71H304.3M300.95 267.7H304.3M300.95 266.71V267.7M300.15 265.22H301.27M300.15 267.2H300.95M300.15 265.22V267.2M296.02 261.95H297.64M296.02 266.21H300.15M296.02 261.95V266.21M300.29 268.69H304.3M300.29 269.68H304.3M300.29 268.69V269.68M301.73 272.65H304.3M301.73 273.64H304.3M301.73 272.65V273.64M300.93 271.66H304.3M300.93 273.14H301.73M300.93 271.66V273.14M299.36 272.4H300.93M299.36 274.63H304.3M299.36 272.4V274.63M298.56 270.67H304.3M298.56 273.51H299.36M298.56 270.67V273.51M296.02 269.18H300.29M296.02 272.09H298.56M296.02 269.18V272.09M295.22 264.08H296.02M295.22 270.64H296.02M295.22 264.08V270.64M301.61 276.61H304.3M301.61 277.6H304.3M301.61 276.61V277.6M300.81 275.62H304.3M300.81 277.1H301.61M300.81 275.62V277.1M300.01 276.36H300.81M300.01 278.59H304.3M300.01 276.36V278.59M301.99 280.57H304.3M301.99 281.56H304.3M301.99 280.57V281.56M301.19 279.58H304.3M301.19 281.06H301.99M301.19 279.58V281.06M301.41 282.54H304.3M301.41 283.53H304.3M301.41 282.54V283.53M298.16 280.32H301.19M298.16 283.04H301.41M298.16 280.32V283.04M295.71 277.47H300.01M295.71 281.68H298.16M295.71 277.47V281.68M294.46 279.58H295.71M294.46 284.52H304.3M294.46 279.58V284.52M292.42 267.36H295.22M292.42 282.05H294.46M292.42 267.36V282.05M282.4 247.85H290.37M282.4 274.7H292.42M282.4 247.85V274.7M300.59 285.51H304.3M300.59 286.5H304.3M300.59 285.51V286.5M301.87 289.47H304.3M301.87 290.46H304.3M301.87 289.47V290.46M301.07 288.48H304.3M301.07 289.97H301.87M301.07 288.48V289.97M300.27 287.49H304.3M300.27 289.23H301.07M300.27 287.49V289.23M302.16 293.43H304.3M302.16 294.42H304.3M302.16 293.43V294.42M301.36 292.44H304.3M301.36 293.93H302.16M301.36 292.44V293.93M300.56 291.45H304.3M300.56 293.18H301.36M300.56 291.45V293.18M301.03 295.41H304.3M301.03 296.4H304.3M301.03 295.41V296.4M298.27 292.32H300.56M298.27 295.91H301.03M298.27 292.32V295.91M297.47 294.11H298.27M297.47 297.39H304.3M297.47 294.11V297.39M296.02 288.36H300.27M296.02 295.75H297.47M296.02 288.36V295.75M295.22 286.01H300.59M295.22 292.06H296.02M295.22 286.01V292.06M300.72 298.38H304.3M300.72 299.37H304.3M300.72 298.38V299.37M294.42 289.03H295.22M294.42 298.88H300.72M294.42 289.03V298.88M281.6 261.28H282.4M281.6 293.95H294.42M281.6 261.28V293.95M275 240.85H297M275 277.62H281.6M275 240.85V277.62M300.75 300.36H304.3M300.75 301.35H304.3M300.75 300.36V301.35M300.33 303.33H304.3M300.33 304.32H304.3M300.33 303.33V304.32M302.12 306.3H304.3M302.12 307.29H304.3M302.12 306.3V307.29M301.32 305.31H304.3M301.32 306.79H302.12M301.32 305.31V306.79M300.52 306.05H301.32M300.52 308.28H304.3M300.52 306.05V308.28M298.7 303.83H300.33M298.7 307.17H300.52M298.7 303.83V307.17M297.9 302.34H304.3M297.9 305.5H298.7M297.9 302.34V305.5M297.1 303.92H297.9M297.1 309.27H304.3M297.1 303.92V309.27M300.89 311.25H304.3M300.89 312.24H304.3M300.89 311.25V312.24M299.56 310.26H304.3M299.56 311.74H300.89M299.56 310.26V311.74M300.82 313.23H304.3M300.82 314.22H304.3M300.82 313.23V314.22M297.99 311H299.56M297.99 313.72H300.82M297.99 311V313.72M301.24 316.2H304.3M301.24 317.19H304.3M301.24 316.2V317.19M300.21 315.21H304.3M300.21 316.69H301.24M300.21 315.21V316.69M301.8 318.18H304.3M301.8 319.17H304.3M301.8 318.18V319.17M297.94 315.95H300.21M297.94 318.67H301.8M297.94 315.95V318.67M294.73 312.36H297.99M294.73 317.31H297.94M294.73 312.36V317.31M293.32 306.59H297.1M293.32 314.84H294.73M293.32 306.59V314.84M301.81 321.15H304.3M301.81 322.14H304.3M301.81 321.15V322.14M301.01 320.16H304.3M301.01 321.64H301.81M301.01 320.16V321.64M301.55 323.13H304.3M301.55 324.12H304.3M301.55 323.13V324.12M298.77 320.9H301.01M298.77 323.62H301.55M298.77 320.9V323.62M296.81 322.26H298.77M296.81 325.11H304.3M296.81 322.26V325.11M290.35 310.71H293.32M290.35 323.68H296.81M290.35 310.71V323.68M273.7 300.86H300.75M273.7 317.2H290.35M273.7 300.86V317.2M269.8 259.23H275M269.8 309.03H273.7M269.8 259.23V309.03M267.5 82.13H271.8M267.5 284.13H269.8M267.5 82.13V284.13" stroke="#111" stroke-width="0.85" fill="none"/>
<text x="0" y="0" font-size="8.7" fill="#111" stroke="#111" stroke-width="0.15" transform="translate(313.03 328.2) rotate(90)" textLength="26.6" lengthAdjust="spacingAndGlyphs">P1_AF</text>
<text x="0" y="0" font-size="8.7" fill="#111" stroke="#111" stroke-width="0.15" transform="translate(336.49 328.2) rotate(90)" textLength="26.6" lengthAdjust="spacingAndGlyphs">P4_AF</text>
<text x="0" y="0" font-size="8.7" fill="#111" stroke="#111" stroke-width="0.15" transform="translate(359.96 328.2) rotate(90)" textLength="26.6" lengthAdjust="spacingAndGlyphs">P2_AF</text>
<text x="0" y="0" font-size="8.7" fill="#111" stroke="#111" stroke-width="0.15" transform="translate(383.42 328.2) rotate(90)" textLength="26.6" lengthAdjust="spacingAndGlyphs">P3_AF</text>
<text x="0" y="0" font-size="8.7" fill="#111" stroke="#111" stroke-width="0.15" transform="translate(406.88 328.2) rotate(90)" textLength="26.6" lengthAdjust="spacingAndGlyphs">P1_BF</text>
<text x="0" y="0" font-size="8.7" fill="#111" stroke="#111" stroke-width="0.15" transform="translate(430.34 328.2) rotate(90)" textLength="26.6" lengthAdjust="spacingAndGlyphs">P3_BF</text>
<text x="0" y="0" font-size="8.7" fill="#111" stroke="#111" stroke-width="0.15" transform="translate(453.81 328.2) rotate(90)" textLength="26.6" lengthAdjust="spacingAndGlyphs">P4_BF</text>
<text x="0" y="0" font-size="8.7" fill="#111" stroke="#111" stroke-width="0.15" transform="translate(477.27 328.2) rotate(90)" textLength="26.6" lengthAdjust="spacingAndGlyphs">P2_BF</text>
<defs><linearGradient id="ck" x1="0" y1="0" x2="0" y2="1"><stop offset="0" stop-color="#e0262c"/><stop offset="0.25" stop-color="#8a1a1c"/><stop offset="0.5" stop-color="#141010"/><stop offset="0.75" stop-color="#3c6a2c"/><stop offset="1" stop-color="#6cb34c"/></linearGradient></defs>
<rect x="496.7" y="42.1" width="6.4" height="106.1" fill="url(#ck)"/>
<text x="506.3" y="54.5" font-size="9" fill="#111" stroke="#111" stroke-width="0.12">2</text>
<text x="506.3" y="76.3" font-size="9" fill="#111" stroke="#111" stroke-width="0.12">1</text>
<text x="506.3" y="98" font-size="9" fill="#111" stroke="#111" stroke-width="0.12">0</text>
<text x="506.3" y="119.8" font-size="9" fill="#111" stroke="#111" stroke-width="0.12">-1</text>
<text x="506.3" y="141.7" font-size="9" fill="#111" stroke="#111" stroke-width="0.12">-2</text>
<text x="12.3" y="397.8" font-size="11.6" fill="#000" font-weight="bold" stroke="#000" stroke-width="0.3" textLength="6.7" lengthAdjust="spacingAndGlyphs">E</text>
<rect x="79.3" y="403.7" width="72.1" height="154.9" fill="#fff"/>
<path d="M79.8 403.7V558.6M86.3 403.7V558.6M93.02 403.7V558.6M99.74 403.7V558.6M106.46 403.7V558.6M113.18 403.7V558.6M119.9 403.7V558.6M126.62 403.7V558.6M133.34 403.7V558.6M140.06 403.7V558.6M146.78 403.7V558.6M79.3 407.2H151.4M79.3 412.32H151.4M79.3 417.45H151.4M79.3 422.57H151.4M79.3 427.7H151.4M79.3 432.82H151.4M79.3 437.95H151.4M79.3 443.07H151.4M79.3 448.2H151.4M79.3 453.32H151.4M79.3 458.45H151.4M79.3 463.57H151.4M79.3 468.7H151.4M79.3 473.82H151.4M79.3 478.95H151.4M79.3 484.07H151.4M79.3 489.2H151.4M79.3 494.32H151.4M79.3 499.45H151.4M79.3 504.57H151.4M79.3 509.7H151.4M79.3 514.83H151.4M79.3 519.95H151.4M79.3 525.08H151.4M79.3 530.2H151.4M79.3 535.33H151.4M79.3 540.45H151.4M79.3 545.58H151.4M79.3 550.7H151.4M79.3 555.83H151.4" stroke="#d5d8d8" stroke-width="1.35" fill="none"/>
<rect x="79.3" y="403.7" width="72.1" height="154.9" fill="none" stroke="#cfcfcf" stroke-width="1.0"/>
<path d="M77.7 407.2H79.3M77.7 412.32H79.3M77.7 417.45H79.3M77.7 422.57H79.3M77.7 427.7H79.3M77.7 432.82H79.3M77.7 437.95H79.3M77.7 443.07H79.3M77.7 448.2H79.3M77.7 453.32H79.3M77.7 458.45H79.3M77.7 463.57H79.3M77.7 468.7H79.3M77.7 473.82H79.3M77.7 478.95H79.3M77.7 484.07H79.3M77.7 489.2H79.3M77.7 494.32H79.3M77.7 499.45H79.3M77.7 504.57H79.3M77.7 509.7H79.3M77.7 514.83H79.3M77.7 519.95H79.3M77.7 525.08H79.3M77.7 530.2H79.3M77.7 535.33H79.3M77.7 540.45H79.3M77.7 545.58H79.3M77.7 550.7H79.3M77.7 555.83H79.3M93 558.6V560.2M106.5 558.6V560.2M119.9 558.6V560.2M133.4 558.6V560.2M146.8 558.6V560.2" stroke="#555" stroke-width="0.4" fill="none"/>
<text x="47.1" y="408.25" font-size="3.1" fill="#555" textLength="30.3" lengthAdjust="spacingAndGlyphs">Carbohydrate binding</text>
<text x="52.2" y="413.38" font-size="3.1" fill="#555" textLength="25.2" lengthAdjust="spacingAndGlyphs">Fatty acid binding</text>
<text x="53.6" y="418.5" font-size="3.1" fill="#555" textLength="23.8" lengthAdjust="spacingAndGlyphs">Cytokine binding</text>
<text x="35.1" y="423.62" font-size="3.1" fill="#555" textLength="42.3" lengthAdjust="spacingAndGlyphs">Hydrolase activity, acting on ...</text>
<text x="41.5" y="428.75" font-size="3.1" fill="#555" textLength="35.9" lengthAdjust="spacingAndGlyphs">Cytokine receptor activity</text>
<text x="44.1" y="433.88" font-size="3.1" fill="#555" textLength="33.3" lengthAdjust="spacingAndGlyphs">Serine hydrolase activity</text>
<text x="36" y="439" font-size="3.1" fill="#555" textLength="41.4" lengthAdjust="spacingAndGlyphs">Serine-type peptidase activity</text>
<text x="29.1" y="444.12" font-size="3.1" fill="#555" textLength="48.3" lengthAdjust="spacingAndGlyphs">Serine-type endopeptidase activity</text>
<text x="45" y="449.25" font-size="3.1" fill="#555" textLength="32.4" lengthAdjust="spacingAndGlyphs">RAGE receptor binding</text>
<text x="36.7" y="454.38" font-size="3.1" fill="#555" textLength="40.7" lengthAdjust="spacingAndGlyphs">Long-chain fatty acid binding</text>
<text x="39.8" y="459.5" font-size="3.1" fill="#555" textLength="37.6" lengthAdjust="spacingAndGlyphs">Specific granule membrane</text>
<text x="37.2" y="464.62" font-size="3.1" fill="#555" textLength="40.2" lengthAdjust="spacingAndGlyphs">Secretory granule membrane</text>
<text x="52.8" y="469.75" font-size="3.1" fill="#555" textLength="24.6" lengthAdjust="spacingAndGlyphs">Azurophil granule</text>
<text x="53.3" y="474.88" font-size="3.1" fill="#555" textLength="24.1" lengthAdjust="spacingAndGlyphs">Primary lysosome</text>
<text x="46.3" y="480" font-size="3.1" fill="#555" textLength="31.1" lengthAdjust="spacingAndGlyphs">Specific granule lumen</text>
<text x="56.2" y="485.12" font-size="3.1" fill="#555" textLength="21.2" lengthAdjust="spacingAndGlyphs">Tertiary granule</text>
<text x="58.2" y="490.25" font-size="3.1" fill="#555" textLength="19.2" lengthAdjust="spacingAndGlyphs">Vacuolar lumen</text>
<text x="41" y="495.38" font-size="3.1" fill="#555" textLength="36.4" lengthAdjust="spacingAndGlyphs">Cytoplasmic vesicle lumen</text>
<text x="43.3" y="500.5" font-size="3.1" fill="#555" textLength="34.1" lengthAdjust="spacingAndGlyphs">Secretory granule lumen</text>
<text x="54.6" y="505.62" font-size="3.1" fill="#555" textLength="22.8" lengthAdjust="spacingAndGlyphs">Specific granule</text>
<text x="26.9" y="510.75" font-size="3.1" fill="#555" textLength="50.5" lengthAdjust="spacingAndGlyphs">Defense response to other organism</text>
<text x="49.1" y="515.88" font-size="3.1" fill="#555" textLength="28.3" lengthAdjust="spacingAndGlyphs">Leukocyte migration</text>
<text x="38.6" y="521" font-size="3.1" fill="#555" textLength="38.8" lengthAdjust="spacingAndGlyphs">Defense response to fungus</text>
<text x="40.2" y="526.12" font-size="3.1" fill="#555" textLength="37.2" lengthAdjust="spacingAndGlyphs">Humoral immune response</text>
<text x="33.5" y="531.25" font-size="3.1" fill="#555" textLength="43.9" lengthAdjust="spacingAndGlyphs">Antimicrobial humoral response</text>
<text x="33.8" y="536.38" font-size="3.1" fill="#555" textLength="43.6" lengthAdjust="spacingAndGlyphs">Defense response to bacterium</text>
<text x="46.3" y="541.5" font-size="3.1" fill="#555" textLength="31.1" lengthAdjust="spacingAndGlyphs">Granulocyte activation</text>
<text x="48.3" y="546.62" font-size="3.1" fill="#555" textLength="29.1" lengthAdjust="spacingAndGlyphs">Neutrophil activation</text>
<text x="42.1" y="551.75" font-size="3.1" fill="#555" textLength="35.3" lengthAdjust="spacingAndGlyphs">Neutrophil degranulation</text>
<text x="7.3" y="556.88" font-size="3.1" fill="#555" textLength="70.1" lengthAdjust="spacingAndGlyphs">Neutrophil activation involved in immune response</text>
<circle cx="93" cy="407.2" r="1.87" fill="#c8102e"/>
<circle cx="83.9" cy="412.32" r="1.18" fill="#c8102e"/>
<circle cx="87.2" cy="417.45" r="1.55" fill="#c8102e"/>
<circle cx="82.8" cy="422.57" r="0.86" fill="#c8102e"/>
<circle cx="87.2" cy="427.7" r="1.5" fill="#c8102e"/>
<circle cx="91.8" cy="432.82" r="1.55" fill="#c8102e"/>
<circle cx="91.8" cy="437.95" r="1.6" fill="#c8102e"/>
<circle cx="91.8" cy="443.07" r="1.6" fill="#c8102e"/>
<circle cx="83.9" cy="448.2" r="1.18" fill="#c8102e"/>
<circle cx="83.9" cy="453.32" r="1.18" fill="#c8102e"/>
<circle cx="96.5" cy="458.45" r="1.71" fill="#c8102e"/>
<circle cx="109.2" cy="463.57" r="2.03" fill="#c8102e"/>
<circle cx="103.7" cy="468.7" r="2.03" fill="#c8102e"/>
<circle cx="103.7" cy="473.82" r="2.03" fill="#c8102e"/>
<circle cx="98.5" cy="478.95" r="1.82" fill="#c8102e"/>
<circle cx="108.1" cy="484.07" r="2.03" fill="#c8102e"/>
<circle cx="119.6" cy="489.2" r="2.35" fill="#c8102e"/>
<circle cx="119.6" cy="494.32" r="2.35" fill="#c8102e"/>
<circle cx="119.6" cy="499.45" r="2.35" fill="#c8102e"/>
<circle cx="117.3" cy="504.57" r="2.25" fill="#c8102e"/>
<circle cx="106.3" cy="509.7" r="1.93" fill="#c8102e"/>
<circle cx="105.4" cy="514.83" r="1.93" fill="#c8102e"/>
<circle cx="89" cy="519.95" r="1.5" fill="#c8102e"/>
<circle cx="100" cy="525.08" r="1.71" fill="#c8102e"/>
<circle cx="95.8" cy="530.2" r="1.71" fill="#c8102e"/>
<circle cx="104.2" cy="535.33" r="1.71" fill="#c8102e"/>
<circle cx="147.3" cy="540.45" r="3" fill="#c8102e"/>
<circle cx="147.3" cy="545.58" r="3" fill="#c8102e"/>
<circle cx="147.3" cy="550.7" r="3" fill="#c8102e"/>
<circle cx="147.3" cy="555.83" r="3" fill="#c8102e"/>
<text x="93" y="564.6" font-size="3.1" fill="#444" text-anchor="middle">0.05</text>
<text x="106.5" y="564.6" font-size="3.1" fill="#444" text-anchor="middle">0.10</text>
<text x="119.9" y="564.6" font-size="3.1" fill="#444" text-anchor="middle">0.15</text>
<text x="133.4" y="564.6" font-size="3.1" fill="#444" text-anchor="middle">0.20</text>
<text x="146.8" y="564.6" font-size="3.1" fill="#444" text-anchor="middle">0.25</text>
<text x="105.8" y="571.2" font-size="5.6" fill="#444" textLength="18.8" lengthAdjust="spacingAndGlyphs">GeneRatio</text>
<text x="0" y="0" font-size="7.6" fill="#333" transform="translate(13.9 474.5) rotate(-90)" text-anchor="middle" textLength="29" lengthAdjust="spacingAndGlyphs">Description</text>
<text x="155.8" y="452.3" font-size="4.2" fill="#333">Count</text>
<circle cx="159.3" cy="457.8" r="1.4" fill="#000"/>
<text x="163.9" y="458.9" font-size="3" fill="#444">20</text>
<circle cx="159.3" cy="463.4" r="1.8" fill="#000"/>
<text x="163.9" y="464.5" font-size="3" fill="#444">40</text>
<circle cx="159.3" cy="469.5" r="2.2" fill="#000"/>
<text x="163.9" y="470.6" font-size="3" fill="#444">60</text>
<text x="155.8" y="482" font-size="4.2" fill="#333">p.adj</text>
<defs><linearGradient id="pg156" x1="0" y1="0" x2="0" y2="1"><stop offset="0" stop-color="#5a2782"/><stop offset="0.15" stop-color="#4a2d88"/><stop offset="0.3" stop-color="#1f4f96"/><stop offset="0.4" stop-color="#2a8c6a"/><stop offset="0.47" stop-color="#3db246"/><stop offset="0.55" stop-color="#c8c020"/><stop offset="0.62" stop-color="#f7b90c"/><stop offset="0.72" stop-color="#f28d12"/><stop offset="0.82" stop-color="#c06a22"/><stop offset="0.92" stop-color="#c03a30"/><stop offset="1" stop-color="#c8102e"/></linearGradient></defs>
<rect x="156.3" y="483.8" width="5.9" height="30.2" fill="url(#pg156)"/>
<text x="164.2" y="486.2" font-size="3" fill="#444">1.00</text>
<text x="164.2" y="493.1" font-size="3" fill="#444">0.75</text>
<text x="164.2" y="500" font-size="3" fill="#444">0.50</text>
<text x="164.2" y="506.9" font-size="3" fill="#444">0.25</text>
<text x="164.2" y="513.8" font-size="3" fill="#444">0.00</text>
<text x="183.2" y="396.3" font-size="11.6" fill="#000" font-weight="bold" stroke="#000" stroke-width="0.3">F</text>
<rect x="245.8" y="404.7" width="74.1" height="153.8" fill="#fff"/>
<path d="M246.7 404.7V558.5M257.3 404.7V558.5M267.8 404.7V558.5M278.3 404.7V558.5M288.8 404.7V558.5M299.3 404.7V558.5M309.8 404.7V558.5M245.8 409.6H319.9M245.8 417.23H319.9M245.8 424.85H319.9M245.8 432.48H319.9M245.8 440.1H319.9M245.8 447.73H319.9M245.8 455.35H319.9M245.8 462.98H319.9M245.8 470.6H319.9M245.8 478.23H319.9M245.8 485.85H319.9M245.8 493.48H319.9M245.8 501.1H319.9M245.8 508.73H319.9M245.8 516.35H319.9M245.8 523.98H319.9M245.8 531.6H319.9M245.8 539.23H319.9M245.8 546.85H319.9M245.8 554.48H319.9" stroke="#d5d8d8" stroke-width="1.35" fill="none"/>
<rect x="245.8" y="404.7" width="74.1" height="153.8" fill="none" stroke="#cfcfcf" stroke-width="1.0"/>
<path d="M244.2 409.6H245.8M244.2 417.23H245.8M244.2 424.85H245.8M244.2 432.48H245.8M244.2 440.1H245.8M244.2 447.73H245.8M244.2 455.35H245.8M244.2 462.98H245.8M244.2 470.6H245.8M244.2 478.23H245.8M244.2 485.85H245.8M244.2 493.48H245.8M244.2 501.1H245.8M244.2 508.73H245.8M244.2 516.35H245.8M244.2 523.98H245.8M244.2 531.6H245.8M244.2 539.23H245.8M244.2 546.85H245.8M244.2 554.48H245.8M257.2 558.5V560.1M278.2 558.5V560.1M299.3 558.5V560.1" stroke="#555" stroke-width="0.4" fill="none"/>
<text x="186.9" y="410.65" font-size="3.1" fill="#555" textLength="55.8" lengthAdjust="spacingAndGlyphs">Proximal tubule bicarbonate reclamation</text>
<text x="188.8" y="418.28" font-size="3.1" fill="#555" textLength="53.9" lengthAdjust="spacingAndGlyphs">Adrenergic signaling in cardiomyocytes</text>
<text x="218.3" y="425.9" font-size="3.1" fill="#555" textLength="24.4" lengthAdjust="spacingAndGlyphs">Allograft rejection</text>
<text x="216.9" y="433.53" font-size="3.1" fill="#555" textLength="25.8" lengthAdjust="spacingAndGlyphs">Mineral absorption</text>
<text x="210.6" y="441.15" font-size="3.1" fill="#555" textLength="32.1" lengthAdjust="spacingAndGlyphs">Th17 cell differentiation</text>
<text x="188.5" y="448.78" font-size="3.1" fill="#555" textLength="54.2" lengthAdjust="spacingAndGlyphs">Neuroactive ligand-receptor interaction</text>
<text x="207.7" y="456.4" font-size="3.1" fill="#555" textLength="35" lengthAdjust="spacingAndGlyphs">Renin-angiotensin system</text>
<text x="221.2" y="464.03" font-size="3.1" fill="#555" textLength="21.5" lengthAdjust="spacingAndGlyphs">HTLV-I infection</text>
<text x="175" y="471.65" font-size="3.1" fill="#555" textLength="67.7" lengthAdjust="spacingAndGlyphs">Glycosaminoglycan biosynthesis - keratan sulfate</text>
<text x="188.1" y="479.28" font-size="3.1" fill="#555" textLength="54.6" lengthAdjust="spacingAndGlyphs">Carbohydrate digestion and absorption</text>
<text x="195.3" y="486.9" font-size="3.1" fill="#555" textLength="47.4" lengthAdjust="spacingAndGlyphs">Th1 and Th2 cell differentiation</text>
<text x="197.7" y="494.53" font-size="3.1" fill="#555" textLength="45" lengthAdjust="spacingAndGlyphs">Protein digestion and absorption</text>
<text x="199.8" y="502.15" font-size="3.1" fill="#555" textLength="42.9" lengthAdjust="spacingAndGlyphs">Starch and sucrose metabolism</text>
<text x="191" y="509.78" font-size="3.1" fill="#555" textLength="51.7" lengthAdjust="spacingAndGlyphs">Transcriptional misregulation in cancer</text>
<text x="210.6" y="517.4" font-size="3.1" fill="#555" textLength="32.1" lengthAdjust="spacingAndGlyphs">IL-17 signaling pathway</text>
<text x="233.3" y="525.02" font-size="3.1" fill="#555" textLength="9.4" lengthAdjust="spacingAndGlyphs">Asthma</text>
<text x="206.2" y="532.65" font-size="3.1" fill="#555" textLength="36.5" lengthAdjust="spacingAndGlyphs">Jak-STAT signaling pathway</text>
<text x="227.6" y="540.27" font-size="3.1" fill="#555" textLength="15.1" lengthAdjust="spacingAndGlyphs">Alcoholism</text>
<text x="189.6" y="547.9" font-size="3.1" fill="#555" textLength="53.1" lengthAdjust="spacingAndGlyphs">Cytokine-cytokine receptor interaction</text>
<text x="205.5" y="555.52" font-size="3.1" fill="#555" textLength="37.2" lengthAdjust="spacingAndGlyphs">Hematopoietic cell lineage</text>
<circle cx="269.3" cy="417.23" r="1.85" fill="#27a844"/>
<circle cx="256.1" cy="432.48" r="1.2" fill="#2fb040"/>
<circle cx="269.3" cy="440.1" r="1.75" fill="#27a844"/>
<circle cx="276.2" cy="447.73" r="1.75" fill="#27a844"/>
<circle cx="296.3" cy="462.98" r="2.3" fill="#27a844"/>
<circle cx="249.3" cy="470.6" r="0.8" fill="#2fb040"/>
<circle cx="255.8" cy="478.23" r="1.15" fill="#2fb040"/>
<circle cx="269.3" cy="485.85" r="1.6" fill="#27a844"/>
<circle cx="262.7" cy="493.48" r="1.5" fill="#2aa545"/>
<circle cx="256.3" cy="501.1" r="1.2" fill="#f2b705"/>
<circle cx="289.6" cy="508.73" r="2.1" fill="#f2b705"/>
<circle cx="276" cy="516.35" r="1.9" fill="#f59a1a"/>
<circle cx="289.6" cy="531.6" r="2" fill="#f59a1a"/>
<circle cx="276" cy="539.23" r="1.5" fill="#ef8c10"/>
<circle cx="316.5" cy="546.85" r="2.2" fill="#b56a22"/>
<circle cx="289.6" cy="554.48" r="2" fill="#b86a24"/>
<text x="257.2" y="564.5" font-size="3.1" fill="#444" text-anchor="middle">0.03</text>
<text x="278.2" y="564.5" font-size="3.1" fill="#444" text-anchor="middle">0.06</text>
<text x="299.3" y="564.5" font-size="3.1" fill="#444" text-anchor="middle">0.09</text>
<text x="273.1" y="571.2" font-size="5.6" fill="#444" textLength="19.8" lengthAdjust="spacingAndGlyphs">GeneRatio</text>
<text x="324.6" y="444.1" font-size="4.2" fill="#333">Count</text>
<circle cx="328.2" cy="449.9" r="0.7" fill="#000"/>
<text x="332.9" y="451" font-size="3" fill="#444">2</text>
<circle cx="328.2" cy="455.7" r="1.1" fill="#000"/>
<text x="332.9" y="456.8" font-size="3" fill="#444">4</text>
<circle cx="328.2" cy="461.1" r="1.3" fill="#000"/>
<text x="332.9" y="462.2" font-size="3" fill="#444">6</text>
<circle cx="328.2" cy="466.9" r="1.5" fill="#000"/>
<text x="332.9" y="468" font-size="3" fill="#444">8</text>
<circle cx="328.2" cy="472.7" r="1.65" fill="#000"/>
<text x="332.9" y="473.8" font-size="3" fill="#444">10</text>
<circle cx="328.2" cy="478.8" r="1.95" fill="#000"/>
<text x="332.9" y="479.9" font-size="3" fill="#444">12</text>
<text x="324.6" y="491.6" font-size="4.2" fill="#333">p.adj</text>
<defs><linearGradient id="pg325" x1="0" y1="0" x2="0" y2="1"><stop offset="0" stop-color="#5a2782"/><stop offset="0.15" stop-color="#4a2d88"/><stop offset="0.3" stop-color="#1f4f96"/><stop offset="0.4" stop-color="#2a8c6a"/><stop offset="0.47" stop-color="#3db246"/><stop offset="0.55" stop-color="#c8c020"/><stop offset="0.62" stop-color="#f7b90c"/><stop offset="0.72" stop-color="#f28d12"/><stop offset="0.82" stop-color="#c06a22"/><stop offset="0.92" stop-color="#c03a30"/><stop offset="1" stop-color="#c8102e"/></linearGradient></defs>
<rect x="325.5" y="493.7" width="5.8" height="28.6" fill="url(#pg325)"/>
<text x="333" y="496.1" font-size="3" fill="#444">1.00</text>
<text x="333" y="502.6" font-size="3" fill="#444">0.75</text>
<text x="333" y="509.1" font-size="3" fill="#444">0.50</text>
<text x="333" y="515.6" font-size="3" fill="#444">0.25</text>
<text x="333" y="522.1" font-size="3" fill="#444">0.00</text>
<text x="340.2" y="397.6" font-size="11.6" fill="#000" font-weight="bold" stroke="#000" stroke-width="0.3">G</text>
<rect x="415.3" y="399.2" width="79.3" height="159.4" fill="#fff"/>
<path d="M416.2 399.2V558.6M426.9 399.2V558.6M437.1 399.2V558.6M447.3 399.2V558.6M457.5 399.2V558.6M467.7 399.2V558.6M477.9 399.2V558.6M488.1 399.2V558.6M415.3 404.2H494.6M415.3 412.08H494.6M415.3 419.96H494.6M415.3 427.84H494.6M415.3 435.72H494.6M415.3 443.6H494.6M415.3 451.48H494.6M415.3 459.36H494.6M415.3 467.24H494.6M415.3 475.12H494.6M415.3 483H494.6M415.3 490.88H494.6M415.3 498.76H494.6M415.3 506.64H494.6M415.3 514.52H494.6M415.3 522.4H494.6M415.3 530.28H494.6M415.3 538.16H494.6M415.3 546.04H494.6M415.3 553.92H494.6" stroke="#d5d8d8" stroke-width="1.35" fill="none"/>
<rect x="415.3" y="399.2" width="79.3" height="159.4" fill="none" stroke="#cfcfcf" stroke-width="1.0"/>
<path d="M413.7 404.2H415.3M413.7 412.08H415.3M413.7 419.96H415.3M413.7 427.84H415.3M413.7 435.72H415.3M413.7 443.6H415.3M413.7 451.48H415.3M413.7 459.36H415.3M413.7 467.24H415.3M413.7 475.12H415.3M413.7 483H415.3M413.7 490.88H415.3M413.7 498.76H415.3M413.7 506.64H415.3M413.7 514.52H415.3M413.7 522.4H415.3M413.7 530.28H415.3M413.7 538.16H415.3M413.7 546.04H415.3M413.7 553.92H415.3M416.8 558.6V560.2M437.1 558.6V560.2M457.4 558.6V560.2M477.7 558.6V560.2" stroke="#555" stroke-width="0.4" fill="none"/>
<text x="349.1" y="405.25" font-size="3.1" fill="#555" textLength="63.6" lengthAdjust="spacingAndGlyphs">Synthesis of Leukotrienes (LT) and Eoxins (EOX)</text>
<text x="363.6" y="413.13" font-size="3.1" fill="#555" textLength="49.1" lengthAdjust="spacingAndGlyphs">Regulation of complement cascade</text>
<text x="356.2" y="421.01" font-size="3.1" fill="#555" textLength="56.5" lengthAdjust="spacingAndGlyphs">Regulation of TLR by endogenous ligand</text>
<text x="360.3" y="428.89" font-size="3.1" fill="#555" textLength="52.4" lengthAdjust="spacingAndGlyphs">Glycogen breakdown (glycogenolysis)</text>
<text x="352.5" y="436.77" font-size="3.1" fill="#555" textLength="60.2" lengthAdjust="spacingAndGlyphs">Cell surface interactions at the vascular wall</text>
<text x="363.6" y="444.65" font-size="3.1" fill="#555" textLength="49.1" lengthAdjust="spacingAndGlyphs">Keratan sulfate/keratin metabolism</text>
<text x="377.9" y="452.53" font-size="3.1" fill="#555" textLength="34.8" lengthAdjust="spacingAndGlyphs">Miscellaneous substrates</text>
<text x="365.3" y="460.41" font-size="3.1" fill="#555" textLength="47.4" lengthAdjust="spacingAndGlyphs">Digestion of dietary carbohydrate</text>
<text x="381.6" y="468.29" font-size="3.1" fill="#555" textLength="31.1" lengthAdjust="spacingAndGlyphs">Digestion and absorption</text>
<text x="373.8" y="476.17" font-size="3.1" fill="#555" textLength="38.9" lengthAdjust="spacingAndGlyphs">Keratan sulfate biosynthesis</text>
<text x="357.9" y="484.05" font-size="3.1" fill="#555" textLength="54.8" lengthAdjust="spacingAndGlyphs">Degradation of the extracellular matrix</text>
<text x="381.6" y="491.93" font-size="3.1" fill="#555" textLength="31.1" lengthAdjust="spacingAndGlyphs">Collagen degradation</text>
<text x="346.7" y="499.81" font-size="3.1" fill="#555" textLength="66" lengthAdjust="spacingAndGlyphs">Metabolism of Angiotensinogen to Angiotensins</text>
<text x="357.9" y="507.69" font-size="3.1" fill="#555" textLength="54.8" lengthAdjust="spacingAndGlyphs">Activation of Matrix Metalloproteinases</text>
<text x="368.1" y="515.57" font-size="3.1" fill="#555" textLength="44.6" lengthAdjust="spacingAndGlyphs">Extracellular matrix organization</text>
<text x="376.2" y="523.45" font-size="3.1" fill="#555" textLength="36.5" lengthAdjust="spacingAndGlyphs">Other interleukin signaling</text>
<text x="389.1" y="531.33" font-size="3.1" fill="#555" textLength="23.6" lengthAdjust="spacingAndGlyphs">Alpha-defensins</text>
<text x="379.6" y="539.21" font-size="3.1" fill="#555" textLength="33.1" lengthAdjust="spacingAndGlyphs">Interleukin-10 signaling</text>
<text x="380.6" y="547.09" font-size="3.1" fill="#555" textLength="32.1" lengthAdjust="spacingAndGlyphs">Antimicrobial peptides</text>
<text x="376.2" y="554.97" font-size="3.1" fill="#555" textLength="36.5" lengthAdjust="spacingAndGlyphs">Neutrophil degranulation</text>
<circle cx="418.8" cy="404.2" r="0.95" fill="#5b2a86"/>
<circle cx="420.4" cy="412.08" r="1.15" fill="#5b2a86"/>
<circle cx="418.8" cy="419.96" r="1.05" fill="#5b2a86"/>
<circle cx="419.2" cy="427.84" r="1.05" fill="#5b2a86"/>
<circle cx="424" cy="435.72" r="1.2" fill="#1d4e8a"/>
<circle cx="420.4" cy="443.6" r="1.15" fill="#2fb040"/>
<circle cx="419.2" cy="451.48" r="0.9" fill="#2fb040"/>
<circle cx="419.2" cy="459.36" r="0.85" fill="#2fb040"/>
<circle cx="420.4" cy="467.24" r="1.15" fill="#f5b20a"/>
<circle cx="420.2" cy="475.12" r="1" fill="#f5b20a"/>
<circle cx="425.2" cy="483" r="1.2" fill="#f2a40e"/>
<circle cx="422.7" cy="490.88" r="1.2" fill="#ef8a12"/>
<circle cx="420.2" cy="498.76" r="1" fill="#ef8a12"/>
<circle cx="421.6" cy="506.64" r="1.15" fill="#b8601c"/>
<circle cx="432.2" cy="514.52" r="1.5" fill="#b8601c"/>
<circle cx="421.6" cy="522.4" r="1.15" fill="#c41e30"/>
<circle cx="420.2" cy="530.28" r="1.05" fill="#c41e30"/>
<circle cx="423.8" cy="538.16" r="1.2" fill="#c41e30"/>
<circle cx="433.5" cy="546.04" r="1.7" fill="#c8102e"/>
<circle cx="490.4" cy="553.92" r="2.6" fill="#c8102e"/>
<text x="416.8" y="564.6" font-size="3.1" fill="#444" text-anchor="middle">0.0</text>
<text x="437.1" y="564.6" font-size="3.1" fill="#444" text-anchor="middle">0.1</text>
<text x="457.4" y="564.6" font-size="3.1" fill="#444" text-anchor="middle">0.2</text>
<text x="477.7" y="564.6" font-size="3.1" fill="#444" text-anchor="middle">0.3</text>
<text x="445.5" y="571.2" font-size="5.6" fill="#444" textLength="19" lengthAdjust="spacingAndGlyphs">GeneRatio</text>
<text x="499.5" y="449.5" font-size="4.2" fill="#333">Count</text>
<circle cx="503" cy="454.9" r="1.3" fill="#000"/>
<text x="507.5" y="456" font-size="3" fill="#444">20</text>
<circle cx="503" cy="460.7" r="1.7" fill="#000"/>
<text x="507.5" y="461.8" font-size="3" fill="#444">40</text>
<circle cx="503" cy="466.7" r="2.1" fill="#000"/>
<text x="507.5" y="467.8" font-size="3" fill="#444">60</text>
<text x="499.5" y="480.5" font-size="4.2" fill="#333">p.adj</text>
<defs><linearGradient id="pg500" x1="0" y1="0" x2="0" y2="1"><stop offset="0" stop-color="#5a2782"/><stop offset="0.15" stop-color="#4a2d88"/><stop offset="0.3" stop-color="#1f4f96"/><stop offset="0.4" stop-color="#2a8c6a"/><stop offset="0.47" stop-color="#3db246"/><stop offset="0.55" stop-color="#c8c020"/><stop offset="0.62" stop-color="#f7b90c"/><stop offset="0.72" stop-color="#f28d12"/><stop offset="0.82" stop-color="#c06a22"/><stop offset="0.92" stop-color="#c03a30"/><stop offset="1" stop-color="#c8102e"/></linearGradient></defs>
<rect x="500" y="482.3" width="6.1" height="29.6" fill="url(#pg500)"/>
<text x="507.9" y="484.7" font-size="3" fill="#444">1.00</text>
<text x="507.9" y="491.45" font-size="3" fill="#444">0.75</text>
<text x="507.9" y="498.2" font-size="3" fill="#444">0.50</text>
<text x="507.9" y="504.95" font-size="3" fill="#444">0.25</text>
<text x="507.9" y="511.7" font-size="3" fill="#444">0.00</text>
<rect x="0" y="0" width="1.3" height="575" fill="#000"/>
<rect x="0" y="0" width="520" height="1.2" fill="#000"/>
<rect x="518.6" y="0" width="1.4" height="575" fill="#000"/>
<rect x="0" y="573.7" width="520" height="1.3" fill="#000"/>
</svg></body></html>
